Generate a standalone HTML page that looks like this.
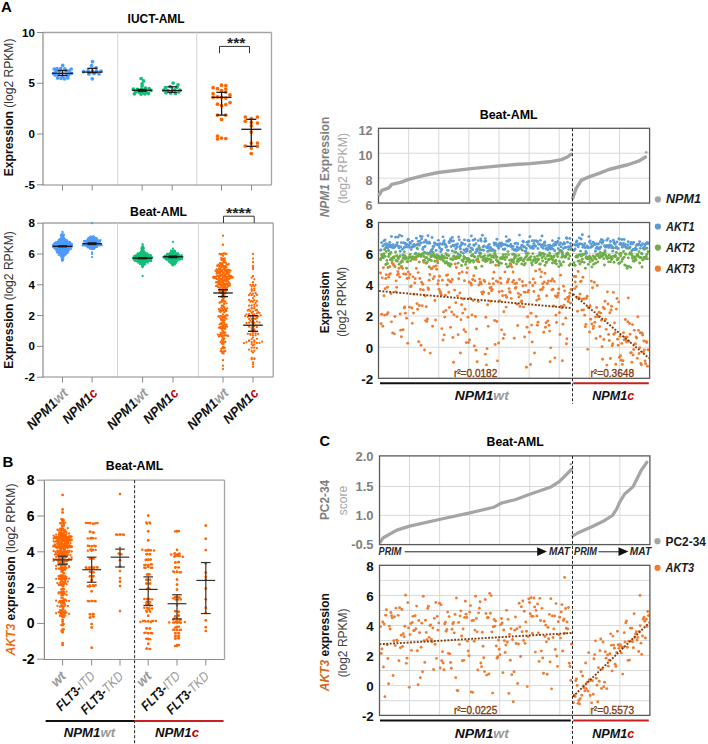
<!DOCTYPE html>
<html><head><meta charset="utf-8"><style>
html,body{margin:0;padding:0;background:#fff;}
svg{display:block;font-family:"Liberation Sans", sans-serif;}
</style></head><body>
<svg width="708" height="744" viewBox="0 0 708 744">
<rect width="708" height="744" fill="#fff"/>
<text x="1.00" y="12.30" font-size="15" font-weight="bold" font-style="normal" fill="#000" text-anchor="start">A</text>
<text x="2.40" y="467.10" font-size="15" font-weight="bold" font-style="normal" fill="#000" text-anchor="start">B</text>
<text x="319.60" y="446.00" font-size="14.5" font-weight="bold" font-style="normal" fill="#000" text-anchor="start">C</text>
<text x="156.10" y="23.40" font-size="12.5" font-weight="bold" font-style="normal" fill="#000" text-anchor="middle" textLength="57" lengthAdjust="spacingAndGlyphs">IUCT-AML</text>
<line x1="43.00" y1="32.50" x2="271.50" y2="32.50" stroke="#a4a4a4" stroke-width="1.3"/>
<line x1="271.50" y1="32.50" x2="271.50" y2="185.00" stroke="#a4a4a4" stroke-width="1.3"/>
<line x1="117.70" y1="32.50" x2="117.70" y2="185.00" stroke="#d4d4d4" stroke-width="1"/>
<line x1="196.70" y1="32.50" x2="196.70" y2="185.00" stroke="#d4d4d4" stroke-width="1"/>
<line x1="43.00" y1="32.50" x2="43.00" y2="185.50" stroke="#8a8a8a" stroke-width="1.2"/>
<line x1="42.50" y1="185.00" x2="271.50" y2="185.00" stroke="#8a8a8a" stroke-width="1.2"/>
<line x1="37.00" y1="32.50" x2="43.00" y2="32.50" stroke="#8a8a8a" stroke-width="1"/>
<text x="34.80" y="36.50" font-size="11.5" font-weight="bold" font-style="normal" fill="#000" text-anchor="end">10</text>
<line x1="37.00" y1="83.25" x2="43.00" y2="83.25" stroke="#8a8a8a" stroke-width="1"/>
<text x="34.80" y="87.25" font-size="11.5" font-weight="bold" font-style="normal" fill="#000" text-anchor="end">5</text>
<line x1="37.00" y1="134.00" x2="43.00" y2="134.00" stroke="#8a8a8a" stroke-width="1"/>
<text x="34.80" y="138.00" font-size="11.5" font-weight="bold" font-style="normal" fill="#000" text-anchor="end">0</text>
<line x1="37.00" y1="184.75" x2="43.00" y2="184.75" stroke="#8a8a8a" stroke-width="1"/>
<text x="34.80" y="188.75" font-size="11.5" font-weight="bold" font-style="normal" fill="#000" text-anchor="end">-5</text>
<line x1="62.50" y1="185.00" x2="62.50" y2="190.50" stroke="#8a8a8a" stroke-width="1"/>
<line x1="92.20" y1="185.00" x2="92.20" y2="190.50" stroke="#8a8a8a" stroke-width="1"/>
<line x1="142.20" y1="185.00" x2="142.20" y2="190.50" stroke="#8a8a8a" stroke-width="1"/>
<line x1="172.20" y1="185.00" x2="172.20" y2="190.50" stroke="#8a8a8a" stroke-width="1"/>
<line x1="221.50" y1="185.00" x2="221.50" y2="190.50" stroke="#8a8a8a" stroke-width="1"/>
<line x1="251.50" y1="185.00" x2="251.50" y2="190.50" stroke="#8a8a8a" stroke-width="1"/>
<path d="M219.5,53.2 V46.4 H249.5 V53.2" fill="none" stroke="#333" stroke-width="1"/>
<text x="236.20" y="47.80" font-size="15" font-weight="bold" font-style="normal" fill="#222" text-anchor="middle" textLength="18.3" lengthAdjust="spacingAndGlyphs">***</text>
<g fill="#4f9bff"><circle cx="62.70" cy="65.40" r="1.85"/><circle cx="54.20" cy="69.00" r="1.85"/><circle cx="56.90" cy="68.60" r="1.85"/><circle cx="60.60" cy="68.60" r="1.85"/><circle cx="64.80" cy="68.80" r="1.85"/><circle cx="71.20" cy="69.00" r="1.85"/><circle cx="69.10" cy="70.80" r="1.85"/><circle cx="55.90" cy="71.20" r="1.85"/><circle cx="59.30" cy="71.10" r="1.85"/><circle cx="66.10" cy="70.70" r="1.85"/><circle cx="55.10" cy="75.00" r="1.85"/><circle cx="58.50" cy="75.00" r="1.85"/><circle cx="66.90" cy="75.40" r="1.85"/><circle cx="68.60" cy="75.00" r="1.85"/><circle cx="57.60" cy="77.90" r="1.85"/><circle cx="61.00" cy="78.30" r="1.85"/><circle cx="64.40" cy="78.80" r="1.85"/><circle cx="67.80" cy="77.90" r="1.85"/><circle cx="62.70" cy="76.60" r="1.85"/><circle cx="53.60" cy="73.50" r="1.85"/><circle cx="71.50" cy="73.30" r="1.85"/></g>
<g fill="#4f9bff"><circle cx="92.50" cy="61.70" r="1.85"/><circle cx="91.50" cy="65.70" r="1.85"/><circle cx="96.10" cy="67.90" r="1.85"/><circle cx="83.60" cy="71.70" r="1.85"/><circle cx="88.10" cy="70.70" r="1.85"/><circle cx="92.50" cy="71.10" r="1.85"/><circle cx="96.50" cy="71.10" r="1.85"/><circle cx="101.00" cy="71.10" r="1.85"/><circle cx="88.90" cy="74.00" r="1.85"/><circle cx="94.10" cy="73.50" r="1.85"/><circle cx="99.00" cy="74.00" r="1.85"/><circle cx="92.30" cy="78.80" r="1.85"/></g>
<g fill="#12bf78"><circle cx="141.20" cy="78.50" r="1.85"/><circle cx="143.60" cy="80.90" r="1.85"/><circle cx="142.10" cy="83.80" r="1.85"/><circle cx="142.10" cy="86.00" r="1.85"/><circle cx="133.30" cy="89.00" r="1.85"/><circle cx="137.40" cy="89.30" r="1.85"/><circle cx="141.40" cy="89.00" r="1.85"/><circle cx="145.40" cy="88.20" r="1.85"/><circle cx="149.10" cy="88.60" r="1.85"/><circle cx="151.00" cy="90.40" r="1.85"/><circle cx="135.50" cy="91.90" r="1.85"/><circle cx="139.20" cy="92.30" r="1.85"/><circle cx="142.90" cy="92.30" r="1.85"/><circle cx="146.50" cy="92.30" r="1.85"/><circle cx="134.40" cy="93.80" r="1.85"/><circle cx="141.00" cy="94.10" r="1.85"/><circle cx="144.70" cy="93.80" r="1.85"/><circle cx="148.40" cy="93.40" r="1.85"/></g>
<g fill="#12bf78"><circle cx="173.10" cy="83.00" r="1.85"/><circle cx="178.00" cy="84.80" r="1.85"/><circle cx="170.30" cy="86.60" r="1.85"/><circle cx="165.50" cy="87.70" r="1.85"/><circle cx="176.90" cy="87.20" r="1.85"/><circle cx="163.70" cy="90.10" r="1.85"/><circle cx="167.70" cy="90.50" r="1.85"/><circle cx="174.70" cy="89.80" r="1.85"/><circle cx="179.90" cy="90.10" r="1.85"/><circle cx="165.90" cy="92.70" r="1.85"/><circle cx="170.70" cy="93.10" r="1.85"/><circle cx="175.40" cy="93.40" r="1.85"/><circle cx="178.80" cy="92.00" r="1.85"/></g>
<g fill="#ff6600"><circle cx="213.10" cy="87.70" r="1.85"/><circle cx="221.50" cy="85.20" r="1.85"/><circle cx="225.80" cy="85.50" r="1.85"/><circle cx="217.50" cy="88.70" r="1.85"/><circle cx="221.50" cy="90.50" r="1.85"/><circle cx="225.80" cy="89.00" r="1.85"/><circle cx="213.10" cy="93.70" r="1.85"/><circle cx="225.80" cy="92.10" r="1.85"/><circle cx="230.00" cy="94.90" r="1.85"/><circle cx="213.10" cy="97.30" r="1.85"/><circle cx="217.50" cy="96.90" r="1.85"/><circle cx="225.80" cy="98.10" r="1.85"/><circle cx="221.50" cy="97.30" r="1.85"/><circle cx="217.50" cy="104.20" r="1.85"/><circle cx="221.50" cy="105.60" r="1.85"/><circle cx="225.80" cy="104.60" r="1.85"/><circle cx="230.00" cy="102.60" r="1.85"/><circle cx="217.50" cy="115.10" r="1.85"/><circle cx="225.80" cy="115.10" r="1.85"/><circle cx="221.50" cy="119.40" r="1.85"/><circle cx="217.50" cy="136.00" r="1.85"/><circle cx="221.50" cy="138.10" r="1.85"/><circle cx="225.80" cy="138.50" r="1.85"/><circle cx="217.50" cy="138.90" r="1.85"/></g>
<g fill="#ff6600"><circle cx="245.30" cy="117.00" r="1.85"/><circle cx="257.40" cy="117.00" r="1.85"/><circle cx="251.30" cy="118.50" r="1.85"/><circle cx="245.30" cy="121.20" r="1.85"/><circle cx="251.30" cy="122.40" r="1.85"/><circle cx="257.40" cy="123.00" r="1.85"/><circle cx="251.30" cy="125.80" r="1.85"/><circle cx="251.30" cy="132.10" r="1.85"/><circle cx="251.30" cy="143.10" r="1.85"/><circle cx="257.40" cy="143.00" r="1.85"/><circle cx="245.30" cy="146.00" r="1.85"/><circle cx="257.40" cy="146.30" r="1.85"/><circle cx="251.30" cy="148.10" r="1.85"/><circle cx="251.30" cy="153.50" r="1.85"/></g>
<line x1="52.10" y1="73.30" x2="72.90" y2="73.30" stroke="#1a1a1a" stroke-width="1.3"/>
<line x1="62.50" y1="70.50" x2="62.50" y2="75.40" stroke="#1a1a1a" stroke-width="1.3"/>
<line x1="57.60" y1="70.50" x2="67.40" y2="70.50" stroke="#1a1a1a" stroke-width="1.3"/>
<line x1="57.60" y1="75.40" x2="67.40" y2="75.40" stroke="#1a1a1a" stroke-width="1.3"/>
<line x1="82.10" y1="72.10" x2="102.50" y2="72.10" stroke="#1a1a1a" stroke-width="1.3"/>
<line x1="92.30" y1="68.30" x2="92.30" y2="72.70" stroke="#1a1a1a" stroke-width="1.3"/>
<line x1="87.30" y1="68.30" x2="97.30" y2="68.30" stroke="#1a1a1a" stroke-width="1.3"/>
<line x1="87.30" y1="72.70" x2="97.30" y2="72.70" stroke="#1a1a1a" stroke-width="1.3"/>
<line x1="132.00" y1="90.30" x2="152.00" y2="90.30" stroke="#1a1a1a" stroke-width="1.3"/>
<line x1="142.00" y1="89.50" x2="142.00" y2="91.20" stroke="#1a1a1a" stroke-width="1.3"/>
<line x1="137.40" y1="89.50" x2="146.60" y2="89.50" stroke="#1a1a1a" stroke-width="1.3"/>
<line x1="137.40" y1="91.20" x2="146.60" y2="91.20" stroke="#1a1a1a" stroke-width="1.3"/>
<line x1="162.10" y1="90.50" x2="182.10" y2="90.50" stroke="#1a1a1a" stroke-width="1.3"/>
<line x1="172.10" y1="86.80" x2="172.10" y2="92.30" stroke="#1a1a1a" stroke-width="1.3"/>
<line x1="167.30" y1="86.80" x2="176.90" y2="86.80" stroke="#1a1a1a" stroke-width="1.3"/>
<line x1="167.30" y1="92.30" x2="176.90" y2="92.30" stroke="#1a1a1a" stroke-width="1.3"/>
<line x1="211.70" y1="97.30" x2="231.50" y2="97.30" stroke="#1a1a1a" stroke-width="1.3"/>
<line x1="221.60" y1="92.30" x2="221.60" y2="115.10" stroke="#1a1a1a" stroke-width="1.3"/>
<line x1="216.40" y1="92.30" x2="226.80" y2="92.30" stroke="#1a1a1a" stroke-width="1.3"/>
<line x1="216.40" y1="115.10" x2="226.80" y2="115.10" stroke="#1a1a1a" stroke-width="1.3"/>
<line x1="241.30" y1="129.30" x2="261.30" y2="129.30" stroke="#1a1a1a" stroke-width="1.3"/>
<line x1="251.30" y1="119.30" x2="251.30" y2="146.30" stroke="#1a1a1a" stroke-width="1.3"/>
<line x1="246.30" y1="119.30" x2="256.30" y2="119.30" stroke="#1a1a1a" stroke-width="1.3"/>
<line x1="246.30" y1="146.30" x2="256.30" y2="146.30" stroke="#1a1a1a" stroke-width="1.3"/>
<text x="0.00" y="0.00" font-size="12" text-anchor="middle" textLength="137.6" lengthAdjust="spacingAndGlyphs" transform="translate(13.2,107.4) rotate(-90)"><tspan font-weight="bold" font-style="normal" fill="#111">Expression </tspan><tspan font-weight="normal" font-style="normal" fill="#333">(log2 RPKM)</tspan></text>
<text x="158.60" y="215.80" font-size="12.5" font-weight="bold" font-style="normal" fill="#000" text-anchor="middle" textLength="57" lengthAdjust="spacingAndGlyphs">Beat-AML</text>
<line x1="43.00" y1="223.00" x2="273.20" y2="223.00" stroke="#a4a4a4" stroke-width="1.3"/>
<line x1="273.20" y1="223.00" x2="273.20" y2="377.00" stroke="#a4a4a4" stroke-width="1.3"/>
<line x1="117.50" y1="223.00" x2="117.50" y2="377.00" stroke="#d4d4d4" stroke-width="1"/>
<line x1="198.40" y1="223.00" x2="198.40" y2="377.00" stroke="#d4d4d4" stroke-width="1"/>
<line x1="43.00" y1="223.00" x2="43.00" y2="377.50" stroke="#8a8a8a" stroke-width="1.2"/>
<line x1="42.50" y1="377.00" x2="273.20" y2="377.00" stroke="#8a8a8a" stroke-width="1.2"/>
<line x1="37.00" y1="223.20" x2="43.00" y2="223.20" stroke="#8a8a8a" stroke-width="1"/>
<text x="34.80" y="227.20" font-size="11.5" font-weight="bold" font-style="normal" fill="#000" text-anchor="end">8</text>
<line x1="37.00" y1="254.00" x2="43.00" y2="254.00" stroke="#8a8a8a" stroke-width="1"/>
<text x="34.80" y="258.00" font-size="11.5" font-weight="bold" font-style="normal" fill="#000" text-anchor="end">6</text>
<line x1="37.00" y1="284.80" x2="43.00" y2="284.80" stroke="#8a8a8a" stroke-width="1"/>
<text x="34.80" y="288.80" font-size="11.5" font-weight="bold" font-style="normal" fill="#000" text-anchor="end">4</text>
<line x1="37.00" y1="315.60" x2="43.00" y2="315.60" stroke="#8a8a8a" stroke-width="1"/>
<text x="34.80" y="319.60" font-size="11.5" font-weight="bold" font-style="normal" fill="#000" text-anchor="end">2</text>
<line x1="37.00" y1="346.40" x2="43.00" y2="346.40" stroke="#8a8a8a" stroke-width="1"/>
<text x="34.80" y="350.40" font-size="11.5" font-weight="bold" font-style="normal" fill="#000" text-anchor="end">0</text>
<line x1="37.00" y1="377.20" x2="43.00" y2="377.20" stroke="#8a8a8a" stroke-width="1"/>
<text x="34.80" y="381.20" font-size="11.5" font-weight="bold" font-style="normal" fill="#000" text-anchor="end">-2</text>
<line x1="62.50" y1="377.00" x2="62.50" y2="382.50" stroke="#8a8a8a" stroke-width="1"/>
<line x1="92.10" y1="377.00" x2="92.10" y2="382.50" stroke="#8a8a8a" stroke-width="1"/>
<line x1="142.60" y1="377.00" x2="142.60" y2="382.50" stroke="#8a8a8a" stroke-width="1"/>
<line x1="173.00" y1="377.00" x2="173.00" y2="382.50" stroke="#8a8a8a" stroke-width="1"/>
<line x1="223.00" y1="377.00" x2="223.00" y2="382.50" stroke="#8a8a8a" stroke-width="1"/>
<line x1="253.00" y1="377.00" x2="253.00" y2="382.50" stroke="#8a8a8a" stroke-width="1"/>
<path d="M223.5,222.9 V216.2 H254.2 V222.9" fill="none" stroke="#333" stroke-width="1"/>
<text x="238.60" y="217.60" font-size="15" font-weight="bold" font-style="normal" fill="#222" text-anchor="middle" textLength="25.4" lengthAdjust="spacingAndGlyphs">****</text>
<g fill="#4f9bff"><circle cx="62.50" cy="231.82" r="1.15"/><circle cx="62.50" cy="233.08" r="1.15"/><circle cx="61.09" cy="234.92" r="1.15"/><circle cx="61.49" cy="234.96" r="1.15"/><circle cx="61.89" cy="235.68" r="1.15"/><circle cx="62.30" cy="236.22" r="1.15"/><circle cx="62.70" cy="234.87" r="1.15"/><circle cx="63.11" cy="235.60" r="1.15"/><circle cx="63.51" cy="235.09" r="1.15"/><circle cx="63.91" cy="234.76" r="1.15"/><circle cx="61.29" cy="236.57" r="1.15"/><circle cx="61.69" cy="237.05" r="1.15"/><circle cx="62.10" cy="236.85" r="1.15"/><circle cx="62.50" cy="238.00" r="1.15"/><circle cx="62.90" cy="236.63" r="1.15"/><circle cx="63.31" cy="236.97" r="1.15"/><circle cx="63.71" cy="237.91" r="1.15"/><circle cx="59.87" cy="239.22" r="1.15"/><circle cx="60.28" cy="239.08" r="1.15"/><circle cx="60.68" cy="239.18" r="1.15"/><circle cx="61.09" cy="238.59" r="1.15"/><circle cx="61.49" cy="238.39" r="1.15"/><circle cx="61.89" cy="239.63" r="1.15"/><circle cx="62.30" cy="238.65" r="1.15"/><circle cx="62.70" cy="239.35" r="1.15"/><circle cx="63.11" cy="238.63" r="1.15"/><circle cx="63.51" cy="239.82" r="1.15"/><circle cx="63.91" cy="238.39" r="1.15"/><circle cx="64.32" cy="239.88" r="1.15"/><circle cx="64.72" cy="239.45" r="1.15"/><circle cx="65.13" cy="239.35" r="1.15"/><circle cx="57.45" cy="241.84" r="1.15"/><circle cx="57.85" cy="241.80" r="1.15"/><circle cx="58.26" cy="241.59" r="1.15"/><circle cx="58.66" cy="240.23" r="1.15"/><circle cx="59.06" cy="241.58" r="1.15"/><circle cx="59.47" cy="241.89" r="1.15"/><circle cx="59.87" cy="240.51" r="1.15"/><circle cx="60.28" cy="240.54" r="1.15"/><circle cx="60.68" cy="240.96" r="1.15"/><circle cx="61.09" cy="241.84" r="1.15"/><circle cx="61.49" cy="240.15" r="1.15"/><circle cx="61.89" cy="240.96" r="1.15"/><circle cx="62.30" cy="240.82" r="1.15"/><circle cx="62.70" cy="240.97" r="1.15"/><circle cx="63.11" cy="240.10" r="1.15"/><circle cx="63.51" cy="240.59" r="1.15"/><circle cx="63.91" cy="240.12" r="1.15"/><circle cx="64.32" cy="241.77" r="1.15"/><circle cx="64.72" cy="240.40" r="1.15"/><circle cx="65.13" cy="240.30" r="1.15"/><circle cx="65.53" cy="240.45" r="1.15"/><circle cx="65.94" cy="240.25" r="1.15"/><circle cx="66.34" cy="241.71" r="1.15"/><circle cx="66.74" cy="240.15" r="1.15"/><circle cx="67.15" cy="241.22" r="1.15"/><circle cx="67.55" cy="241.58" r="1.15"/><circle cx="54.62" cy="243.17" r="1.15"/><circle cx="55.02" cy="243.28" r="1.15"/><circle cx="55.43" cy="243.51" r="1.15"/><circle cx="55.83" cy="242.58" r="1.15"/><circle cx="56.23" cy="242.09" r="1.15"/><circle cx="56.64" cy="242.49" r="1.15"/><circle cx="57.04" cy="243.63" r="1.15"/><circle cx="57.45" cy="243.44" r="1.15"/><circle cx="57.85" cy="242.73" r="1.15"/><circle cx="58.26" cy="242.93" r="1.15"/><circle cx="58.66" cy="243.24" r="1.15"/><circle cx="59.06" cy="243.37" r="1.15"/><circle cx="59.47" cy="242.50" r="1.15"/><circle cx="59.87" cy="243.36" r="1.15"/><circle cx="60.28" cy="242.10" r="1.15"/><circle cx="60.68" cy="242.55" r="1.15"/><circle cx="61.09" cy="243.17" r="1.15"/><circle cx="61.49" cy="242.14" r="1.15"/><circle cx="61.89" cy="243.04" r="1.15"/><circle cx="62.30" cy="243.27" r="1.15"/><circle cx="62.70" cy="243.52" r="1.15"/><circle cx="63.11" cy="242.82" r="1.15"/><circle cx="63.51" cy="242.25" r="1.15"/><circle cx="63.91" cy="243.40" r="1.15"/><circle cx="64.32" cy="242.43" r="1.15"/><circle cx="64.72" cy="242.75" r="1.15"/><circle cx="65.13" cy="243.75" r="1.15"/><circle cx="65.53" cy="242.03" r="1.15"/><circle cx="65.94" cy="243.76" r="1.15"/><circle cx="66.34" cy="242.65" r="1.15"/><circle cx="66.74" cy="242.55" r="1.15"/><circle cx="67.15" cy="242.52" r="1.15"/><circle cx="67.55" cy="243.44" r="1.15"/><circle cx="67.96" cy="242.73" r="1.15"/><circle cx="68.36" cy="243.15" r="1.15"/><circle cx="68.77" cy="242.78" r="1.15"/><circle cx="69.17" cy="242.06" r="1.15"/><circle cx="69.57" cy="242.01" r="1.15"/><circle cx="69.98" cy="242.41" r="1.15"/><circle cx="70.38" cy="242.79" r="1.15"/><circle cx="53.00" cy="245.63" r="1.15"/><circle cx="53.40" cy="244.87" r="1.15"/><circle cx="53.81" cy="244.39" r="1.15"/><circle cx="54.21" cy="244.31" r="1.15"/><circle cx="54.62" cy="244.25" r="1.15"/><circle cx="55.02" cy="245.18" r="1.15"/><circle cx="55.43" cy="245.64" r="1.15"/><circle cx="55.83" cy="244.22" r="1.15"/><circle cx="56.23" cy="244.63" r="1.15"/><circle cx="56.64" cy="245.26" r="1.15"/><circle cx="57.04" cy="245.36" r="1.15"/><circle cx="57.45" cy="245.35" r="1.15"/><circle cx="57.85" cy="245.57" r="1.15"/><circle cx="58.26" cy="245.05" r="1.15"/><circle cx="58.66" cy="245.13" r="1.15"/><circle cx="59.06" cy="244.79" r="1.15"/><circle cx="59.47" cy="244.14" r="1.15"/><circle cx="59.87" cy="244.85" r="1.15"/><circle cx="60.28" cy="244.58" r="1.15"/><circle cx="60.68" cy="244.06" r="1.15"/><circle cx="61.09" cy="245.39" r="1.15"/><circle cx="61.49" cy="245.17" r="1.15"/><circle cx="61.89" cy="244.24" r="1.15"/><circle cx="62.30" cy="244.45" r="1.15"/><circle cx="62.70" cy="245.41" r="1.15"/><circle cx="63.11" cy="244.90" r="1.15"/><circle cx="63.51" cy="244.62" r="1.15"/><circle cx="63.91" cy="244.68" r="1.15"/><circle cx="64.32" cy="245.28" r="1.15"/><circle cx="64.72" cy="245.28" r="1.15"/><circle cx="65.13" cy="244.49" r="1.15"/><circle cx="65.53" cy="243.95" r="1.15"/><circle cx="65.94" cy="245.20" r="1.15"/><circle cx="66.34" cy="244.42" r="1.15"/><circle cx="66.74" cy="244.39" r="1.15"/><circle cx="67.15" cy="244.30" r="1.15"/><circle cx="67.55" cy="244.82" r="1.15"/><circle cx="67.96" cy="244.71" r="1.15"/><circle cx="68.36" cy="245.27" r="1.15"/><circle cx="68.77" cy="245.36" r="1.15"/><circle cx="69.17" cy="245.30" r="1.15"/><circle cx="69.57" cy="244.80" r="1.15"/><circle cx="69.98" cy="243.97" r="1.15"/><circle cx="70.38" cy="245.70" r="1.15"/><circle cx="70.79" cy="244.12" r="1.15"/><circle cx="71.19" cy="244.51" r="1.15"/><circle cx="71.60" cy="245.24" r="1.15"/><circle cx="72.00" cy="244.24" r="1.15"/><circle cx="53.00" cy="246.86" r="1.15"/><circle cx="53.40" cy="247.18" r="1.15"/><circle cx="53.81" cy="246.56" r="1.15"/><circle cx="54.21" cy="246.20" r="1.15"/><circle cx="54.62" cy="247.56" r="1.15"/><circle cx="55.02" cy="247.26" r="1.15"/><circle cx="55.43" cy="246.61" r="1.15"/><circle cx="55.83" cy="246.41" r="1.15"/><circle cx="56.23" cy="246.77" r="1.15"/><circle cx="56.64" cy="245.71" r="1.15"/><circle cx="57.04" cy="246.54" r="1.15"/><circle cx="57.45" cy="247.34" r="1.15"/><circle cx="57.85" cy="246.88" r="1.15"/><circle cx="58.26" cy="246.66" r="1.15"/><circle cx="58.66" cy="247.00" r="1.15"/><circle cx="59.06" cy="246.68" r="1.15"/><circle cx="59.47" cy="245.77" r="1.15"/><circle cx="59.87" cy="246.55" r="1.15"/><circle cx="60.28" cy="246.06" r="1.15"/><circle cx="60.68" cy="246.15" r="1.15"/><circle cx="61.09" cy="246.25" r="1.15"/><circle cx="61.49" cy="246.54" r="1.15"/><circle cx="61.89" cy="247.53" r="1.15"/><circle cx="62.30" cy="246.13" r="1.15"/><circle cx="62.70" cy="246.21" r="1.15"/><circle cx="63.11" cy="246.84" r="1.15"/><circle cx="63.51" cy="246.61" r="1.15"/><circle cx="63.91" cy="246.09" r="1.15"/><circle cx="64.32" cy="245.75" r="1.15"/><circle cx="64.72" cy="246.69" r="1.15"/><circle cx="65.13" cy="245.88" r="1.15"/><circle cx="65.53" cy="246.04" r="1.15"/><circle cx="65.94" cy="246.18" r="1.15"/><circle cx="66.34" cy="246.09" r="1.15"/><circle cx="66.74" cy="245.96" r="1.15"/><circle cx="67.15" cy="246.91" r="1.15"/><circle cx="67.55" cy="246.24" r="1.15"/><circle cx="67.96" cy="245.99" r="1.15"/><circle cx="68.36" cy="247.53" r="1.15"/><circle cx="68.77" cy="245.83" r="1.15"/><circle cx="69.17" cy="245.99" r="1.15"/><circle cx="69.57" cy="246.44" r="1.15"/><circle cx="69.98" cy="247.17" r="1.15"/><circle cx="70.38" cy="246.10" r="1.15"/><circle cx="70.79" cy="245.71" r="1.15"/><circle cx="71.19" cy="245.72" r="1.15"/><circle cx="71.60" cy="246.95" r="1.15"/><circle cx="72.00" cy="246.04" r="1.15"/><circle cx="54.21" cy="247.63" r="1.15"/><circle cx="54.62" cy="248.18" r="1.15"/><circle cx="55.02" cy="248.11" r="1.15"/><circle cx="55.43" cy="248.96" r="1.15"/><circle cx="55.83" cy="247.70" r="1.15"/><circle cx="56.23" cy="249.06" r="1.15"/><circle cx="56.64" cy="248.08" r="1.15"/><circle cx="57.04" cy="248.14" r="1.15"/><circle cx="57.45" cy="247.75" r="1.15"/><circle cx="57.85" cy="248.21" r="1.15"/><circle cx="58.26" cy="249.07" r="1.15"/><circle cx="58.66" cy="248.48" r="1.15"/><circle cx="59.06" cy="249.14" r="1.15"/><circle cx="59.47" cy="249.02" r="1.15"/><circle cx="59.87" cy="248.00" r="1.15"/><circle cx="60.28" cy="248.16" r="1.15"/><circle cx="60.68" cy="248.67" r="1.15"/><circle cx="61.09" cy="249.39" r="1.15"/><circle cx="61.49" cy="249.34" r="1.15"/><circle cx="61.89" cy="248.05" r="1.15"/><circle cx="62.30" cy="247.84" r="1.15"/><circle cx="62.70" cy="248.98" r="1.15"/><circle cx="63.11" cy="247.74" r="1.15"/><circle cx="63.51" cy="247.91" r="1.15"/><circle cx="63.91" cy="249.31" r="1.15"/><circle cx="64.32" cy="248.86" r="1.15"/><circle cx="64.72" cy="247.94" r="1.15"/><circle cx="65.13" cy="249.10" r="1.15"/><circle cx="65.53" cy="247.66" r="1.15"/><circle cx="65.94" cy="248.33" r="1.15"/><circle cx="66.34" cy="248.97" r="1.15"/><circle cx="66.74" cy="247.84" r="1.15"/><circle cx="67.15" cy="248.70" r="1.15"/><circle cx="67.55" cy="248.73" r="1.15"/><circle cx="67.96" cy="247.99" r="1.15"/><circle cx="68.36" cy="247.93" r="1.15"/><circle cx="68.77" cy="249.24" r="1.15"/><circle cx="69.17" cy="249.07" r="1.15"/><circle cx="69.57" cy="248.19" r="1.15"/><circle cx="69.98" cy="248.86" r="1.15"/><circle cx="70.38" cy="249.17" r="1.15"/><circle cx="70.79" cy="248.89" r="1.15"/><circle cx="56.44" cy="250.53" r="1.15"/><circle cx="56.84" cy="251.35" r="1.15"/><circle cx="57.24" cy="250.74" r="1.15"/><circle cx="57.65" cy="250.80" r="1.15"/><circle cx="58.05" cy="250.85" r="1.15"/><circle cx="58.46" cy="250.39" r="1.15"/><circle cx="58.86" cy="250.68" r="1.15"/><circle cx="59.27" cy="249.76" r="1.15"/><circle cx="59.67" cy="250.15" r="1.15"/><circle cx="60.07" cy="251.26" r="1.15"/><circle cx="60.48" cy="250.62" r="1.15"/><circle cx="60.88" cy="249.52" r="1.15"/><circle cx="61.29" cy="250.72" r="1.15"/><circle cx="61.69" cy="250.20" r="1.15"/><circle cx="62.10" cy="251.25" r="1.15"/><circle cx="62.50" cy="250.77" r="1.15"/><circle cx="62.90" cy="250.53" r="1.15"/><circle cx="63.31" cy="250.45" r="1.15"/><circle cx="63.71" cy="250.15" r="1.15"/><circle cx="64.12" cy="250.26" r="1.15"/><circle cx="64.52" cy="251.33" r="1.15"/><circle cx="64.93" cy="251.09" r="1.15"/><circle cx="65.33" cy="250.60" r="1.15"/><circle cx="65.73" cy="249.59" r="1.15"/><circle cx="66.14" cy="250.75" r="1.15"/><circle cx="66.54" cy="251.17" r="1.15"/><circle cx="66.95" cy="250.98" r="1.15"/><circle cx="67.35" cy="249.81" r="1.15"/><circle cx="67.76" cy="249.76" r="1.15"/><circle cx="68.16" cy="250.72" r="1.15"/><circle cx="68.56" cy="250.63" r="1.15"/><circle cx="57.24" cy="252.50" r="1.15"/><circle cx="57.65" cy="252.43" r="1.15"/><circle cx="58.05" cy="252.40" r="1.15"/><circle cx="58.46" cy="251.86" r="1.15"/><circle cx="58.86" cy="252.14" r="1.15"/><circle cx="59.27" cy="252.36" r="1.15"/><circle cx="59.67" cy="251.91" r="1.15"/><circle cx="60.07" cy="252.53" r="1.15"/><circle cx="60.48" cy="252.61" r="1.15"/><circle cx="60.88" cy="251.48" r="1.15"/><circle cx="61.29" cy="252.00" r="1.15"/><circle cx="61.69" cy="252.86" r="1.15"/><circle cx="62.10" cy="252.30" r="1.15"/><circle cx="62.50" cy="251.98" r="1.15"/><circle cx="62.90" cy="251.44" r="1.15"/><circle cx="63.31" cy="252.71" r="1.15"/><circle cx="63.71" cy="252.50" r="1.15"/><circle cx="64.12" cy="252.46" r="1.15"/><circle cx="64.52" cy="252.05" r="1.15"/><circle cx="64.93" cy="252.29" r="1.15"/><circle cx="65.33" cy="252.63" r="1.15"/><circle cx="65.73" cy="253.12" r="1.15"/><circle cx="66.14" cy="252.80" r="1.15"/><circle cx="66.54" cy="252.92" r="1.15"/><circle cx="66.95" cy="251.80" r="1.15"/><circle cx="67.35" cy="251.38" r="1.15"/><circle cx="67.76" cy="252.80" r="1.15"/><circle cx="58.86" cy="254.94" r="1.15"/><circle cx="59.27" cy="253.57" r="1.15"/><circle cx="59.67" cy="254.01" r="1.15"/><circle cx="60.07" cy="254.68" r="1.15"/><circle cx="60.48" cy="253.36" r="1.15"/><circle cx="60.88" cy="253.93" r="1.15"/><circle cx="61.29" cy="254.22" r="1.15"/><circle cx="61.69" cy="253.32" r="1.15"/><circle cx="62.10" cy="254.28" r="1.15"/><circle cx="62.50" cy="254.15" r="1.15"/><circle cx="62.90" cy="253.36" r="1.15"/><circle cx="63.31" cy="253.49" r="1.15"/><circle cx="63.71" cy="254.90" r="1.15"/><circle cx="64.12" cy="254.26" r="1.15"/><circle cx="64.52" cy="254.85" r="1.15"/><circle cx="64.93" cy="253.51" r="1.15"/><circle cx="65.33" cy="254.65" r="1.15"/><circle cx="65.73" cy="254.21" r="1.15"/><circle cx="66.14" cy="253.99" r="1.15"/><circle cx="60.68" cy="256.11" r="1.15"/><circle cx="61.09" cy="256.60" r="1.15"/><circle cx="61.49" cy="255.99" r="1.15"/><circle cx="61.89" cy="255.90" r="1.15"/><circle cx="62.30" cy="255.98" r="1.15"/><circle cx="62.70" cy="256.33" r="1.15"/><circle cx="63.11" cy="257.04" r="1.15"/><circle cx="63.51" cy="255.79" r="1.15"/><circle cx="63.91" cy="256.05" r="1.15"/><circle cx="64.32" cy="255.28" r="1.15"/><circle cx="61.89" cy="258.66" r="1.15"/><circle cx="62.30" cy="257.07" r="1.15"/><circle cx="62.70" cy="258.60" r="1.15"/><circle cx="63.11" cy="258.69" r="1.15"/><circle cx="61.89" cy="260.13" r="1.15"/><circle cx="62.30" cy="260.77" r="1.15"/><circle cx="62.70" cy="260.30" r="1.15"/><circle cx="63.11" cy="259.57" r="1.15"/></g>
<g fill="#4f9bff"><circle cx="92.10" cy="223.20" r="1.15"/><circle cx="89.78" cy="237.24" r="1.15"/><circle cx="90.25" cy="237.74" r="1.15"/><circle cx="90.71" cy="236.73" r="1.15"/><circle cx="91.17" cy="237.16" r="1.15"/><circle cx="91.64" cy="237.85" r="1.15"/><circle cx="92.10" cy="237.38" r="1.15"/><circle cx="92.56" cy="237.15" r="1.15"/><circle cx="93.03" cy="236.33" r="1.15"/><circle cx="93.49" cy="236.67" r="1.15"/><circle cx="93.95" cy="236.81" r="1.15"/><circle cx="94.42" cy="237.28" r="1.15"/><circle cx="87.47" cy="240.03" r="1.15"/><circle cx="87.93" cy="239.25" r="1.15"/><circle cx="88.39" cy="238.19" r="1.15"/><circle cx="88.86" cy="238.76" r="1.15"/><circle cx="89.32" cy="239.32" r="1.15"/><circle cx="89.78" cy="239.34" r="1.15"/><circle cx="90.25" cy="239.99" r="1.15"/><circle cx="90.71" cy="238.42" r="1.15"/><circle cx="91.17" cy="238.16" r="1.15"/><circle cx="91.64" cy="239.60" r="1.15"/><circle cx="92.10" cy="238.96" r="1.15"/><circle cx="92.56" cy="239.08" r="1.15"/><circle cx="93.03" cy="238.76" r="1.15"/><circle cx="93.49" cy="238.74" r="1.15"/><circle cx="93.95" cy="239.33" r="1.15"/><circle cx="94.42" cy="239.38" r="1.15"/><circle cx="94.88" cy="239.94" r="1.15"/><circle cx="95.34" cy="238.36" r="1.15"/><circle cx="95.81" cy="239.15" r="1.15"/><circle cx="96.27" cy="238.27" r="1.15"/><circle cx="96.73" cy="238.39" r="1.15"/><circle cx="83.76" cy="241.29" r="1.15"/><circle cx="84.22" cy="241.45" r="1.15"/><circle cx="84.69" cy="241.34" r="1.15"/><circle cx="85.15" cy="240.94" r="1.15"/><circle cx="85.61" cy="241.31" r="1.15"/><circle cx="86.08" cy="241.32" r="1.15"/><circle cx="86.54" cy="241.91" r="1.15"/><circle cx="87.00" cy="241.91" r="1.15"/><circle cx="87.47" cy="240.39" r="1.15"/><circle cx="87.93" cy="240.80" r="1.15"/><circle cx="88.39" cy="241.46" r="1.15"/><circle cx="88.86" cy="241.07" r="1.15"/><circle cx="89.32" cy="240.42" r="1.15"/><circle cx="89.78" cy="241.73" r="1.15"/><circle cx="90.25" cy="240.39" r="1.15"/><circle cx="90.71" cy="241.67" r="1.15"/><circle cx="91.17" cy="240.90" r="1.15"/><circle cx="91.64" cy="241.80" r="1.15"/><circle cx="92.10" cy="240.92" r="1.15"/><circle cx="92.56" cy="240.14" r="1.15"/><circle cx="93.03" cy="240.45" r="1.15"/><circle cx="93.49" cy="240.29" r="1.15"/><circle cx="93.95" cy="241.31" r="1.15"/><circle cx="94.42" cy="241.35" r="1.15"/><circle cx="94.88" cy="241.18" r="1.15"/><circle cx="95.34" cy="240.58" r="1.15"/><circle cx="95.81" cy="240.38" r="1.15"/><circle cx="96.27" cy="240.96" r="1.15"/><circle cx="96.73" cy="240.13" r="1.15"/><circle cx="97.20" cy="240.43" r="1.15"/><circle cx="97.66" cy="241.82" r="1.15"/><circle cx="98.12" cy="240.50" r="1.15"/><circle cx="98.59" cy="241.90" r="1.15"/><circle cx="99.05" cy="240.96" r="1.15"/><circle cx="99.51" cy="241.70" r="1.15"/><circle cx="99.98" cy="241.58" r="1.15"/><circle cx="100.44" cy="240.05" r="1.15"/><circle cx="86.77" cy="243.17" r="1.15"/><circle cx="87.23" cy="242.84" r="1.15"/><circle cx="87.70" cy="243.53" r="1.15"/><circle cx="88.16" cy="243.56" r="1.15"/><circle cx="88.62" cy="243.69" r="1.15"/><circle cx="89.09" cy="243.18" r="1.15"/><circle cx="89.55" cy="242.06" r="1.15"/><circle cx="90.01" cy="243.72" r="1.15"/><circle cx="90.48" cy="242.42" r="1.15"/><circle cx="90.94" cy="243.14" r="1.15"/><circle cx="91.40" cy="241.93" r="1.15"/><circle cx="91.87" cy="243.68" r="1.15"/><circle cx="92.33" cy="242.79" r="1.15"/><circle cx="92.80" cy="242.76" r="1.15"/><circle cx="93.26" cy="243.58" r="1.15"/><circle cx="93.72" cy="242.86" r="1.15"/><circle cx="94.19" cy="243.79" r="1.15"/><circle cx="94.65" cy="243.77" r="1.15"/><circle cx="95.11" cy="242.83" r="1.15"/><circle cx="95.58" cy="242.65" r="1.15"/><circle cx="96.04" cy="243.38" r="1.15"/><circle cx="96.50" cy="243.58" r="1.15"/><circle cx="96.97" cy="242.70" r="1.15"/><circle cx="97.43" cy="243.47" r="1.15"/><circle cx="82.60" cy="245.34" r="1.15"/><circle cx="83.06" cy="245.41" r="1.15"/><circle cx="83.53" cy="244.80" r="1.15"/><circle cx="83.99" cy="243.85" r="1.15"/><circle cx="84.45" cy="244.29" r="1.15"/><circle cx="84.92" cy="245.59" r="1.15"/><circle cx="85.38" cy="244.65" r="1.15"/><circle cx="85.84" cy="244.28" r="1.15"/><circle cx="86.31" cy="245.45" r="1.15"/><circle cx="86.77" cy="245.32" r="1.15"/><circle cx="87.23" cy="244.94" r="1.15"/><circle cx="87.70" cy="244.96" r="1.15"/><circle cx="88.16" cy="245.23" r="1.15"/><circle cx="88.62" cy="245.27" r="1.15"/><circle cx="89.09" cy="244.14" r="1.15"/><circle cx="89.55" cy="245.32" r="1.15"/><circle cx="90.01" cy="245.15" r="1.15"/><circle cx="90.48" cy="244.95" r="1.15"/><circle cx="90.94" cy="244.14" r="1.15"/><circle cx="91.40" cy="245.14" r="1.15"/><circle cx="91.87" cy="244.16" r="1.15"/><circle cx="92.33" cy="244.40" r="1.15"/><circle cx="92.80" cy="244.68" r="1.15"/><circle cx="93.26" cy="244.36" r="1.15"/><circle cx="93.72" cy="244.94" r="1.15"/><circle cx="94.19" cy="243.98" r="1.15"/><circle cx="94.65" cy="244.82" r="1.15"/><circle cx="95.11" cy="245.37" r="1.15"/><circle cx="95.58" cy="243.98" r="1.15"/><circle cx="96.04" cy="245.01" r="1.15"/><circle cx="96.50" cy="245.47" r="1.15"/><circle cx="96.97" cy="245.56" r="1.15"/><circle cx="97.43" cy="245.46" r="1.15"/><circle cx="97.89" cy="245.44" r="1.15"/><circle cx="98.36" cy="244.82" r="1.15"/><circle cx="98.82" cy="244.01" r="1.15"/><circle cx="99.28" cy="244.39" r="1.15"/><circle cx="99.75" cy="245.25" r="1.15"/><circle cx="100.21" cy="244.94" r="1.15"/><circle cx="100.67" cy="244.62" r="1.15"/><circle cx="101.14" cy="244.34" r="1.15"/><circle cx="101.60" cy="245.44" r="1.15"/><circle cx="86.77" cy="246.29" r="1.15"/><circle cx="87.23" cy="245.74" r="1.15"/><circle cx="87.70" cy="246.65" r="1.15"/><circle cx="88.16" cy="247.52" r="1.15"/><circle cx="88.62" cy="246.89" r="1.15"/><circle cx="89.09" cy="246.59" r="1.15"/><circle cx="89.55" cy="246.52" r="1.15"/><circle cx="90.01" cy="245.90" r="1.15"/><circle cx="90.48" cy="247.20" r="1.15"/><circle cx="90.94" cy="247.06" r="1.15"/><circle cx="91.40" cy="246.77" r="1.15"/><circle cx="91.87" cy="245.95" r="1.15"/><circle cx="92.33" cy="246.65" r="1.15"/><circle cx="92.80" cy="246.36" r="1.15"/><circle cx="93.26" cy="245.86" r="1.15"/><circle cx="93.72" cy="247.35" r="1.15"/><circle cx="94.19" cy="246.47" r="1.15"/><circle cx="94.65" cy="247.19" r="1.15"/><circle cx="95.11" cy="247.35" r="1.15"/><circle cx="95.58" cy="247.01" r="1.15"/><circle cx="96.04" cy="245.94" r="1.15"/><circle cx="96.50" cy="246.34" r="1.15"/><circle cx="96.97" cy="246.99" r="1.15"/><circle cx="97.43" cy="245.80" r="1.15"/><circle cx="89.78" cy="247.66" r="1.15"/><circle cx="90.25" cy="248.67" r="1.15"/><circle cx="90.71" cy="248.15" r="1.15"/><circle cx="91.17" cy="248.56" r="1.15"/><circle cx="91.64" cy="248.77" r="1.15"/><circle cx="92.10" cy="248.70" r="1.15"/><circle cx="92.56" cy="249.04" r="1.15"/><circle cx="93.03" cy="248.29" r="1.15"/><circle cx="93.49" cy="249.04" r="1.15"/><circle cx="93.95" cy="248.92" r="1.15"/><circle cx="94.42" cy="247.79" r="1.15"/><circle cx="92.10" cy="252.46" r="1.15"/><circle cx="92.10" cy="254.00" r="1.15"/><circle cx="92.10" cy="257.08" r="1.15"/></g>
<g fill="#12bf78"><circle cx="142.60" cy="244.22" r="1.15"/><circle cx="142.18" cy="247.42" r="1.15"/><circle cx="142.46" cy="246.33" r="1.15"/><circle cx="142.74" cy="246.20" r="1.15"/><circle cx="143.02" cy="247.01" r="1.15"/><circle cx="141.48" cy="248.17" r="1.15"/><circle cx="141.76" cy="248.63" r="1.15"/><circle cx="142.04" cy="247.97" r="1.15"/><circle cx="142.32" cy="248.35" r="1.15"/><circle cx="142.60" cy="248.23" r="1.15"/><circle cx="142.88" cy="248.19" r="1.15"/><circle cx="143.16" cy="249.29" r="1.15"/><circle cx="143.44" cy="248.14" r="1.15"/><circle cx="143.72" cy="247.97" r="1.15"/><circle cx="141.62" cy="250.49" r="1.15"/><circle cx="141.90" cy="249.66" r="1.15"/><circle cx="142.18" cy="250.55" r="1.15"/><circle cx="142.46" cy="251.35" r="1.15"/><circle cx="142.74" cy="250.00" r="1.15"/><circle cx="143.02" cy="249.70" r="1.15"/><circle cx="143.30" cy="250.35" r="1.15"/><circle cx="143.58" cy="251.00" r="1.15"/><circle cx="140.50" cy="252.98" r="1.15"/><circle cx="140.78" cy="251.93" r="1.15"/><circle cx="141.06" cy="251.81" r="1.15"/><circle cx="141.34" cy="252.57" r="1.15"/><circle cx="141.62" cy="251.67" r="1.15"/><circle cx="141.90" cy="253.09" r="1.15"/><circle cx="142.18" cy="253.01" r="1.15"/><circle cx="142.46" cy="252.25" r="1.15"/><circle cx="142.74" cy="252.64" r="1.15"/><circle cx="143.02" cy="251.83" r="1.15"/><circle cx="143.30" cy="251.94" r="1.15"/><circle cx="143.58" cy="253.12" r="1.15"/><circle cx="143.86" cy="253.11" r="1.15"/><circle cx="144.14" cy="252.30" r="1.15"/><circle cx="144.42" cy="252.16" r="1.15"/><circle cx="144.70" cy="252.51" r="1.15"/><circle cx="137.71" cy="253.30" r="1.15"/><circle cx="137.99" cy="254.08" r="1.15"/><circle cx="138.27" cy="254.57" r="1.15"/><circle cx="138.55" cy="255.04" r="1.15"/><circle cx="138.83" cy="255.04" r="1.15"/><circle cx="139.11" cy="253.88" r="1.15"/><circle cx="139.39" cy="253.58" r="1.15"/><circle cx="139.67" cy="254.67" r="1.15"/><circle cx="139.95" cy="253.26" r="1.15"/><circle cx="140.22" cy="254.47" r="1.15"/><circle cx="140.50" cy="254.36" r="1.15"/><circle cx="140.78" cy="254.98" r="1.15"/><circle cx="141.06" cy="254.06" r="1.15"/><circle cx="141.34" cy="254.72" r="1.15"/><circle cx="141.62" cy="254.09" r="1.15"/><circle cx="141.90" cy="253.74" r="1.15"/><circle cx="142.18" cy="255.10" r="1.15"/><circle cx="142.46" cy="254.99" r="1.15"/><circle cx="142.74" cy="255.05" r="1.15"/><circle cx="143.02" cy="254.58" r="1.15"/><circle cx="143.30" cy="253.54" r="1.15"/><circle cx="143.58" cy="255.03" r="1.15"/><circle cx="143.86" cy="254.15" r="1.15"/><circle cx="144.14" cy="253.69" r="1.15"/><circle cx="144.42" cy="254.28" r="1.15"/><circle cx="144.70" cy="253.39" r="1.15"/><circle cx="144.97" cy="254.73" r="1.15"/><circle cx="145.25" cy="254.21" r="1.15"/><circle cx="145.53" cy="254.45" r="1.15"/><circle cx="145.81" cy="253.57" r="1.15"/><circle cx="146.09" cy="254.48" r="1.15"/><circle cx="146.37" cy="253.68" r="1.15"/><circle cx="146.65" cy="254.57" r="1.15"/><circle cx="146.93" cy="254.38" r="1.15"/><circle cx="147.21" cy="254.00" r="1.15"/><circle cx="147.49" cy="253.61" r="1.15"/><circle cx="134.36" cy="256.06" r="1.15"/><circle cx="134.64" cy="256.22" r="1.15"/><circle cx="134.92" cy="255.95" r="1.15"/><circle cx="135.20" cy="256.49" r="1.15"/><circle cx="135.47" cy="256.99" r="1.15"/><circle cx="135.75" cy="257.01" r="1.15"/><circle cx="136.03" cy="255.56" r="1.15"/><circle cx="136.31" cy="255.44" r="1.15"/><circle cx="136.59" cy="256.64" r="1.15"/><circle cx="136.87" cy="255.23" r="1.15"/><circle cx="137.15" cy="256.48" r="1.15"/><circle cx="137.43" cy="256.00" r="1.15"/><circle cx="137.71" cy="256.85" r="1.15"/><circle cx="137.99" cy="256.84" r="1.15"/><circle cx="138.27" cy="256.73" r="1.15"/><circle cx="138.55" cy="255.63" r="1.15"/><circle cx="138.83" cy="256.51" r="1.15"/><circle cx="139.11" cy="256.27" r="1.15"/><circle cx="139.39" cy="256.57" r="1.15"/><circle cx="139.67" cy="255.72" r="1.15"/><circle cx="139.95" cy="255.53" r="1.15"/><circle cx="140.22" cy="255.53" r="1.15"/><circle cx="140.50" cy="255.98" r="1.15"/><circle cx="140.78" cy="255.80" r="1.15"/><circle cx="141.06" cy="255.58" r="1.15"/><circle cx="141.34" cy="256.20" r="1.15"/><circle cx="141.62" cy="256.60" r="1.15"/><circle cx="141.90" cy="256.95" r="1.15"/><circle cx="142.18" cy="255.30" r="1.15"/><circle cx="142.46" cy="256.60" r="1.15"/><circle cx="142.74" cy="255.72" r="1.15"/><circle cx="143.02" cy="255.55" r="1.15"/><circle cx="143.30" cy="257.00" r="1.15"/><circle cx="143.58" cy="255.85" r="1.15"/><circle cx="143.86" cy="256.31" r="1.15"/><circle cx="144.14" cy="257.03" r="1.15"/><circle cx="144.42" cy="255.95" r="1.15"/><circle cx="144.70" cy="255.50" r="1.15"/><circle cx="144.97" cy="255.72" r="1.15"/><circle cx="145.25" cy="255.94" r="1.15"/><circle cx="145.53" cy="256.02" r="1.15"/><circle cx="145.81" cy="257.03" r="1.15"/><circle cx="146.09" cy="256.22" r="1.15"/><circle cx="146.37" cy="255.25" r="1.15"/><circle cx="146.65" cy="256.64" r="1.15"/><circle cx="146.93" cy="255.81" r="1.15"/><circle cx="147.21" cy="256.18" r="1.15"/><circle cx="147.49" cy="256.92" r="1.15"/><circle cx="147.77" cy="256.75" r="1.15"/><circle cx="148.05" cy="256.03" r="1.15"/><circle cx="148.33" cy="255.67" r="1.15"/><circle cx="148.61" cy="255.18" r="1.15"/><circle cx="148.89" cy="256.24" r="1.15"/><circle cx="149.17" cy="256.39" r="1.15"/><circle cx="149.45" cy="256.67" r="1.15"/><circle cx="149.72" cy="256.75" r="1.15"/><circle cx="150.00" cy="255.36" r="1.15"/><circle cx="150.28" cy="255.35" r="1.15"/><circle cx="150.56" cy="255.99" r="1.15"/><circle cx="150.84" cy="255.47" r="1.15"/><circle cx="133.10" cy="257.92" r="1.15"/><circle cx="133.38" cy="258.38" r="1.15"/><circle cx="133.66" cy="257.32" r="1.15"/><circle cx="133.94" cy="257.98" r="1.15"/><circle cx="134.22" cy="257.39" r="1.15"/><circle cx="134.50" cy="258.88" r="1.15"/><circle cx="134.78" cy="258.30" r="1.15"/><circle cx="135.06" cy="258.03" r="1.15"/><circle cx="135.34" cy="258.57" r="1.15"/><circle cx="135.61" cy="258.33" r="1.15"/><circle cx="135.89" cy="258.30" r="1.15"/><circle cx="136.17" cy="257.97" r="1.15"/><circle cx="136.45" cy="257.31" r="1.15"/><circle cx="136.73" cy="258.01" r="1.15"/><circle cx="137.01" cy="258.74" r="1.15"/><circle cx="137.29" cy="257.58" r="1.15"/><circle cx="137.57" cy="257.90" r="1.15"/><circle cx="137.85" cy="258.85" r="1.15"/><circle cx="138.13" cy="257.71" r="1.15"/><circle cx="138.41" cy="258.27" r="1.15"/><circle cx="138.69" cy="258.69" r="1.15"/><circle cx="138.97" cy="258.18" r="1.15"/><circle cx="139.25" cy="257.78" r="1.15"/><circle cx="139.53" cy="258.49" r="1.15"/><circle cx="139.81" cy="257.81" r="1.15"/><circle cx="140.09" cy="258.28" r="1.15"/><circle cx="140.36" cy="258.26" r="1.15"/><circle cx="140.64" cy="257.24" r="1.15"/><circle cx="140.92" cy="258.86" r="1.15"/><circle cx="141.20" cy="258.66" r="1.15"/><circle cx="141.48" cy="257.07" r="1.15"/><circle cx="141.76" cy="257.75" r="1.15"/><circle cx="142.04" cy="257.16" r="1.15"/><circle cx="142.32" cy="258.75" r="1.15"/><circle cx="142.60" cy="257.95" r="1.15"/><circle cx="142.88" cy="258.29" r="1.15"/><circle cx="143.16" cy="258.02" r="1.15"/><circle cx="143.44" cy="258.49" r="1.15"/><circle cx="143.72" cy="258.44" r="1.15"/><circle cx="144.00" cy="257.47" r="1.15"/><circle cx="144.28" cy="258.10" r="1.15"/><circle cx="144.56" cy="258.68" r="1.15"/><circle cx="144.84" cy="257.88" r="1.15"/><circle cx="145.11" cy="257.27" r="1.15"/><circle cx="145.39" cy="257.60" r="1.15"/><circle cx="145.67" cy="257.30" r="1.15"/><circle cx="145.95" cy="257.92" r="1.15"/><circle cx="146.23" cy="258.04" r="1.15"/><circle cx="146.51" cy="257.98" r="1.15"/><circle cx="146.79" cy="257.06" r="1.15"/><circle cx="147.07" cy="257.94" r="1.15"/><circle cx="147.35" cy="258.47" r="1.15"/><circle cx="147.63" cy="258.54" r="1.15"/><circle cx="147.91" cy="258.90" r="1.15"/><circle cx="148.19" cy="257.88" r="1.15"/><circle cx="148.47" cy="258.87" r="1.15"/><circle cx="148.75" cy="258.39" r="1.15"/><circle cx="149.03" cy="258.24" r="1.15"/><circle cx="149.31" cy="258.84" r="1.15"/><circle cx="149.59" cy="258.70" r="1.15"/><circle cx="149.86" cy="258.09" r="1.15"/><circle cx="150.14" cy="257.40" r="1.15"/><circle cx="150.42" cy="257.98" r="1.15"/><circle cx="150.70" cy="257.78" r="1.15"/><circle cx="150.98" cy="258.61" r="1.15"/><circle cx="151.26" cy="257.69" r="1.15"/><circle cx="151.54" cy="258.20" r="1.15"/><circle cx="151.82" cy="257.84" r="1.15"/><circle cx="152.10" cy="257.31" r="1.15"/><circle cx="133.94" cy="259.45" r="1.15"/><circle cx="134.22" cy="259.47" r="1.15"/><circle cx="134.50" cy="260.40" r="1.15"/><circle cx="134.78" cy="260.19" r="1.15"/><circle cx="135.06" cy="260.46" r="1.15"/><circle cx="135.34" cy="260.28" r="1.15"/><circle cx="135.61" cy="260.51" r="1.15"/><circle cx="135.89" cy="260.46" r="1.15"/><circle cx="136.17" cy="259.37" r="1.15"/><circle cx="136.45" cy="260.23" r="1.15"/><circle cx="136.73" cy="260.67" r="1.15"/><circle cx="137.01" cy="259.09" r="1.15"/><circle cx="137.29" cy="259.42" r="1.15"/><circle cx="137.57" cy="259.75" r="1.15"/><circle cx="137.85" cy="260.79" r="1.15"/><circle cx="138.13" cy="260.32" r="1.15"/><circle cx="138.41" cy="259.00" r="1.15"/><circle cx="138.69" cy="260.18" r="1.15"/><circle cx="138.97" cy="259.00" r="1.15"/><circle cx="139.25" cy="260.40" r="1.15"/><circle cx="139.53" cy="259.75" r="1.15"/><circle cx="139.81" cy="259.29" r="1.15"/><circle cx="140.09" cy="260.41" r="1.15"/><circle cx="140.36" cy="260.76" r="1.15"/><circle cx="140.64" cy="259.33" r="1.15"/><circle cx="140.92" cy="259.10" r="1.15"/><circle cx="141.20" cy="259.58" r="1.15"/><circle cx="141.48" cy="259.42" r="1.15"/><circle cx="141.76" cy="259.83" r="1.15"/><circle cx="142.04" cy="259.89" r="1.15"/><circle cx="142.32" cy="259.47" r="1.15"/><circle cx="142.60" cy="260.02" r="1.15"/><circle cx="142.88" cy="260.39" r="1.15"/><circle cx="143.16" cy="259.63" r="1.15"/><circle cx="143.44" cy="260.00" r="1.15"/><circle cx="143.72" cy="258.96" r="1.15"/><circle cx="144.00" cy="260.13" r="1.15"/><circle cx="144.28" cy="259.18" r="1.15"/><circle cx="144.56" cy="260.08" r="1.15"/><circle cx="144.84" cy="259.57" r="1.15"/><circle cx="145.11" cy="259.97" r="1.15"/><circle cx="145.39" cy="260.32" r="1.15"/><circle cx="145.67" cy="259.59" r="1.15"/><circle cx="145.95" cy="260.33" r="1.15"/><circle cx="146.23" cy="258.96" r="1.15"/><circle cx="146.51" cy="259.83" r="1.15"/><circle cx="146.79" cy="259.77" r="1.15"/><circle cx="147.07" cy="260.48" r="1.15"/><circle cx="147.35" cy="260.01" r="1.15"/><circle cx="147.63" cy="260.34" r="1.15"/><circle cx="147.91" cy="260.24" r="1.15"/><circle cx="148.19" cy="259.47" r="1.15"/><circle cx="148.47" cy="259.44" r="1.15"/><circle cx="148.75" cy="260.76" r="1.15"/><circle cx="149.03" cy="259.59" r="1.15"/><circle cx="149.31" cy="259.12" r="1.15"/><circle cx="149.59" cy="260.47" r="1.15"/><circle cx="149.86" cy="259.84" r="1.15"/><circle cx="150.14" cy="258.94" r="1.15"/><circle cx="150.42" cy="260.82" r="1.15"/><circle cx="150.70" cy="259.07" r="1.15"/><circle cx="150.98" cy="260.74" r="1.15"/><circle cx="151.26" cy="260.75" r="1.15"/><circle cx="137.29" cy="261.46" r="1.15"/><circle cx="137.57" cy="261.34" r="1.15"/><circle cx="137.85" cy="260.83" r="1.15"/><circle cx="138.13" cy="262.61" r="1.15"/><circle cx="138.41" cy="261.81" r="1.15"/><circle cx="138.69" cy="261.69" r="1.15"/><circle cx="138.97" cy="261.98" r="1.15"/><circle cx="139.25" cy="262.08" r="1.15"/><circle cx="139.53" cy="261.58" r="1.15"/><circle cx="139.81" cy="260.92" r="1.15"/><circle cx="140.09" cy="261.10" r="1.15"/><circle cx="140.36" cy="260.84" r="1.15"/><circle cx="140.64" cy="261.51" r="1.15"/><circle cx="140.92" cy="262.66" r="1.15"/><circle cx="141.20" cy="262.42" r="1.15"/><circle cx="141.48" cy="261.00" r="1.15"/><circle cx="141.76" cy="262.56" r="1.15"/><circle cx="142.04" cy="262.35" r="1.15"/><circle cx="142.32" cy="261.92" r="1.15"/><circle cx="142.60" cy="261.42" r="1.15"/><circle cx="142.88" cy="261.25" r="1.15"/><circle cx="143.16" cy="262.34" r="1.15"/><circle cx="143.44" cy="261.14" r="1.15"/><circle cx="143.72" cy="262.05" r="1.15"/><circle cx="144.00" cy="261.12" r="1.15"/><circle cx="144.28" cy="260.91" r="1.15"/><circle cx="144.56" cy="262.16" r="1.15"/><circle cx="144.84" cy="262.26" r="1.15"/><circle cx="145.11" cy="261.26" r="1.15"/><circle cx="145.39" cy="261.41" r="1.15"/><circle cx="145.67" cy="261.34" r="1.15"/><circle cx="145.95" cy="260.89" r="1.15"/><circle cx="146.23" cy="261.54" r="1.15"/><circle cx="146.51" cy="261.00" r="1.15"/><circle cx="146.79" cy="262.18" r="1.15"/><circle cx="147.07" cy="261.58" r="1.15"/><circle cx="147.35" cy="261.91" r="1.15"/><circle cx="147.63" cy="262.71" r="1.15"/><circle cx="147.91" cy="261.30" r="1.15"/><circle cx="140.09" cy="264.07" r="1.15"/><circle cx="140.36" cy="262.78" r="1.15"/><circle cx="140.64" cy="263.26" r="1.15"/><circle cx="140.92" cy="262.91" r="1.15"/><circle cx="141.20" cy="263.67" r="1.15"/><circle cx="141.48" cy="263.47" r="1.15"/><circle cx="141.76" cy="262.98" r="1.15"/><circle cx="142.04" cy="264.24" r="1.15"/><circle cx="142.32" cy="263.92" r="1.15"/><circle cx="142.60" cy="264.53" r="1.15"/><circle cx="142.88" cy="263.98" r="1.15"/><circle cx="143.16" cy="263.29" r="1.15"/><circle cx="143.44" cy="264.03" r="1.15"/><circle cx="143.72" cy="264.11" r="1.15"/><circle cx="144.00" cy="263.25" r="1.15"/><circle cx="144.28" cy="263.87" r="1.15"/><circle cx="144.56" cy="264.42" r="1.15"/><circle cx="144.84" cy="262.86" r="1.15"/><circle cx="145.11" cy="264.35" r="1.15"/><circle cx="142.04" cy="265.80" r="1.15"/><circle cx="142.32" cy="265.33" r="1.15"/><circle cx="142.60" cy="266.14" r="1.15"/><circle cx="142.88" cy="264.63" r="1.15"/><circle cx="143.16" cy="265.97" r="1.15"/><circle cx="142.60" cy="267.25" r="1.15"/><circle cx="142.60" cy="276.02" r="1.15"/></g>
<g fill="#12bf78"><circle cx="173.00" cy="241.83" r="1.15"/><circle cx="173.00" cy="248.64" r="1.15"/><circle cx="171.02" cy="250.66" r="1.15"/><circle cx="171.81" cy="251.33" r="1.15"/><circle cx="172.60" cy="250.72" r="1.15"/><circle cx="173.40" cy="251.19" r="1.15"/><circle cx="174.19" cy="250.73" r="1.15"/><circle cx="174.98" cy="251.07" r="1.15"/><circle cx="170.23" cy="252.96" r="1.15"/><circle cx="171.02" cy="252.07" r="1.15"/><circle cx="171.81" cy="253.24" r="1.15"/><circle cx="172.60" cy="252.10" r="1.15"/><circle cx="173.40" cy="253.12" r="1.15"/><circle cx="174.19" cy="252.65" r="1.15"/><circle cx="174.98" cy="251.53" r="1.15"/><circle cx="175.77" cy="253.06" r="1.15"/><circle cx="167.06" cy="253.79" r="1.15"/><circle cx="167.85" cy="254.06" r="1.15"/><circle cx="168.65" cy="254.05" r="1.15"/><circle cx="169.44" cy="253.61" r="1.15"/><circle cx="170.23" cy="254.00" r="1.15"/><circle cx="171.02" cy="255.00" r="1.15"/><circle cx="171.81" cy="254.57" r="1.15"/><circle cx="172.60" cy="253.55" r="1.15"/><circle cx="173.40" cy="255.07" r="1.15"/><circle cx="174.19" cy="254.91" r="1.15"/><circle cx="174.98" cy="254.63" r="1.15"/><circle cx="175.77" cy="253.39" r="1.15"/><circle cx="176.56" cy="254.54" r="1.15"/><circle cx="177.35" cy="253.77" r="1.15"/><circle cx="178.15" cy="253.52" r="1.15"/><circle cx="178.94" cy="254.86" r="1.15"/><circle cx="163.50" cy="256.93" r="1.15"/><circle cx="164.29" cy="256.66" r="1.15"/><circle cx="165.08" cy="255.76" r="1.15"/><circle cx="165.88" cy="256.29" r="1.15"/><circle cx="166.67" cy="255.46" r="1.15"/><circle cx="167.46" cy="255.21" r="1.15"/><circle cx="168.25" cy="255.40" r="1.15"/><circle cx="169.04" cy="256.69" r="1.15"/><circle cx="169.83" cy="256.71" r="1.15"/><circle cx="170.62" cy="255.52" r="1.15"/><circle cx="171.42" cy="255.87" r="1.15"/><circle cx="172.21" cy="255.65" r="1.15"/><circle cx="173.00" cy="255.91" r="1.15"/><circle cx="173.79" cy="255.51" r="1.15"/><circle cx="174.58" cy="255.20" r="1.15"/><circle cx="175.38" cy="256.18" r="1.15"/><circle cx="176.17" cy="256.76" r="1.15"/><circle cx="176.96" cy="255.49" r="1.15"/><circle cx="177.75" cy="256.29" r="1.15"/><circle cx="178.54" cy="256.40" r="1.15"/><circle cx="179.33" cy="256.28" r="1.15"/><circle cx="180.12" cy="257.01" r="1.15"/><circle cx="180.92" cy="255.90" r="1.15"/><circle cx="181.71" cy="255.18" r="1.15"/><circle cx="182.50" cy="256.95" r="1.15"/><circle cx="163.90" cy="257.60" r="1.15"/><circle cx="164.69" cy="258.05" r="1.15"/><circle cx="165.48" cy="257.98" r="1.15"/><circle cx="166.27" cy="257.92" r="1.15"/><circle cx="167.06" cy="257.98" r="1.15"/><circle cx="167.85" cy="257.23" r="1.15"/><circle cx="168.65" cy="258.25" r="1.15"/><circle cx="169.44" cy="257.34" r="1.15"/><circle cx="170.23" cy="258.04" r="1.15"/><circle cx="171.02" cy="258.93" r="1.15"/><circle cx="171.81" cy="257.10" r="1.15"/><circle cx="172.60" cy="257.91" r="1.15"/><circle cx="173.40" cy="257.21" r="1.15"/><circle cx="174.19" cy="257.92" r="1.15"/><circle cx="174.98" cy="258.90" r="1.15"/><circle cx="175.77" cy="258.75" r="1.15"/><circle cx="176.56" cy="257.12" r="1.15"/><circle cx="177.35" cy="258.59" r="1.15"/><circle cx="178.15" cy="258.35" r="1.15"/><circle cx="178.94" cy="258.58" r="1.15"/><circle cx="179.73" cy="258.54" r="1.15"/><circle cx="180.52" cy="258.08" r="1.15"/><circle cx="181.31" cy="257.94" r="1.15"/><circle cx="182.10" cy="258.90" r="1.15"/><circle cx="165.88" cy="259.01" r="1.15"/><circle cx="166.67" cy="259.87" r="1.15"/><circle cx="167.46" cy="259.08" r="1.15"/><circle cx="168.25" cy="260.24" r="1.15"/><circle cx="169.04" cy="259.25" r="1.15"/><circle cx="169.83" cy="259.06" r="1.15"/><circle cx="170.62" cy="260.65" r="1.15"/><circle cx="171.42" cy="259.91" r="1.15"/><circle cx="172.21" cy="260.02" r="1.15"/><circle cx="173.00" cy="259.37" r="1.15"/><circle cx="173.79" cy="258.96" r="1.15"/><circle cx="174.58" cy="260.64" r="1.15"/><circle cx="175.38" cy="259.85" r="1.15"/><circle cx="176.17" cy="259.26" r="1.15"/><circle cx="176.96" cy="259.00" r="1.15"/><circle cx="177.75" cy="259.33" r="1.15"/><circle cx="178.54" cy="259.86" r="1.15"/><circle cx="179.33" cy="259.32" r="1.15"/><circle cx="180.12" cy="259.39" r="1.15"/><circle cx="169.04" cy="261.66" r="1.15"/><circle cx="169.83" cy="262.06" r="1.15"/><circle cx="170.62" cy="261.72" r="1.15"/><circle cx="171.42" cy="261.24" r="1.15"/><circle cx="172.21" cy="262.68" r="1.15"/><circle cx="173.00" cy="261.44" r="1.15"/><circle cx="173.79" cy="261.04" r="1.15"/><circle cx="174.58" cy="261.91" r="1.15"/><circle cx="175.38" cy="261.85" r="1.15"/><circle cx="176.17" cy="262.50" r="1.15"/><circle cx="176.96" cy="261.21" r="1.15"/><circle cx="170.23" cy="262.72" r="1.15"/><circle cx="171.02" cy="262.79" r="1.15"/><circle cx="171.81" cy="264.23" r="1.15"/><circle cx="172.60" cy="262.95" r="1.15"/><circle cx="173.40" cy="263.37" r="1.15"/><circle cx="174.19" cy="262.94" r="1.15"/><circle cx="174.98" cy="264.35" r="1.15"/><circle cx="175.77" cy="262.80" r="1.15"/><circle cx="172.60" cy="265.43" r="1.15"/><circle cx="173.40" cy="265.13" r="1.15"/></g>
<g fill="#ff6600"><circle cx="223.00" cy="235.67" r="1.15"/><circle cx="223.00" cy="244.76" r="1.15"/><circle cx="219.54" cy="253.87" r="1.15"/><circle cx="220.69" cy="254.51" r="1.15"/><circle cx="221.85" cy="254.27" r="1.15"/><circle cx="223.00" cy="253.62" r="1.15"/><circle cx="224.15" cy="253.48" r="1.15"/><circle cx="225.31" cy="253.68" r="1.15"/><circle cx="226.46" cy="253.89" r="1.15"/><circle cx="223.00" cy="255.80" r="1.15"/><circle cx="221.27" cy="257.85" r="1.15"/><circle cx="222.42" cy="258.89" r="1.15"/><circle cx="223.58" cy="259.08" r="1.15"/><circle cx="224.73" cy="258.50" r="1.15"/><circle cx="221.27" cy="259.62" r="1.15"/><circle cx="222.42" cy="260.22" r="1.15"/><circle cx="223.58" cy="260.85" r="1.15"/><circle cx="224.73" cy="260.37" r="1.15"/><circle cx="220.12" cy="263.26" r="1.15"/><circle cx="221.27" cy="263.47" r="1.15"/><circle cx="222.42" cy="263.33" r="1.15"/><circle cx="223.58" cy="262.32" r="1.15"/><circle cx="224.73" cy="262.29" r="1.15"/><circle cx="225.88" cy="262.67" r="1.15"/><circle cx="217.24" cy="265.76" r="1.15"/><circle cx="218.39" cy="264.69" r="1.15"/><circle cx="219.54" cy="265.92" r="1.15"/><circle cx="220.69" cy="265.21" r="1.15"/><circle cx="221.85" cy="264.60" r="1.15"/><circle cx="223.00" cy="265.44" r="1.15"/><circle cx="224.15" cy="266.13" r="1.15"/><circle cx="225.31" cy="266.05" r="1.15"/><circle cx="226.46" cy="264.46" r="1.15"/><circle cx="227.61" cy="264.69" r="1.15"/><circle cx="228.76" cy="264.11" r="1.15"/><circle cx="219.54" cy="266.42" r="1.15"/><circle cx="220.69" cy="268.02" r="1.15"/><circle cx="221.85" cy="266.89" r="1.15"/><circle cx="223.00" cy="266.48" r="1.15"/><circle cx="224.15" cy="267.01" r="1.15"/><circle cx="225.31" cy="267.08" r="1.15"/><circle cx="226.46" cy="267.33" r="1.15"/><circle cx="216.66" cy="269.29" r="1.15"/><circle cx="217.81" cy="270.26" r="1.15"/><circle cx="218.96" cy="268.73" r="1.15"/><circle cx="220.12" cy="270.29" r="1.15"/><circle cx="221.27" cy="269.84" r="1.15"/><circle cx="222.42" cy="270.11" r="1.15"/><circle cx="223.58" cy="268.89" r="1.15"/><circle cx="224.73" cy="268.99" r="1.15"/><circle cx="225.88" cy="269.60" r="1.15"/><circle cx="227.04" cy="270.53" r="1.15"/><circle cx="228.19" cy="269.55" r="1.15"/><circle cx="229.34" cy="270.16" r="1.15"/><circle cx="215.51" cy="270.80" r="1.15"/><circle cx="216.66" cy="271.93" r="1.15"/><circle cx="217.81" cy="271.39" r="1.15"/><circle cx="218.96" cy="272.10" r="1.15"/><circle cx="220.12" cy="272.60" r="1.15"/><circle cx="221.27" cy="271.19" r="1.15"/><circle cx="222.42" cy="271.81" r="1.15"/><circle cx="223.58" cy="272.76" r="1.15"/><circle cx="224.73" cy="270.71" r="1.15"/><circle cx="225.88" cy="271.59" r="1.15"/><circle cx="227.04" cy="272.14" r="1.15"/><circle cx="228.19" cy="271.72" r="1.15"/><circle cx="229.34" cy="272.47" r="1.15"/><circle cx="230.49" cy="270.61" r="1.15"/><circle cx="216.66" cy="273.71" r="1.15"/><circle cx="217.81" cy="273.30" r="1.15"/><circle cx="218.96" cy="273.47" r="1.15"/><circle cx="220.12" cy="274.94" r="1.15"/><circle cx="221.27" cy="274.54" r="1.15"/><circle cx="222.42" cy="274.46" r="1.15"/><circle cx="223.58" cy="272.91" r="1.15"/><circle cx="224.73" cy="274.81" r="1.15"/><circle cx="225.88" cy="273.92" r="1.15"/><circle cx="227.04" cy="273.86" r="1.15"/><circle cx="228.19" cy="273.53" r="1.15"/><circle cx="229.34" cy="274.88" r="1.15"/><circle cx="213.78" cy="276.63" r="1.15"/><circle cx="214.93" cy="277.13" r="1.15"/><circle cx="216.08" cy="276.68" r="1.15"/><circle cx="217.24" cy="276.05" r="1.15"/><circle cx="218.39" cy="276.19" r="1.15"/><circle cx="219.54" cy="276.49" r="1.15"/><circle cx="220.69" cy="275.93" r="1.15"/><circle cx="221.85" cy="275.12" r="1.15"/><circle cx="223.00" cy="277.20" r="1.15"/><circle cx="224.15" cy="275.66" r="1.15"/><circle cx="225.31" cy="276.25" r="1.15"/><circle cx="226.46" cy="276.61" r="1.15"/><circle cx="227.61" cy="276.95" r="1.15"/><circle cx="228.76" cy="276.22" r="1.15"/><circle cx="229.92" cy="275.87" r="1.15"/><circle cx="231.07" cy="276.20" r="1.15"/><circle cx="232.22" cy="276.96" r="1.15"/><circle cx="213.20" cy="277.50" r="1.15"/><circle cx="214.35" cy="278.00" r="1.15"/><circle cx="215.51" cy="277.96" r="1.15"/><circle cx="216.66" cy="278.90" r="1.15"/><circle cx="217.81" cy="279.30" r="1.15"/><circle cx="218.96" cy="278.02" r="1.15"/><circle cx="220.12" cy="278.94" r="1.15"/><circle cx="221.27" cy="278.78" r="1.15"/><circle cx="222.42" cy="278.55" r="1.15"/><circle cx="223.58" cy="277.46" r="1.15"/><circle cx="224.73" cy="279.23" r="1.15"/><circle cx="225.88" cy="277.48" r="1.15"/><circle cx="227.04" cy="278.10" r="1.15"/><circle cx="228.19" cy="279.38" r="1.15"/><circle cx="229.34" cy="278.70" r="1.15"/><circle cx="230.49" cy="277.75" r="1.15"/><circle cx="231.65" cy="277.29" r="1.15"/><circle cx="232.80" cy="277.58" r="1.15"/><circle cx="218.39" cy="281.45" r="1.15"/><circle cx="219.54" cy="280.54" r="1.15"/><circle cx="220.69" cy="280.00" r="1.15"/><circle cx="221.85" cy="279.47" r="1.15"/><circle cx="223.00" cy="280.92" r="1.15"/><circle cx="224.15" cy="280.33" r="1.15"/><circle cx="225.31" cy="280.94" r="1.15"/><circle cx="226.46" cy="279.52" r="1.15"/><circle cx="227.61" cy="281.04" r="1.15"/><circle cx="216.08" cy="282.48" r="1.15"/><circle cx="217.24" cy="281.90" r="1.15"/><circle cx="218.39" cy="283.12" r="1.15"/><circle cx="219.54" cy="281.79" r="1.15"/><circle cx="220.69" cy="283.10" r="1.15"/><circle cx="221.85" cy="282.14" r="1.15"/><circle cx="223.00" cy="282.31" r="1.15"/><circle cx="224.15" cy="283.60" r="1.15"/><circle cx="225.31" cy="283.75" r="1.15"/><circle cx="226.46" cy="281.62" r="1.15"/><circle cx="227.61" cy="283.72" r="1.15"/><circle cx="228.76" cy="282.32" r="1.15"/><circle cx="229.92" cy="283.56" r="1.15"/><circle cx="216.08" cy="285.89" r="1.15"/><circle cx="217.24" cy="285.76" r="1.15"/><circle cx="218.39" cy="284.25" r="1.15"/><circle cx="219.54" cy="284.61" r="1.15"/><circle cx="220.69" cy="284.80" r="1.15"/><circle cx="221.85" cy="285.48" r="1.15"/><circle cx="223.00" cy="284.44" r="1.15"/><circle cx="224.15" cy="285.17" r="1.15"/><circle cx="225.31" cy="285.44" r="1.15"/><circle cx="226.46" cy="284.09" r="1.15"/><circle cx="227.61" cy="285.24" r="1.15"/><circle cx="228.76" cy="285.71" r="1.15"/><circle cx="229.92" cy="285.39" r="1.15"/><circle cx="218.39" cy="287.16" r="1.15"/><circle cx="219.54" cy="287.83" r="1.15"/><circle cx="220.69" cy="287.41" r="1.15"/><circle cx="221.85" cy="286.06" r="1.15"/><circle cx="223.00" cy="287.09" r="1.15"/><circle cx="224.15" cy="287.06" r="1.15"/><circle cx="225.31" cy="287.15" r="1.15"/><circle cx="226.46" cy="288.12" r="1.15"/><circle cx="227.61" cy="286.87" r="1.15"/><circle cx="219.54" cy="289.94" r="1.15"/><circle cx="220.69" cy="289.45" r="1.15"/><circle cx="221.85" cy="289.56" r="1.15"/><circle cx="223.00" cy="288.97" r="1.15"/><circle cx="224.15" cy="289.99" r="1.15"/><circle cx="225.31" cy="288.33" r="1.15"/><circle cx="226.46" cy="289.11" r="1.15"/><circle cx="219.54" cy="291.93" r="1.15"/><circle cx="220.69" cy="291.40" r="1.15"/><circle cx="221.85" cy="292.49" r="1.15"/><circle cx="223.00" cy="292.20" r="1.15"/><circle cx="224.15" cy="290.53" r="1.15"/><circle cx="225.31" cy="291.30" r="1.15"/><circle cx="226.46" cy="290.58" r="1.15"/><circle cx="220.69" cy="292.81" r="1.15"/><circle cx="221.85" cy="293.18" r="1.15"/><circle cx="223.00" cy="294.66" r="1.15"/><circle cx="224.15" cy="293.59" r="1.15"/><circle cx="225.31" cy="293.47" r="1.15"/><circle cx="221.27" cy="296.64" r="1.15"/><circle cx="222.42" cy="295.91" r="1.15"/><circle cx="223.58" cy="294.87" r="1.15"/><circle cx="224.73" cy="296.52" r="1.15"/><circle cx="221.85" cy="297.11" r="1.15"/><circle cx="223.00" cy="298.11" r="1.15"/><circle cx="224.15" cy="297.72" r="1.15"/><circle cx="221.85" cy="300.08" r="1.15"/><circle cx="223.00" cy="299.99" r="1.15"/><circle cx="224.15" cy="300.86" r="1.15"/><circle cx="219.54" cy="302.73" r="1.15"/><circle cx="220.69" cy="302.21" r="1.15"/><circle cx="221.85" cy="301.48" r="1.15"/><circle cx="223.00" cy="301.44" r="1.15"/><circle cx="224.15" cy="301.76" r="1.15"/><circle cx="225.31" cy="301.59" r="1.15"/><circle cx="226.46" cy="303.29" r="1.15"/><circle cx="221.85" cy="305.56" r="1.15"/><circle cx="223.00" cy="305.68" r="1.15"/><circle cx="224.15" cy="304.02" r="1.15"/><circle cx="221.85" cy="306.63" r="1.15"/><circle cx="223.00" cy="306.57" r="1.15"/><circle cx="224.15" cy="307.14" r="1.15"/><circle cx="218.96" cy="308.89" r="1.15"/><circle cx="220.12" cy="310.14" r="1.15"/><circle cx="221.27" cy="308.09" r="1.15"/><circle cx="222.42" cy="309.25" r="1.15"/><circle cx="223.58" cy="309.81" r="1.15"/><circle cx="224.73" cy="309.02" r="1.15"/><circle cx="225.88" cy="309.20" r="1.15"/><circle cx="227.04" cy="308.41" r="1.15"/><circle cx="219.54" cy="311.14" r="1.15"/><circle cx="220.69" cy="312.02" r="1.15"/><circle cx="221.85" cy="310.53" r="1.15"/><circle cx="223.00" cy="310.51" r="1.15"/><circle cx="224.15" cy="312.30" r="1.15"/><circle cx="225.31" cy="311.27" r="1.15"/><circle cx="226.46" cy="310.90" r="1.15"/><circle cx="223.00" cy="314.44" r="1.15"/><circle cx="218.39" cy="316.45" r="1.15"/><circle cx="219.54" cy="316.59" r="1.15"/><circle cx="220.69" cy="316.19" r="1.15"/><circle cx="221.85" cy="316.41" r="1.15"/><circle cx="223.00" cy="316.78" r="1.15"/><circle cx="224.15" cy="316.60" r="1.15"/><circle cx="225.31" cy="315.88" r="1.15"/><circle cx="226.46" cy="315.24" r="1.15"/><circle cx="227.61" cy="315.55" r="1.15"/><circle cx="219.54" cy="316.85" r="1.15"/><circle cx="220.69" cy="318.69" r="1.15"/><circle cx="221.85" cy="318.69" r="1.15"/><circle cx="223.00" cy="316.98" r="1.15"/><circle cx="224.15" cy="317.70" r="1.15"/><circle cx="225.31" cy="317.71" r="1.15"/><circle cx="226.46" cy="318.58" r="1.15"/><circle cx="221.27" cy="319.99" r="1.15"/><circle cx="222.42" cy="320.38" r="1.15"/><circle cx="223.58" cy="319.91" r="1.15"/><circle cx="224.73" cy="320.20" r="1.15"/><circle cx="221.85" cy="322.87" r="1.15"/><circle cx="223.00" cy="322.16" r="1.15"/><circle cx="224.15" cy="322.42" r="1.15"/><circle cx="219.54" cy="324.35" r="1.15"/><circle cx="220.69" cy="323.59" r="1.15"/><circle cx="221.85" cy="324.21" r="1.15"/><circle cx="223.00" cy="325.31" r="1.15"/><circle cx="224.15" cy="324.01" r="1.15"/><circle cx="225.31" cy="324.94" r="1.15"/><circle cx="226.46" cy="324.69" r="1.15"/><circle cx="218.96" cy="327.69" r="1.15"/><circle cx="220.12" cy="327.52" r="1.15"/><circle cx="221.27" cy="326.71" r="1.15"/><circle cx="222.42" cy="326.99" r="1.15"/><circle cx="223.58" cy="326.74" r="1.15"/><circle cx="224.73" cy="327.49" r="1.15"/><circle cx="225.88" cy="326.59" r="1.15"/><circle cx="227.04" cy="326.72" r="1.15"/><circle cx="220.69" cy="328.31" r="1.15"/><circle cx="221.85" cy="329.05" r="1.15"/><circle cx="223.00" cy="328.30" r="1.15"/><circle cx="224.15" cy="328.51" r="1.15"/><circle cx="225.31" cy="328.82" r="1.15"/><circle cx="222.42" cy="330.90" r="1.15"/><circle cx="223.58" cy="331.47" r="1.15"/><circle cx="220.69" cy="332.97" r="1.15"/><circle cx="221.85" cy="333.88" r="1.15"/><circle cx="223.00" cy="333.19" r="1.15"/><circle cx="224.15" cy="333.11" r="1.15"/><circle cx="225.31" cy="332.65" r="1.15"/><circle cx="217.81" cy="334.58" r="1.15"/><circle cx="218.96" cy="336.52" r="1.15"/><circle cx="220.12" cy="334.97" r="1.15"/><circle cx="221.27" cy="336.06" r="1.15"/><circle cx="222.42" cy="336.06" r="1.15"/><circle cx="223.58" cy="335.58" r="1.15"/><circle cx="224.73" cy="335.50" r="1.15"/><circle cx="225.88" cy="335.32" r="1.15"/><circle cx="227.04" cy="335.59" r="1.15"/><circle cx="228.19" cy="335.98" r="1.15"/><circle cx="222.42" cy="337.65" r="1.15"/><circle cx="223.58" cy="338.37" r="1.15"/><circle cx="221.85" cy="340.09" r="1.15"/><circle cx="223.00" cy="339.89" r="1.15"/><circle cx="224.15" cy="339.01" r="1.15"/><circle cx="220.69" cy="341.98" r="1.15"/><circle cx="221.85" cy="343.09" r="1.15"/><circle cx="223.00" cy="341.82" r="1.15"/><circle cx="224.15" cy="341.85" r="1.15"/><circle cx="225.31" cy="341.98" r="1.15"/><circle cx="222.42" cy="344.07" r="1.15"/><circle cx="223.58" cy="343.71" r="1.15"/><circle cx="223.00" cy="346.92" r="1.15"/><circle cx="221.27" cy="348.79" r="1.15"/><circle cx="222.42" cy="347.95" r="1.15"/><circle cx="223.58" cy="348.25" r="1.15"/><circle cx="224.73" cy="347.74" r="1.15"/><circle cx="220.69" cy="351.16" r="1.15"/><circle cx="221.85" cy="351.42" r="1.15"/><circle cx="223.00" cy="351.57" r="1.15"/><circle cx="224.15" cy="351.45" r="1.15"/><circle cx="225.31" cy="351.08" r="1.15"/><circle cx="222.42" cy="353.19" r="1.15"/><circle cx="223.58" cy="353.43" r="1.15"/><circle cx="223.00" cy="360.21" r="1.15"/><circle cx="223.00" cy="365.65" r="1.15"/><circle cx="223.00" cy="369.04" r="1.15"/></g>
<g fill="#ff6600"><circle cx="253.00" cy="254.00" r="1.15"/><circle cx="253.00" cy="258.62" r="1.15"/><circle cx="253.00" cy="262.11" r="1.15"/><circle cx="253.00" cy="265.89" r="1.15"/><circle cx="253.00" cy="267.56" r="1.15"/><circle cx="253.00" cy="269.07" r="1.15"/><circle cx="253.00" cy="276.15" r="1.15"/><circle cx="251.70" cy="277.62" r="1.15"/><circle cx="254.30" cy="279.33" r="1.15"/><circle cx="253.00" cy="282.22" r="1.15"/><circle cx="250.40" cy="284.90" r="1.15"/><circle cx="253.00" cy="284.96" r="1.15"/><circle cx="255.60" cy="284.93" r="1.15"/><circle cx="251.70" cy="286.52" r="1.15"/><circle cx="254.30" cy="286.43" r="1.15"/><circle cx="251.70" cy="289.19" r="1.15"/><circle cx="254.30" cy="288.84" r="1.15"/><circle cx="251.70" cy="290.97" r="1.15"/><circle cx="254.30" cy="290.47" r="1.15"/><circle cx="250.40" cy="293.33" r="1.15"/><circle cx="253.00" cy="293.68" r="1.15"/><circle cx="255.60" cy="293.25" r="1.15"/><circle cx="249.10" cy="295.19" r="1.15"/><circle cx="251.70" cy="295.19" r="1.15"/><circle cx="254.30" cy="296.06" r="1.15"/><circle cx="256.90" cy="294.95" r="1.15"/><circle cx="253.00" cy="298.05" r="1.15"/><circle cx="249.10" cy="299.89" r="1.15"/><circle cx="251.70" cy="301.01" r="1.15"/><circle cx="254.30" cy="300.18" r="1.15"/><circle cx="256.90" cy="301.03" r="1.15"/><circle cx="250.40" cy="301.66" r="1.15"/><circle cx="253.00" cy="301.83" r="1.15"/><circle cx="255.60" cy="302.94" r="1.15"/><circle cx="249.10" cy="305.68" r="1.15"/><circle cx="251.70" cy="305.40" r="1.15"/><circle cx="254.30" cy="304.61" r="1.15"/><circle cx="256.90" cy="305.52" r="1.15"/><circle cx="251.70" cy="307.82" r="1.15"/><circle cx="254.30" cy="306.66" r="1.15"/><circle cx="249.10" cy="309.54" r="1.15"/><circle cx="251.70" cy="308.62" r="1.15"/><circle cx="254.30" cy="308.30" r="1.15"/><circle cx="256.90" cy="310.00" r="1.15"/><circle cx="247.80" cy="310.48" r="1.15"/><circle cx="250.40" cy="311.19" r="1.15"/><circle cx="253.00" cy="311.66" r="1.15"/><circle cx="255.60" cy="310.44" r="1.15"/><circle cx="258.20" cy="312.12" r="1.15"/><circle cx="246.50" cy="314.30" r="1.15"/><circle cx="249.10" cy="314.15" r="1.15"/><circle cx="251.70" cy="313.02" r="1.15"/><circle cx="254.30" cy="314.45" r="1.15"/><circle cx="256.90" cy="313.35" r="1.15"/><circle cx="259.50" cy="313.11" r="1.15"/><circle cx="245.20" cy="316.01" r="1.15"/><circle cx="247.80" cy="316.78" r="1.15"/><circle cx="250.40" cy="316.62" r="1.15"/><circle cx="253.00" cy="314.87" r="1.15"/><circle cx="255.60" cy="316.21" r="1.15"/><circle cx="258.20" cy="316.34" r="1.15"/><circle cx="260.80" cy="315.33" r="1.15"/><circle cx="249.10" cy="318.99" r="1.15"/><circle cx="251.70" cy="319.00" r="1.15"/><circle cx="254.30" cy="318.57" r="1.15"/><circle cx="256.90" cy="317.91" r="1.15"/><circle cx="250.40" cy="320.77" r="1.15"/><circle cx="253.00" cy="321.13" r="1.15"/><circle cx="255.60" cy="319.05" r="1.15"/><circle cx="246.50" cy="323.01" r="1.15"/><circle cx="249.10" cy="322.71" r="1.15"/><circle cx="251.70" cy="322.41" r="1.15"/><circle cx="254.30" cy="322.76" r="1.15"/><circle cx="256.90" cy="321.55" r="1.15"/><circle cx="259.50" cy="322.41" r="1.15"/><circle cx="253.00" cy="323.99" r="1.15"/><circle cx="249.10" cy="326.64" r="1.15"/><circle cx="251.70" cy="327.31" r="1.15"/><circle cx="254.30" cy="326.07" r="1.15"/><circle cx="256.90" cy="327.18" r="1.15"/><circle cx="251.70" cy="329.08" r="1.15"/><circle cx="254.30" cy="329.42" r="1.15"/><circle cx="251.70" cy="331.01" r="1.15"/><circle cx="254.30" cy="330.38" r="1.15"/><circle cx="247.80" cy="333.81" r="1.15"/><circle cx="250.40" cy="333.82" r="1.15"/><circle cx="253.00" cy="333.08" r="1.15"/><circle cx="255.60" cy="333.52" r="1.15"/><circle cx="258.20" cy="334.00" r="1.15"/><circle cx="250.40" cy="334.83" r="1.15"/><circle cx="253.00" cy="335.16" r="1.15"/><circle cx="255.60" cy="335.28" r="1.15"/><circle cx="253.00" cy="337.47" r="1.15"/><circle cx="249.10" cy="340.35" r="1.15"/><circle cx="251.70" cy="339.06" r="1.15"/><circle cx="254.30" cy="340.43" r="1.15"/><circle cx="256.90" cy="338.86" r="1.15"/><circle cx="243.90" cy="343.05" r="1.15"/><circle cx="246.50" cy="342.10" r="1.15"/><circle cx="249.10" cy="341.11" r="1.15"/><circle cx="251.70" cy="342.04" r="1.15"/><circle cx="254.30" cy="341.91" r="1.15"/><circle cx="256.90" cy="342.91" r="1.15"/><circle cx="259.50" cy="342.92" r="1.15"/><circle cx="262.10" cy="341.71" r="1.15"/><circle cx="251.70" cy="344.09" r="1.15"/><circle cx="254.30" cy="344.29" r="1.15"/><circle cx="253.00" cy="345.40" r="1.15"/><circle cx="249.10" cy="349.67" r="1.15"/><circle cx="251.70" cy="347.66" r="1.15"/><circle cx="254.30" cy="347.65" r="1.15"/><circle cx="256.90" cy="348.08" r="1.15"/><circle cx="251.70" cy="351.22" r="1.15"/><circle cx="254.30" cy="350.83" r="1.15"/><circle cx="253.00" cy="352.53" r="1.15"/><circle cx="251.70" cy="357.89" r="1.15"/><circle cx="254.30" cy="358.32" r="1.15"/><circle cx="251.70" cy="359.31" r="1.15"/><circle cx="254.30" cy="358.98" r="1.15"/><circle cx="253.00" cy="362.52" r="1.15"/><circle cx="253.00" cy="364.40" r="1.15"/><circle cx="253.00" cy="366.87" r="1.15"/></g>
<line x1="52.70" y1="246.30" x2="72.30" y2="246.30" stroke="#1a1a1a" stroke-width="1.4"/>
<line x1="62.50" y1="245.84" x2="62.50" y2="246.76" stroke="#1a1a1a" stroke-width="1.4"/>
<line x1="58.00" y1="245.84" x2="67.00" y2="245.84" stroke="#1a1a1a" stroke-width="1.4"/>
<line x1="58.00" y1="246.76" x2="67.00" y2="246.76" stroke="#1a1a1a" stroke-width="1.4"/>
<line x1="82.30" y1="243.68" x2="101.90" y2="243.68" stroke="#1a1a1a" stroke-width="1.4"/>
<line x1="92.10" y1="242.91" x2="92.10" y2="244.45" stroke="#1a1a1a" stroke-width="1.4"/>
<line x1="87.60" y1="242.91" x2="96.60" y2="242.91" stroke="#1a1a1a" stroke-width="1.4"/>
<line x1="87.60" y1="244.45" x2="96.60" y2="244.45" stroke="#1a1a1a" stroke-width="1.4"/>
<line x1="132.80" y1="258.16" x2="152.40" y2="258.16" stroke="#1a1a1a" stroke-width="1.4"/>
<line x1="142.60" y1="257.70" x2="142.60" y2="258.62" stroke="#1a1a1a" stroke-width="1.4"/>
<line x1="138.10" y1="257.70" x2="147.10" y2="257.70" stroke="#1a1a1a" stroke-width="1.4"/>
<line x1="138.10" y1="258.62" x2="147.10" y2="258.62" stroke="#1a1a1a" stroke-width="1.4"/>
<line x1="163.20" y1="256.77" x2="182.80" y2="256.77" stroke="#1a1a1a" stroke-width="1.4"/>
<line x1="173.00" y1="256.16" x2="173.00" y2="257.54" stroke="#1a1a1a" stroke-width="1.4"/>
<line x1="168.50" y1="256.16" x2="177.50" y2="256.16" stroke="#1a1a1a" stroke-width="1.4"/>
<line x1="168.50" y1="257.54" x2="177.50" y2="257.54" stroke="#1a1a1a" stroke-width="1.4"/>
<line x1="213.20" y1="293.00" x2="232.80" y2="293.00" stroke="#1a1a1a" stroke-width="1.3"/>
<line x1="223.00" y1="289.70" x2="223.00" y2="296.60" stroke="#1a1a1a" stroke-width="1.3"/>
<line x1="218.00" y1="289.70" x2="228.00" y2="289.70" stroke="#1a1a1a" stroke-width="1.3"/>
<line x1="218.00" y1="296.60" x2="228.00" y2="296.60" stroke="#1a1a1a" stroke-width="1.3"/>
<line x1="243.20" y1="325.20" x2="262.80" y2="325.20" stroke="#1a1a1a" stroke-width="1.3"/>
<line x1="253.00" y1="315.70" x2="253.00" y2="331.30" stroke="#1a1a1a" stroke-width="1.3"/>
<line x1="248.00" y1="315.70" x2="258.00" y2="315.70" stroke="#1a1a1a" stroke-width="1.3"/>
<line x1="248.00" y1="331.30" x2="258.00" y2="331.30" stroke="#1a1a1a" stroke-width="1.3"/>
<text x="0.00" y="0.00" font-size="12" text-anchor="middle" textLength="137.6" lengthAdjust="spacingAndGlyphs" transform="translate(13.2,300) rotate(-90)"><tspan font-weight="bold" font-style="normal" fill="#111">Expression </tspan><tspan font-weight="normal" font-style="normal" fill="#333">(log2 RPKM)</tspan></text>
<text x="0.00" y="0.00" font-size="13.5" text-anchor="end" textLength="52" lengthAdjust="spacingAndGlyphs" transform="translate(68.8,393.8) rotate(-45)"><tspan font-weight="bold" font-style="italic" fill="#111">NPM1</tspan><tspan font-weight="bold" font-style="italic" fill="#999999">wt</tspan></text>
<text x="0.00" y="0.00" font-size="13.5" text-anchor="end" textLength="43.5" lengthAdjust="spacingAndGlyphs" transform="translate(98.4,393.8) rotate(-45)"><tspan font-weight="bold" font-style="italic" fill="#111">NPM1</tspan><tspan font-weight="bold" font-style="italic" fill="#c00000">c</tspan></text>
<text x="0.00" y="0.00" font-size="13.5" text-anchor="end" textLength="52" lengthAdjust="spacingAndGlyphs" transform="translate(148.9,393.8) rotate(-45)"><tspan font-weight="bold" font-style="italic" fill="#111">NPM1</tspan><tspan font-weight="bold" font-style="italic" fill="#999999">wt</tspan></text>
<text x="0.00" y="0.00" font-size="13.5" text-anchor="end" textLength="43.5" lengthAdjust="spacingAndGlyphs" transform="translate(179.3,393.8) rotate(-45)"><tspan font-weight="bold" font-style="italic" fill="#111">NPM1</tspan><tspan font-weight="bold" font-style="italic" fill="#c00000">c</tspan></text>
<text x="0.00" y="0.00" font-size="13.5" text-anchor="end" textLength="52" lengthAdjust="spacingAndGlyphs" transform="translate(229.3,393.8) rotate(-45)"><tspan font-weight="bold" font-style="italic" fill="#111">NPM1</tspan><tspan font-weight="bold" font-style="italic" fill="#999999">wt</tspan></text>
<text x="0.00" y="0.00" font-size="13.5" text-anchor="end" textLength="43.5" lengthAdjust="spacingAndGlyphs" transform="translate(259.3,393.8) rotate(-45)"><tspan font-weight="bold" font-style="italic" fill="#111">NPM1</tspan><tspan font-weight="bold" font-style="italic" fill="#c00000">c</tspan></text>
<text x="134.50" y="470.40" font-size="12.5" font-weight="bold" font-style="normal" fill="#000" text-anchor="middle" textLength="57.5" lengthAdjust="spacingAndGlyphs">Beat-AML</text>
<line x1="44.40" y1="480.20" x2="224.50" y2="480.20" stroke="#a4a4a4" stroke-width="1.3"/>
<line x1="224.50" y1="480.20" x2="224.50" y2="659.50" stroke="#a4a4a4" stroke-width="1.3"/>
<line x1="44.40" y1="480.20" x2="44.40" y2="660.00" stroke="#8a8a8a" stroke-width="1.2"/>
<line x1="43.90" y1="659.50" x2="224.50" y2="659.50" stroke="#8a8a8a" stroke-width="1.2"/>
<line x1="37.20" y1="480.20" x2="44.40" y2="480.20" stroke="#8a8a8a" stroke-width="1"/>
<text x="34.60" y="485.20" font-size="14" font-weight="bold" font-style="normal" fill="#000" text-anchor="end">8</text>
<line x1="37.20" y1="516.00" x2="44.40" y2="516.00" stroke="#8a8a8a" stroke-width="1"/>
<text x="34.60" y="521.00" font-size="14" font-weight="bold" font-style="normal" fill="#000" text-anchor="end">6</text>
<line x1="37.20" y1="551.80" x2="44.40" y2="551.80" stroke="#8a8a8a" stroke-width="1"/>
<text x="34.60" y="556.80" font-size="14" font-weight="bold" font-style="normal" fill="#000" text-anchor="end">4</text>
<line x1="37.20" y1="587.60" x2="44.40" y2="587.60" stroke="#8a8a8a" stroke-width="1"/>
<text x="34.60" y="592.60" font-size="14" font-weight="bold" font-style="normal" fill="#000" text-anchor="end">2</text>
<line x1="37.20" y1="623.40" x2="44.40" y2="623.40" stroke="#8a8a8a" stroke-width="1"/>
<text x="34.60" y="628.40" font-size="14" font-weight="bold" font-style="normal" fill="#000" text-anchor="end">0</text>
<line x1="37.20" y1="659.20" x2="44.40" y2="659.20" stroke="#8a8a8a" stroke-width="1"/>
<text x="34.60" y="664.20" font-size="14" font-weight="bold" font-style="normal" fill="#000" text-anchor="end">-2</text>
<line x1="62.60" y1="659.50" x2="62.60" y2="665.50" stroke="#8a8a8a" stroke-width="1"/>
<line x1="91.70" y1="659.50" x2="91.70" y2="665.50" stroke="#8a8a8a" stroke-width="1"/>
<line x1="120.00" y1="659.50" x2="120.00" y2="665.50" stroke="#8a8a8a" stroke-width="1"/>
<line x1="148.20" y1="659.50" x2="148.20" y2="665.50" stroke="#8a8a8a" stroke-width="1"/>
<line x1="177.00" y1="659.50" x2="177.00" y2="665.50" stroke="#8a8a8a" stroke-width="1"/>
<line x1="205.80" y1="659.50" x2="205.80" y2="665.50" stroke="#8a8a8a" stroke-width="1"/>
<line x1="134.60" y1="480.20" x2="134.60" y2="744.00" stroke="#222" stroke-width="1" stroke-dasharray="3,2"/>
<g fill="#ff6600"><circle cx="62.60" cy="494.88" r="1.15"/><circle cx="62.60" cy="509.38" r="1.15"/><circle cx="62.60" cy="512.42" r="1.15"/><circle cx="61.30" cy="519.25" r="1.15"/><circle cx="63.90" cy="520.09" r="1.15"/><circle cx="60.00" cy="523.20" r="1.15"/><circle cx="62.60" cy="520.91" r="1.15"/><circle cx="65.20" cy="522.56" r="1.15"/><circle cx="61.30" cy="523.64" r="1.15"/><circle cx="63.90" cy="525.58" r="1.15"/><circle cx="62.60" cy="525.98" r="1.15"/><circle cx="57.40" cy="529.73" r="1.15"/><circle cx="60.00" cy="528.63" r="1.15"/><circle cx="62.60" cy="529.90" r="1.15"/><circle cx="65.20" cy="530.06" r="1.15"/><circle cx="67.80" cy="528.26" r="1.15"/><circle cx="58.70" cy="530.44" r="1.15"/><circle cx="61.30" cy="531.67" r="1.15"/><circle cx="63.90" cy="532.47" r="1.15"/><circle cx="66.50" cy="532.20" r="1.15"/><circle cx="56.10" cy="534.65" r="1.15"/><circle cx="58.70" cy="535.07" r="1.15"/><circle cx="61.30" cy="533.51" r="1.15"/><circle cx="63.90" cy="532.97" r="1.15"/><circle cx="66.50" cy="534.13" r="1.15"/><circle cx="69.10" cy="533.48" r="1.15"/><circle cx="53.60" cy="535.62" r="1.15"/><circle cx="55.24" cy="537.45" r="1.15"/><circle cx="56.87" cy="536.78" r="1.15"/><circle cx="58.51" cy="537.23" r="1.15"/><circle cx="60.15" cy="537.14" r="1.15"/><circle cx="61.78" cy="535.31" r="1.15"/><circle cx="63.42" cy="536.99" r="1.15"/><circle cx="65.05" cy="535.48" r="1.15"/><circle cx="66.69" cy="537.31" r="1.15"/><circle cx="68.33" cy="537.28" r="1.15"/><circle cx="69.96" cy="536.27" r="1.15"/><circle cx="71.60" cy="536.42" r="1.15"/><circle cx="53.60" cy="538.49" r="1.15"/><circle cx="55.40" cy="537.89" r="1.15"/><circle cx="57.20" cy="537.87" r="1.15"/><circle cx="59.00" cy="539.07" r="1.15"/><circle cx="60.80" cy="538.70" r="1.15"/><circle cx="62.60" cy="539.20" r="1.15"/><circle cx="64.40" cy="538.70" r="1.15"/><circle cx="66.20" cy="537.92" r="1.15"/><circle cx="68.00" cy="538.03" r="1.15"/><circle cx="69.80" cy="539.08" r="1.15"/><circle cx="71.60" cy="539.44" r="1.15"/><circle cx="53.60" cy="541.34" r="1.15"/><circle cx="55.24" cy="541.66" r="1.15"/><circle cx="56.87" cy="540.78" r="1.15"/><circle cx="58.51" cy="541.04" r="1.15"/><circle cx="60.15" cy="541.30" r="1.15"/><circle cx="61.78" cy="541.81" r="1.15"/><circle cx="63.42" cy="540.71" r="1.15"/><circle cx="65.05" cy="542.04" r="1.15"/><circle cx="66.69" cy="540.18" r="1.15"/><circle cx="68.33" cy="542.10" r="1.15"/><circle cx="69.96" cy="540.63" r="1.15"/><circle cx="71.60" cy="540.07" r="1.15"/><circle cx="54.80" cy="544.46" r="1.15"/><circle cx="57.40" cy="544.23" r="1.15"/><circle cx="60.00" cy="543.73" r="1.15"/><circle cx="62.60" cy="543.39" r="1.15"/><circle cx="65.20" cy="543.84" r="1.15"/><circle cx="67.80" cy="543.30" r="1.15"/><circle cx="70.40" cy="543.20" r="1.15"/><circle cx="53.60" cy="545.78" r="1.15"/><circle cx="54.89" cy="546.26" r="1.15"/><circle cx="56.17" cy="546.72" r="1.15"/><circle cx="57.46" cy="546.82" r="1.15"/><circle cx="58.74" cy="545.51" r="1.15"/><circle cx="60.03" cy="544.98" r="1.15"/><circle cx="61.31" cy="545.40" r="1.15"/><circle cx="62.60" cy="546.98" r="1.15"/><circle cx="63.89" cy="545.15" r="1.15"/><circle cx="65.17" cy="546.51" r="1.15"/><circle cx="66.46" cy="547.20" r="1.15"/><circle cx="67.74" cy="546.04" r="1.15"/><circle cx="69.03" cy="545.52" r="1.15"/><circle cx="70.31" cy="546.92" r="1.15"/><circle cx="71.60" cy="547.13" r="1.15"/><circle cx="57.40" cy="547.91" r="1.15"/><circle cx="60.00" cy="547.40" r="1.15"/><circle cx="62.60" cy="547.31" r="1.15"/><circle cx="65.20" cy="549.04" r="1.15"/><circle cx="67.80" cy="547.76" r="1.15"/><circle cx="53.60" cy="551.01" r="1.15"/><circle cx="55.60" cy="551.98" r="1.15"/><circle cx="57.60" cy="551.98" r="1.15"/><circle cx="59.60" cy="550.74" r="1.15"/><circle cx="61.60" cy="551.83" r="1.15"/><circle cx="63.60" cy="549.69" r="1.15"/><circle cx="65.60" cy="551.53" r="1.15"/><circle cx="67.60" cy="550.83" r="1.15"/><circle cx="69.60" cy="550.85" r="1.15"/><circle cx="71.60" cy="551.50" r="1.15"/><circle cx="56.10" cy="553.74" r="1.15"/><circle cx="58.70" cy="554.13" r="1.15"/><circle cx="61.30" cy="553.22" r="1.15"/><circle cx="63.90" cy="552.74" r="1.15"/><circle cx="66.50" cy="552.65" r="1.15"/><circle cx="69.10" cy="552.33" r="1.15"/><circle cx="54.80" cy="554.61" r="1.15"/><circle cx="57.40" cy="554.60" r="1.15"/><circle cx="60.00" cy="554.92" r="1.15"/><circle cx="62.60" cy="555.61" r="1.15"/><circle cx="65.20" cy="555.18" r="1.15"/><circle cx="67.80" cy="554.48" r="1.15"/><circle cx="70.40" cy="555.09" r="1.15"/><circle cx="53.60" cy="559.17" r="1.15"/><circle cx="56.17" cy="556.81" r="1.15"/><circle cx="58.74" cy="557.54" r="1.15"/><circle cx="61.31" cy="558.26" r="1.15"/><circle cx="63.89" cy="557.20" r="1.15"/><circle cx="66.46" cy="556.85" r="1.15"/><circle cx="69.03" cy="558.91" r="1.15"/><circle cx="71.60" cy="557.49" r="1.15"/><circle cx="53.60" cy="560.79" r="1.15"/><circle cx="55.85" cy="559.30" r="1.15"/><circle cx="58.10" cy="561.26" r="1.15"/><circle cx="60.35" cy="561.04" r="1.15"/><circle cx="62.60" cy="560.34" r="1.15"/><circle cx="64.85" cy="561.05" r="1.15"/><circle cx="67.10" cy="560.89" r="1.15"/><circle cx="69.35" cy="559.72" r="1.15"/><circle cx="71.60" cy="559.39" r="1.15"/><circle cx="58.70" cy="562.53" r="1.15"/><circle cx="61.30" cy="563.08" r="1.15"/><circle cx="63.90" cy="563.06" r="1.15"/><circle cx="66.50" cy="563.94" r="1.15"/><circle cx="56.10" cy="565.81" r="1.15"/><circle cx="58.70" cy="564.89" r="1.15"/><circle cx="61.30" cy="565.72" r="1.15"/><circle cx="63.90" cy="564.20" r="1.15"/><circle cx="66.50" cy="564.03" r="1.15"/><circle cx="69.10" cy="566.04" r="1.15"/><circle cx="56.10" cy="568.74" r="1.15"/><circle cx="58.70" cy="568.59" r="1.15"/><circle cx="61.30" cy="566.78" r="1.15"/><circle cx="63.90" cy="568.31" r="1.15"/><circle cx="66.50" cy="568.21" r="1.15"/><circle cx="69.10" cy="567.19" r="1.15"/><circle cx="60.00" cy="569.15" r="1.15"/><circle cx="62.60" cy="569.63" r="1.15"/><circle cx="65.20" cy="570.07" r="1.15"/><circle cx="61.30" cy="571.66" r="1.15"/><circle cx="63.90" cy="573.33" r="1.15"/><circle cx="60.00" cy="575.58" r="1.15"/><circle cx="62.60" cy="575.40" r="1.15"/><circle cx="65.20" cy="575.88" r="1.15"/><circle cx="58.70" cy="576.25" r="1.15"/><circle cx="61.30" cy="577.51" r="1.15"/><circle cx="63.90" cy="577.47" r="1.15"/><circle cx="66.50" cy="577.25" r="1.15"/><circle cx="56.10" cy="578.78" r="1.15"/><circle cx="58.70" cy="578.65" r="1.15"/><circle cx="61.30" cy="579.08" r="1.15"/><circle cx="63.90" cy="578.84" r="1.15"/><circle cx="66.50" cy="578.79" r="1.15"/><circle cx="69.10" cy="578.59" r="1.15"/><circle cx="57.40" cy="583.18" r="1.15"/><circle cx="60.00" cy="582.74" r="1.15"/><circle cx="62.60" cy="582.15" r="1.15"/><circle cx="65.20" cy="581.02" r="1.15"/><circle cx="67.80" cy="581.49" r="1.15"/><circle cx="58.70" cy="584.94" r="1.15"/><circle cx="61.30" cy="585.08" r="1.15"/><circle cx="63.90" cy="584.44" r="1.15"/><circle cx="66.50" cy="584.15" r="1.15"/><circle cx="62.60" cy="586.31" r="1.15"/><circle cx="61.30" cy="589.25" r="1.15"/><circle cx="63.90" cy="589.22" r="1.15"/><circle cx="58.70" cy="592.36" r="1.15"/><circle cx="61.30" cy="592.68" r="1.15"/><circle cx="63.90" cy="591.80" r="1.15"/><circle cx="66.50" cy="591.55" r="1.15"/><circle cx="58.70" cy="593.39" r="1.15"/><circle cx="61.30" cy="595.05" r="1.15"/><circle cx="63.90" cy="593.40" r="1.15"/><circle cx="66.50" cy="595.06" r="1.15"/><circle cx="61.30" cy="597.64" r="1.15"/><circle cx="63.90" cy="599.61" r="1.15"/><circle cx="56.10" cy="600.72" r="1.15"/><circle cx="58.70" cy="602.29" r="1.15"/><circle cx="61.30" cy="602.06" r="1.15"/><circle cx="63.90" cy="600.96" r="1.15"/><circle cx="66.50" cy="600.97" r="1.15"/><circle cx="69.10" cy="600.99" r="1.15"/><circle cx="61.30" cy="603.50" r="1.15"/><circle cx="63.90" cy="603.24" r="1.15"/><circle cx="57.40" cy="605.87" r="1.15"/><circle cx="60.00" cy="606.63" r="1.15"/><circle cx="62.60" cy="606.20" r="1.15"/><circle cx="65.20" cy="605.47" r="1.15"/><circle cx="67.80" cy="605.99" r="1.15"/><circle cx="62.60" cy="609.17" r="1.15"/><circle cx="60.00" cy="610.27" r="1.15"/><circle cx="62.60" cy="611.97" r="1.15"/><circle cx="65.20" cy="610.98" r="1.15"/><circle cx="56.10" cy="613.23" r="1.15"/><circle cx="58.70" cy="612.19" r="1.15"/><circle cx="61.30" cy="612.32" r="1.15"/><circle cx="63.90" cy="613.97" r="1.15"/><circle cx="66.50" cy="612.68" r="1.15"/><circle cx="69.10" cy="613.90" r="1.15"/><circle cx="60.00" cy="615.89" r="1.15"/><circle cx="62.60" cy="614.98" r="1.15"/><circle cx="65.20" cy="615.70" r="1.15"/><circle cx="62.60" cy="616.90" r="1.15"/><circle cx="62.60" cy="619.76" r="1.15"/><circle cx="62.60" cy="621.65" r="1.15"/><circle cx="61.30" cy="625.21" r="1.15"/><circle cx="63.90" cy="624.07" r="1.15"/><circle cx="61.30" cy="630.87" r="1.15"/><circle cx="63.90" cy="629.29" r="1.15"/><circle cx="62.60" cy="632.14" r="1.15"/><circle cx="62.60" cy="643.09" r="1.15"/><circle cx="62.60" cy="644.88" r="1.15"/></g>
<g fill="#ff6600"><circle cx="85.85" cy="522.89" r="1.2"/><circle cx="89.75" cy="523.19" r="1.2"/><circle cx="93.65" cy="523.64" r="1.2"/><circle cx="97.55" cy="522.97" r="1.2"/><circle cx="89.75" cy="531.69" r="1.2"/><circle cx="93.65" cy="532.52" r="1.2"/><circle cx="87.80" cy="538.37" r="1.2"/><circle cx="91.70" cy="537.93" r="1.2"/><circle cx="95.60" cy="538.36" r="1.2"/><circle cx="87.80" cy="545.72" r="1.2"/><circle cx="91.70" cy="545.91" r="1.2"/><circle cx="95.60" cy="546.25" r="1.2"/><circle cx="87.80" cy="550.63" r="1.2"/><circle cx="91.70" cy="549.59" r="1.2"/><circle cx="95.60" cy="549.89" r="1.2"/><circle cx="89.75" cy="558.45" r="1.2"/><circle cx="93.65" cy="558.45" r="1.2"/><circle cx="85.85" cy="567.20" r="1.2"/><circle cx="89.75" cy="567.37" r="1.2"/><circle cx="93.65" cy="567.74" r="1.2"/><circle cx="97.55" cy="567.57" r="1.2"/><circle cx="91.70" cy="568.57" r="1.2"/><circle cx="89.75" cy="571.73" r="1.2"/><circle cx="93.65" cy="572.16" r="1.2"/><circle cx="89.75" cy="576.52" r="1.2"/><circle cx="93.65" cy="575.97" r="1.2"/><circle cx="91.70" cy="579.79" r="1.2"/><circle cx="91.70" cy="580.63" r="1.2"/><circle cx="89.75" cy="585.20" r="1.2"/><circle cx="93.65" cy="585.36" r="1.2"/><circle cx="89.75" cy="586.35" r="1.2"/><circle cx="93.65" cy="586.30" r="1.2"/><circle cx="91.70" cy="591.25" r="1.2"/><circle cx="87.80" cy="601.05" r="1.2"/><circle cx="91.70" cy="600.95" r="1.2"/><circle cx="95.60" cy="601.25" r="1.2"/><circle cx="89.75" cy="614.22" r="1.2"/><circle cx="93.65" cy="614.00" r="1.2"/><circle cx="89.75" cy="617.51" r="1.2"/><circle cx="93.65" cy="616.61" r="1.2"/><circle cx="91.70" cy="623.89" r="1.2"/><circle cx="91.70" cy="627.40" r="1.2"/><circle cx="91.70" cy="647.79" r="1.2"/></g>
<g fill="#ff6600"><circle cx="120.00" cy="493.96" r="1.2"/><circle cx="116.10" cy="534.43" r="1.2"/><circle cx="120.00" cy="534.42" r="1.2"/><circle cx="123.90" cy="534.68" r="1.2"/><circle cx="120.00" cy="547.89" r="1.2"/><circle cx="120.00" cy="553.62" r="1.2"/><circle cx="120.00" cy="554.13" r="1.2"/><circle cx="120.00" cy="560.28" r="1.2"/><circle cx="120.00" cy="566.55" r="1.2"/><circle cx="120.00" cy="570.88" r="1.2"/><circle cx="120.00" cy="578.10" r="1.2"/><circle cx="120.00" cy="581.46" r="1.2"/><circle cx="120.00" cy="586.00" r="1.2"/><circle cx="120.00" cy="610.94" r="1.2"/></g>
<g fill="#ff6600"><circle cx="148.20" cy="515.62" r="1.2"/><circle cx="146.25" cy="522.54" r="1.2"/><circle cx="150.15" cy="523.41" r="1.2"/><circle cx="148.20" cy="531.13" r="1.2"/><circle cx="148.20" cy="540.19" r="1.2"/><circle cx="142.35" cy="549.81" r="1.2"/><circle cx="146.25" cy="550.52" r="1.2"/><circle cx="150.15" cy="550.20" r="1.2"/><circle cx="154.05" cy="550.53" r="1.2"/><circle cx="146.25" cy="554.34" r="1.2"/><circle cx="150.15" cy="554.05" r="1.2"/><circle cx="146.25" cy="559.51" r="1.2"/><circle cx="150.15" cy="559.59" r="1.2"/><circle cx="148.20" cy="560.07" r="1.2"/><circle cx="144.30" cy="565.00" r="1.2"/><circle cx="148.20" cy="565.01" r="1.2"/><circle cx="152.10" cy="564.36" r="1.2"/><circle cx="144.30" cy="567.68" r="1.2"/><circle cx="148.20" cy="566.85" r="1.2"/><circle cx="152.10" cy="567.68" r="1.2"/><circle cx="148.20" cy="574.14" r="1.2"/><circle cx="148.20" cy="574.55" r="1.2"/><circle cx="146.25" cy="579.77" r="1.2"/><circle cx="150.15" cy="579.71" r="1.2"/><circle cx="146.25" cy="583.62" r="1.2"/><circle cx="150.15" cy="583.57" r="1.2"/><circle cx="148.20" cy="588.62" r="1.2"/><circle cx="148.20" cy="589.07" r="1.2"/><circle cx="144.30" cy="599.03" r="1.2"/><circle cx="148.20" cy="598.94" r="1.2"/><circle cx="152.10" cy="599.35" r="1.2"/><circle cx="146.25" cy="602.65" r="1.2"/><circle cx="150.15" cy="601.82" r="1.2"/><circle cx="146.25" cy="604.78" r="1.2"/><circle cx="150.15" cy="605.31" r="1.2"/><circle cx="144.30" cy="607.82" r="1.2"/><circle cx="148.20" cy="608.38" r="1.2"/><circle cx="152.10" cy="608.54" r="1.2"/><circle cx="146.25" cy="610.75" r="1.2"/><circle cx="150.15" cy="611.65" r="1.2"/><circle cx="148.20" cy="615.66" r="1.2"/><circle cx="140.40" cy="622.03" r="1.2"/><circle cx="144.30" cy="620.93" r="1.2"/><circle cx="148.20" cy="621.44" r="1.2"/><circle cx="152.10" cy="620.98" r="1.2"/><circle cx="156.00" cy="621.02" r="1.2"/><circle cx="146.25" cy="628.48" r="1.2"/><circle cx="150.15" cy="628.19" r="1.2"/><circle cx="144.30" cy="632.83" r="1.2"/><circle cx="148.20" cy="633.01" r="1.2"/><circle cx="152.10" cy="633.18" r="1.2"/><circle cx="146.25" cy="638.79" r="1.2"/><circle cx="150.15" cy="639.17" r="1.2"/><circle cx="148.20" cy="643.83" r="1.2"/><circle cx="146.25" cy="648.58" r="1.2"/><circle cx="150.15" cy="648.92" r="1.2"/></g>
<g fill="#ff6600"><circle cx="175.05" cy="531.39" r="1.2"/><circle cx="178.95" cy="531.07" r="1.2"/><circle cx="177.00" cy="549.86" r="1.2"/><circle cx="175.05" cy="553.50" r="1.2"/><circle cx="178.95" cy="553.79" r="1.2"/><circle cx="171.15" cy="554.50" r="1.2"/><circle cx="175.05" cy="555.93" r="1.2"/><circle cx="178.95" cy="555.87" r="1.2"/><circle cx="182.85" cy="556.77" r="1.2"/><circle cx="175.05" cy="562.45" r="1.2"/><circle cx="178.95" cy="562.04" r="1.2"/><circle cx="175.05" cy="567.57" r="1.2"/><circle cx="178.95" cy="567.34" r="1.2"/><circle cx="173.10" cy="571.44" r="1.2"/><circle cx="177.00" cy="571.89" r="1.2"/><circle cx="180.90" cy="572.21" r="1.2"/><circle cx="177.00" cy="579.47" r="1.2"/><circle cx="177.00" cy="584.61" r="1.2"/><circle cx="177.00" cy="589.59" r="1.2"/><circle cx="175.05" cy="597.00" r="1.2"/><circle cx="178.95" cy="597.39" r="1.2"/><circle cx="173.10" cy="598.33" r="1.2"/><circle cx="177.00" cy="599.46" r="1.2"/><circle cx="180.90" cy="599.39" r="1.2"/><circle cx="177.00" cy="604.94" r="1.2"/><circle cx="175.05" cy="611.16" r="1.2"/><circle cx="178.95" cy="611.63" r="1.2"/><circle cx="175.05" cy="616.29" r="1.2"/><circle cx="178.95" cy="615.50" r="1.2"/><circle cx="173.10" cy="619.66" r="1.2"/><circle cx="177.00" cy="618.50" r="1.2"/><circle cx="180.90" cy="619.60" r="1.2"/><circle cx="169.20" cy="622.51" r="1.2"/><circle cx="173.10" cy="622.58" r="1.2"/><circle cx="177.00" cy="621.47" r="1.2"/><circle cx="180.90" cy="622.68" r="1.2"/><circle cx="184.80" cy="622.07" r="1.2"/><circle cx="175.05" cy="627.40" r="1.2"/><circle cx="178.95" cy="626.65" r="1.2"/><circle cx="173.10" cy="629.80" r="1.2"/><circle cx="177.00" cy="630.04" r="1.2"/><circle cx="180.90" cy="629.73" r="1.2"/><circle cx="175.05" cy="633.11" r="1.2"/><circle cx="178.95" cy="633.19" r="1.2"/><circle cx="175.05" cy="636.09" r="1.2"/><circle cx="178.95" cy="635.81" r="1.2"/><circle cx="175.05" cy="638.48" r="1.2"/><circle cx="178.95" cy="638.25" r="1.2"/><circle cx="175.05" cy="646.04" r="1.2"/><circle cx="178.95" cy="645.05" r="1.2"/></g>
<g fill="#ff6600"><circle cx="205.80" cy="525.44" r="1.2"/><circle cx="205.80" cy="538.82" r="1.2"/><circle cx="205.80" cy="550.10" r="1.2"/><circle cx="205.80" cy="563.30" r="1.2"/><circle cx="205.80" cy="572.38" r="1.2"/><circle cx="205.80" cy="576.85" r="1.2"/><circle cx="205.80" cy="579.74" r="1.2"/><circle cx="205.80" cy="588.38" r="1.2"/><circle cx="205.80" cy="599.30" r="1.2"/><circle cx="205.80" cy="607.74" r="1.2"/><circle cx="205.80" cy="612.95" r="1.2"/><circle cx="205.80" cy="620.32" r="1.2"/><circle cx="205.80" cy="627.13" r="1.2"/><circle cx="205.80" cy="630.92" r="1.2"/></g>
<g fill="#ff6600"><circle cx="62.60" cy="494.88" r="1.25"/><circle cx="62.60" cy="509.38" r="1.25"/><circle cx="62.60" cy="512.42" r="1.25"/><circle cx="62.60" cy="519.25" r="1.25"/><circle cx="61.96" cy="520.09" r="1.25"/><circle cx="63.24" cy="520.91" r="1.25"/><circle cx="61.31" cy="523.20" r="1.25"/><circle cx="62.60" cy="522.56" r="1.25"/><circle cx="63.89" cy="523.64" r="1.25"/><circle cx="61.96" cy="525.98" r="1.25"/><circle cx="63.24" cy="525.58" r="1.25"/><circle cx="61.96" cy="528.26" r="1.25"/><circle cx="63.24" cy="528.63" r="1.25"/><circle cx="60.67" cy="529.73" r="1.25"/><circle cx="61.96" cy="530.06" r="1.25"/><circle cx="63.24" cy="529.90" r="1.25"/><circle cx="64.53" cy="530.44" r="1.25"/><circle cx="59.39" cy="532.47" r="1.25"/><circle cx="60.67" cy="532.97" r="1.25"/><circle cx="61.96" cy="533.51" r="1.25"/><circle cx="63.24" cy="533.48" r="1.25"/><circle cx="64.53" cy="532.20" r="1.25"/><circle cx="65.81" cy="531.67" r="1.25"/><circle cx="59.39" cy="534.13" r="1.25"/><circle cx="60.67" cy="535.07" r="1.25"/><circle cx="61.96" cy="535.48" r="1.25"/><circle cx="63.24" cy="534.65" r="1.25"/><circle cx="64.53" cy="535.31" r="1.25"/><circle cx="65.81" cy="535.62" r="1.25"/><circle cx="54.89" cy="537.14" r="1.25"/><circle cx="56.17" cy="537.92" r="1.25"/><circle cx="57.46" cy="537.87" r="1.25"/><circle cx="58.74" cy="538.03" r="1.25"/><circle cx="60.03" cy="537.31" r="1.25"/><circle cx="61.31" cy="537.28" r="1.25"/><circle cx="62.60" cy="536.27" r="1.25"/><circle cx="63.89" cy="536.78" r="1.25"/><circle cx="65.17" cy="537.45" r="1.25"/><circle cx="66.46" cy="536.99" r="1.25"/><circle cx="67.74" cy="537.89" r="1.25"/><circle cx="69.03" cy="536.42" r="1.25"/><circle cx="70.31" cy="537.23" r="1.25"/><circle cx="57.46" cy="539.08" r="1.25"/><circle cx="58.74" cy="538.70" r="1.25"/><circle cx="60.03" cy="538.49" r="1.25"/><circle cx="61.31" cy="538.70" r="1.25"/><circle cx="62.60" cy="539.07" r="1.25"/><circle cx="63.89" cy="540.18" r="1.25"/><circle cx="65.17" cy="540.07" r="1.25"/><circle cx="66.46" cy="539.44" r="1.25"/><circle cx="67.74" cy="539.20" r="1.25"/><circle cx="56.81" cy="541.34" r="1.25"/><circle cx="58.10" cy="541.66" r="1.25"/><circle cx="59.39" cy="542.10" r="1.25"/><circle cx="60.67" cy="541.04" r="1.25"/><circle cx="61.96" cy="541.81" r="1.25"/><circle cx="63.24" cy="540.78" r="1.25"/><circle cx="64.53" cy="540.71" r="1.25"/><circle cx="65.81" cy="541.30" r="1.25"/><circle cx="67.10" cy="542.04" r="1.25"/><circle cx="68.39" cy="540.63" r="1.25"/><circle cx="57.46" cy="543.39" r="1.25"/><circle cx="58.74" cy="543.20" r="1.25"/><circle cx="60.03" cy="545.15" r="1.25"/><circle cx="61.31" cy="543.84" r="1.25"/><circle cx="62.60" cy="544.23" r="1.25"/><circle cx="63.89" cy="544.46" r="1.25"/><circle cx="65.17" cy="543.73" r="1.25"/><circle cx="66.46" cy="544.98" r="1.25"/><circle cx="67.74" cy="543.30" r="1.25"/><circle cx="53.60" cy="546.26" r="1.25"/><circle cx="54.89" cy="545.51" r="1.25"/><circle cx="56.17" cy="547.13" r="1.25"/><circle cx="57.46" cy="546.82" r="1.25"/><circle cx="58.74" cy="547.20" r="1.25"/><circle cx="60.03" cy="547.40" r="1.25"/><circle cx="61.31" cy="545.52" r="1.25"/><circle cx="62.60" cy="546.72" r="1.25"/><circle cx="63.89" cy="547.31" r="1.25"/><circle cx="65.17" cy="546.04" r="1.25"/><circle cx="66.46" cy="546.92" r="1.25"/><circle cx="67.74" cy="545.40" r="1.25"/><circle cx="69.03" cy="546.98" r="1.25"/><circle cx="70.31" cy="545.78" r="1.25"/><circle cx="71.60" cy="546.51" r="1.25"/><circle cx="60.67" cy="549.04" r="1.25"/><circle cx="61.96" cy="547.76" r="1.25"/><circle cx="63.24" cy="547.91" r="1.25"/><circle cx="64.53" cy="549.69" r="1.25"/><circle cx="57.46" cy="550.83" r="1.25"/><circle cx="58.74" cy="551.50" r="1.25"/><circle cx="60.03" cy="550.74" r="1.25"/><circle cx="61.31" cy="551.01" r="1.25"/><circle cx="62.60" cy="551.98" r="1.25"/><circle cx="63.89" cy="550.85" r="1.25"/><circle cx="65.17" cy="551.83" r="1.25"/><circle cx="66.46" cy="551.98" r="1.25"/><circle cx="67.74" cy="551.53" r="1.25"/><circle cx="58.74" cy="553.74" r="1.25"/><circle cx="60.03" cy="552.65" r="1.25"/><circle cx="61.31" cy="554.48" r="1.25"/><circle cx="62.60" cy="553.22" r="1.25"/><circle cx="63.89" cy="554.13" r="1.25"/><circle cx="65.17" cy="552.33" r="1.25"/><circle cx="66.46" cy="552.74" r="1.25"/><circle cx="58.10" cy="555.18" r="1.25"/><circle cx="59.39" cy="554.61" r="1.25"/><circle cx="60.67" cy="554.60" r="1.25"/><circle cx="61.96" cy="556.85" r="1.25"/><circle cx="63.24" cy="554.92" r="1.25"/><circle cx="64.53" cy="555.09" r="1.25"/><circle cx="65.81" cy="556.81" r="1.25"/><circle cx="67.10" cy="555.61" r="1.25"/><circle cx="59.39" cy="558.26" r="1.25"/><circle cx="60.67" cy="559.17" r="1.25"/><circle cx="61.96" cy="557.54" r="1.25"/><circle cx="63.24" cy="558.91" r="1.25"/><circle cx="64.53" cy="557.49" r="1.25"/><circle cx="65.81" cy="557.20" r="1.25"/><circle cx="57.46" cy="559.72" r="1.25"/><circle cx="58.74" cy="559.30" r="1.25"/><circle cx="60.03" cy="559.39" r="1.25"/><circle cx="61.31" cy="561.04" r="1.25"/><circle cx="62.60" cy="560.79" r="1.25"/><circle cx="63.89" cy="561.26" r="1.25"/><circle cx="65.17" cy="561.05" r="1.25"/><circle cx="66.46" cy="560.89" r="1.25"/><circle cx="67.74" cy="560.34" r="1.25"/><circle cx="61.31" cy="563.06" r="1.25"/><circle cx="62.60" cy="562.53" r="1.25"/><circle cx="63.89" cy="563.08" r="1.25"/><circle cx="58.74" cy="564.20" r="1.25"/><circle cx="60.03" cy="564.03" r="1.25"/><circle cx="61.31" cy="566.04" r="1.25"/><circle cx="62.60" cy="565.81" r="1.25"/><circle cx="63.89" cy="564.89" r="1.25"/><circle cx="65.17" cy="565.72" r="1.25"/><circle cx="66.46" cy="563.94" r="1.25"/><circle cx="60.03" cy="568.21" r="1.25"/><circle cx="61.31" cy="566.78" r="1.25"/><circle cx="62.60" cy="568.31" r="1.25"/><circle cx="63.89" cy="568.59" r="1.25"/><circle cx="65.17" cy="567.19" r="1.25"/><circle cx="60.67" cy="569.15" r="1.25"/><circle cx="61.96" cy="569.63" r="1.25"/><circle cx="63.24" cy="570.07" r="1.25"/><circle cx="64.53" cy="568.74" r="1.25"/><circle cx="62.60" cy="571.66" r="1.25"/><circle cx="61.31" cy="575.58" r="1.25"/><circle cx="62.60" cy="575.40" r="1.25"/><circle cx="63.89" cy="573.33" r="1.25"/><circle cx="60.03" cy="576.25" r="1.25"/><circle cx="61.31" cy="575.88" r="1.25"/><circle cx="62.60" cy="577.25" r="1.25"/><circle cx="63.89" cy="577.47" r="1.25"/><circle cx="65.17" cy="577.51" r="1.25"/><circle cx="59.39" cy="578.78" r="1.25"/><circle cx="60.67" cy="579.08" r="1.25"/><circle cx="61.96" cy="578.65" r="1.25"/><circle cx="63.24" cy="578.79" r="1.25"/><circle cx="64.53" cy="578.59" r="1.25"/><circle cx="65.81" cy="578.84" r="1.25"/><circle cx="61.31" cy="581.02" r="1.25"/><circle cx="62.60" cy="581.49" r="1.25"/><circle cx="63.89" cy="582.15" r="1.25"/><circle cx="60.03" cy="584.94" r="1.25"/><circle cx="61.31" cy="584.15" r="1.25"/><circle cx="62.60" cy="584.44" r="1.25"/><circle cx="63.89" cy="583.18" r="1.25"/><circle cx="65.17" cy="582.74" r="1.25"/><circle cx="61.96" cy="585.08" r="1.25"/><circle cx="63.24" cy="586.31" r="1.25"/><circle cx="61.96" cy="589.22" r="1.25"/><circle cx="63.24" cy="589.25" r="1.25"/><circle cx="61.96" cy="591.80" r="1.25"/><circle cx="63.24" cy="591.55" r="1.25"/><circle cx="60.67" cy="592.36" r="1.25"/><circle cx="61.96" cy="593.40" r="1.25"/><circle cx="63.24" cy="592.68" r="1.25"/><circle cx="64.53" cy="593.39" r="1.25"/><circle cx="61.96" cy="595.06" r="1.25"/><circle cx="63.24" cy="595.05" r="1.25"/><circle cx="62.60" cy="597.64" r="1.25"/><circle cx="60.03" cy="600.96" r="1.25"/><circle cx="61.31" cy="600.97" r="1.25"/><circle cx="62.60" cy="600.99" r="1.25"/><circle cx="63.89" cy="600.72" r="1.25"/><circle cx="65.17" cy="599.61" r="1.25"/><circle cx="60.67" cy="602.06" r="1.25"/><circle cx="61.96" cy="603.24" r="1.25"/><circle cx="63.24" cy="602.29" r="1.25"/><circle cx="64.53" cy="603.50" r="1.25"/><circle cx="61.31" cy="605.87" r="1.25"/><circle cx="62.60" cy="605.47" r="1.25"/><circle cx="63.89" cy="605.99" r="1.25"/><circle cx="61.96" cy="606.20" r="1.25"/><circle cx="63.24" cy="606.63" r="1.25"/><circle cx="61.96" cy="610.27" r="1.25"/><circle cx="63.24" cy="609.17" r="1.25"/><circle cx="60.03" cy="612.32" r="1.25"/><circle cx="61.31" cy="610.98" r="1.25"/><circle cx="62.60" cy="611.97" r="1.25"/><circle cx="63.89" cy="612.68" r="1.25"/><circle cx="65.17" cy="612.19" r="1.25"/><circle cx="60.67" cy="613.90" r="1.25"/><circle cx="61.96" cy="613.97" r="1.25"/><circle cx="63.24" cy="614.98" r="1.25"/><circle cx="64.53" cy="613.23" r="1.25"/><circle cx="61.31" cy="615.89" r="1.25"/><circle cx="62.60" cy="615.70" r="1.25"/><circle cx="63.89" cy="616.90" r="1.25"/><circle cx="62.60" cy="619.76" r="1.25"/><circle cx="62.60" cy="621.65" r="1.25"/><circle cx="62.60" cy="624.07" r="1.25"/><circle cx="62.60" cy="625.21" r="1.25"/><circle cx="62.60" cy="629.29" r="1.25"/><circle cx="62.60" cy="630.87" r="1.25"/><circle cx="62.60" cy="632.14" r="1.25"/><circle cx="62.60" cy="643.09" r="1.25"/><circle cx="62.60" cy="644.88" r="1.25"/></g>
<g fill="#ff6600"><circle cx="87.80" cy="522.97" r="1.25"/><circle cx="90.40" cy="522.89" r="1.25"/><circle cx="93.00" cy="523.64" r="1.25"/><circle cx="95.60" cy="523.19" r="1.25"/><circle cx="90.40" cy="531.69" r="1.25"/><circle cx="93.00" cy="532.52" r="1.25"/><circle cx="91.70" cy="537.93" r="1.25"/><circle cx="90.40" cy="538.37" r="1.25"/><circle cx="93.00" cy="538.36" r="1.25"/><circle cx="89.10" cy="545.91" r="1.25"/><circle cx="91.70" cy="546.25" r="1.25"/><circle cx="94.30" cy="545.72" r="1.25"/><circle cx="90.40" cy="549.59" r="1.25"/><circle cx="93.00" cy="549.89" r="1.25"/><circle cx="91.70" cy="550.63" r="1.25"/><circle cx="90.40" cy="558.45" r="1.25"/><circle cx="93.00" cy="558.45" r="1.25"/><circle cx="86.50" cy="568.57" r="1.25"/><circle cx="89.10" cy="567.74" r="1.25"/><circle cx="91.70" cy="567.37" r="1.25"/><circle cx="94.30" cy="567.57" r="1.25"/><circle cx="96.90" cy="567.20" r="1.25"/><circle cx="90.40" cy="571.73" r="1.25"/><circle cx="93.00" cy="572.16" r="1.25"/><circle cx="90.40" cy="575.97" r="1.25"/><circle cx="93.00" cy="576.52" r="1.25"/><circle cx="91.70" cy="579.79" r="1.25"/><circle cx="91.70" cy="580.63" r="1.25"/><circle cx="87.80" cy="586.35" r="1.25"/><circle cx="90.40" cy="586.30" r="1.25"/><circle cx="93.00" cy="585.36" r="1.25"/><circle cx="95.60" cy="585.20" r="1.25"/><circle cx="91.70" cy="591.25" r="1.25"/><circle cx="89.10" cy="601.25" r="1.25"/><circle cx="91.70" cy="601.05" r="1.25"/><circle cx="94.30" cy="600.95" r="1.25"/><circle cx="90.40" cy="614.22" r="1.25"/><circle cx="93.00" cy="614.00" r="1.25"/><circle cx="90.40" cy="617.51" r="1.25"/><circle cx="93.00" cy="616.61" r="1.25"/><circle cx="91.70" cy="623.89" r="1.25"/><circle cx="91.70" cy="627.40" r="1.25"/><circle cx="91.70" cy="647.79" r="1.25"/></g>
<g fill="#ff6600"><circle cx="120.00" cy="493.96" r="1.25"/><circle cx="117.40" cy="534.68" r="1.25"/><circle cx="120.00" cy="534.43" r="1.25"/><circle cx="122.60" cy="534.42" r="1.25"/><circle cx="120.00" cy="547.89" r="1.25"/><circle cx="118.70" cy="553.62" r="1.25"/><circle cx="121.30" cy="554.13" r="1.25"/><circle cx="120.00" cy="560.28" r="1.25"/><circle cx="120.00" cy="566.55" r="1.25"/><circle cx="120.00" cy="570.88" r="1.25"/><circle cx="120.00" cy="578.10" r="1.25"/><circle cx="120.00" cy="581.46" r="1.25"/><circle cx="120.00" cy="586.00" r="1.25"/><circle cx="120.00" cy="610.94" r="1.25"/></g>
<g fill="#ff6600"><circle cx="148.20" cy="515.62" r="1.25"/><circle cx="146.90" cy="523.41" r="1.25"/><circle cx="149.50" cy="522.54" r="1.25"/><circle cx="148.20" cy="531.13" r="1.25"/><circle cx="148.20" cy="540.19" r="1.25"/><circle cx="148.20" cy="549.81" r="1.25"/><circle cx="145.60" cy="550.52" r="1.25"/><circle cx="148.20" cy="550.53" r="1.25"/><circle cx="150.80" cy="550.20" r="1.25"/><circle cx="146.90" cy="554.05" r="1.25"/><circle cx="149.50" cy="554.34" r="1.25"/><circle cx="145.60" cy="560.07" r="1.25"/><circle cx="148.20" cy="559.51" r="1.25"/><circle cx="150.80" cy="559.59" r="1.25"/><circle cx="145.60" cy="565.00" r="1.25"/><circle cx="148.20" cy="565.01" r="1.25"/><circle cx="150.80" cy="564.36" r="1.25"/><circle cx="145.60" cy="567.68" r="1.25"/><circle cx="148.20" cy="566.85" r="1.25"/><circle cx="150.80" cy="567.68" r="1.25"/><circle cx="146.90" cy="574.55" r="1.25"/><circle cx="149.50" cy="574.14" r="1.25"/><circle cx="146.90" cy="579.77" r="1.25"/><circle cx="149.50" cy="579.71" r="1.25"/><circle cx="146.90" cy="583.57" r="1.25"/><circle cx="149.50" cy="583.62" r="1.25"/><circle cx="146.90" cy="589.07" r="1.25"/><circle cx="149.50" cy="588.62" r="1.25"/><circle cx="146.90" cy="599.03" r="1.25"/><circle cx="149.50" cy="598.94" r="1.25"/><circle cx="148.20" cy="599.35" r="1.25"/><circle cx="146.90" cy="601.82" r="1.25"/><circle cx="149.50" cy="602.65" r="1.25"/><circle cx="146.90" cy="604.78" r="1.25"/><circle cx="149.50" cy="605.31" r="1.25"/><circle cx="146.90" cy="607.82" r="1.25"/><circle cx="149.50" cy="608.38" r="1.25"/><circle cx="148.20" cy="608.54" r="1.25"/><circle cx="146.90" cy="611.65" r="1.25"/><circle cx="149.50" cy="610.75" r="1.25"/><circle cx="148.20" cy="615.66" r="1.25"/><circle cx="143.00" cy="620.93" r="1.25"/><circle cx="145.60" cy="621.44" r="1.25"/><circle cx="148.20" cy="621.02" r="1.25"/><circle cx="150.80" cy="622.03" r="1.25"/><circle cx="153.40" cy="620.98" r="1.25"/><circle cx="146.90" cy="628.19" r="1.25"/><circle cx="149.50" cy="628.48" r="1.25"/><circle cx="145.60" cy="632.83" r="1.25"/><circle cx="148.20" cy="633.18" r="1.25"/><circle cx="150.80" cy="633.01" r="1.25"/><circle cx="148.20" cy="638.79" r="1.25"/><circle cx="148.20" cy="639.17" r="1.25"/><circle cx="148.20" cy="643.83" r="1.25"/><circle cx="146.90" cy="648.58" r="1.25"/><circle cx="149.50" cy="648.92" r="1.25"/></g>
<g fill="#ff6600"><circle cx="177.00" cy="531.07" r="1.25"/><circle cx="177.00" cy="531.39" r="1.25"/><circle cx="177.00" cy="549.86" r="1.25"/><circle cx="174.40" cy="553.50" r="1.25"/><circle cx="177.00" cy="554.50" r="1.25"/><circle cx="179.60" cy="553.79" r="1.25"/><circle cx="174.40" cy="556.77" r="1.25"/><circle cx="177.00" cy="555.87" r="1.25"/><circle cx="179.60" cy="555.93" r="1.25"/><circle cx="175.70" cy="562.45" r="1.25"/><circle cx="178.30" cy="562.04" r="1.25"/><circle cx="175.70" cy="567.34" r="1.25"/><circle cx="178.30" cy="567.57" r="1.25"/><circle cx="174.40" cy="571.89" r="1.25"/><circle cx="177.00" cy="571.44" r="1.25"/><circle cx="179.60" cy="572.21" r="1.25"/><circle cx="177.00" cy="579.47" r="1.25"/><circle cx="177.00" cy="584.61" r="1.25"/><circle cx="177.00" cy="589.59" r="1.25"/><circle cx="174.40" cy="598.33" r="1.25"/><circle cx="177.00" cy="597.00" r="1.25"/><circle cx="179.60" cy="597.39" r="1.25"/><circle cx="175.70" cy="599.39" r="1.25"/><circle cx="178.30" cy="599.46" r="1.25"/><circle cx="177.00" cy="604.94" r="1.25"/><circle cx="175.70" cy="611.16" r="1.25"/><circle cx="178.30" cy="611.63" r="1.25"/><circle cx="175.70" cy="616.29" r="1.25"/><circle cx="178.30" cy="615.50" r="1.25"/><circle cx="174.40" cy="618.50" r="1.25"/><circle cx="177.00" cy="619.60" r="1.25"/><circle cx="179.60" cy="619.66" r="1.25"/><circle cx="175.70" cy="621.47" r="1.25"/><circle cx="178.30" cy="622.07" r="1.25"/><circle cx="174.40" cy="622.58" r="1.25"/><circle cx="177.00" cy="622.68" r="1.25"/><circle cx="179.60" cy="622.51" r="1.25"/><circle cx="177.00" cy="626.65" r="1.25"/><circle cx="177.00" cy="627.40" r="1.25"/><circle cx="174.40" cy="629.80" r="1.25"/><circle cx="177.00" cy="629.73" r="1.25"/><circle cx="179.60" cy="630.04" r="1.25"/><circle cx="175.70" cy="633.19" r="1.25"/><circle cx="178.30" cy="633.11" r="1.25"/><circle cx="175.70" cy="635.81" r="1.25"/><circle cx="178.30" cy="636.09" r="1.25"/><circle cx="175.70" cy="638.48" r="1.25"/><circle cx="178.30" cy="638.25" r="1.25"/><circle cx="177.00" cy="645.05" r="1.25"/><circle cx="177.00" cy="646.04" r="1.25"/></g>
<g fill="#ff6600"><circle cx="205.80" cy="525.44" r="1.25"/><circle cx="205.80" cy="538.82" r="1.25"/><circle cx="205.80" cy="550.10" r="1.25"/><circle cx="205.80" cy="563.30" r="1.25"/><circle cx="205.80" cy="572.38" r="1.25"/><circle cx="205.80" cy="576.85" r="1.25"/><circle cx="205.80" cy="579.74" r="1.25"/><circle cx="205.80" cy="588.38" r="1.25"/><circle cx="205.80" cy="599.30" r="1.25"/><circle cx="205.80" cy="607.74" r="1.25"/><circle cx="205.80" cy="612.95" r="1.25"/><circle cx="205.80" cy="620.32" r="1.25"/><circle cx="205.80" cy="627.13" r="1.25"/><circle cx="205.80" cy="630.92" r="1.25"/></g>
<line x1="53.20" y1="559.86" x2="72.00" y2="559.86" stroke="#333" stroke-width="1.2"/>
<line x1="62.60" y1="556.27" x2="62.60" y2="564.33" stroke="#333" stroke-width="1.2"/>
<line x1="57.80" y1="556.27" x2="67.40" y2="556.27" stroke="#333" stroke-width="1.2"/>
<line x1="57.80" y1="564.33" x2="67.40" y2="564.33" stroke="#333" stroke-width="1.2"/>
<line x1="82.30" y1="569.70" x2="101.10" y2="569.70" stroke="#333" stroke-width="1.2"/>
<line x1="91.70" y1="557.17" x2="91.70" y2="582.23" stroke="#333" stroke-width="1.2"/>
<line x1="86.90" y1="557.17" x2="96.50" y2="557.17" stroke="#333" stroke-width="1.2"/>
<line x1="86.90" y1="582.23" x2="96.50" y2="582.23" stroke="#333" stroke-width="1.2"/>
<line x1="110.60" y1="557.17" x2="129.40" y2="557.17" stroke="#333" stroke-width="1.2"/>
<line x1="120.00" y1="549.12" x2="120.00" y2="567.01" stroke="#333" stroke-width="1.2"/>
<line x1="115.20" y1="549.12" x2="124.80" y2="549.12" stroke="#333" stroke-width="1.2"/>
<line x1="115.20" y1="567.01" x2="124.80" y2="567.01" stroke="#333" stroke-width="1.2"/>
<line x1="138.80" y1="589.39" x2="157.60" y2="589.39" stroke="#333" stroke-width="1.2"/>
<line x1="148.20" y1="576.86" x2="148.20" y2="605.50" stroke="#333" stroke-width="1.2"/>
<line x1="143.40" y1="576.86" x2="153.00" y2="576.86" stroke="#333" stroke-width="1.2"/>
<line x1="143.40" y1="605.50" x2="153.00" y2="605.50" stroke="#333" stroke-width="1.2"/>
<line x1="167.60" y1="603.71" x2="186.40" y2="603.71" stroke="#333" stroke-width="1.2"/>
<line x1="177.00" y1="594.76" x2="177.00" y2="618.92" stroke="#333" stroke-width="1.2"/>
<line x1="172.20" y1="594.76" x2="181.80" y2="594.76" stroke="#333" stroke-width="1.2"/>
<line x1="172.20" y1="618.92" x2="181.80" y2="618.92" stroke="#333" stroke-width="1.2"/>
<line x1="196.40" y1="580.44" x2="215.20" y2="580.44" stroke="#333" stroke-width="1.2"/>
<line x1="205.80" y1="562.54" x2="205.80" y2="613.55" stroke="#333" stroke-width="1.2"/>
<line x1="201.00" y1="562.54" x2="210.60" y2="562.54" stroke="#333" stroke-width="1.2"/>
<line x1="201.00" y1="613.55" x2="210.60" y2="613.55" stroke="#333" stroke-width="1.2"/>
<text x="0.00" y="0.00" font-size="13" text-anchor="middle" textLength="172" lengthAdjust="spacingAndGlyphs" transform="translate(14.5,569.5) rotate(-90)"><tspan font-weight="bold" font-style="italic" fill="#ea6e14">AKT3</tspan><tspan font-weight="bold" font-style="normal" fill="#111"> expression </tspan><tspan font-weight="normal" font-style="normal" fill="#333">(log2 RPKM)</tspan></text>
<text x="0.00" y="0.00" font-size="13.5" text-anchor="end" transform="translate(66.8,677.0) rotate(-45)"><tspan font-weight="bold" font-style="italic" fill="#999999">wt</tspan></text>
<text x="0.00" y="0.00" font-size="13.5" text-anchor="end" textLength="49" lengthAdjust="spacingAndGlyphs" transform="translate(95.9,677.0) rotate(-45)"><tspan font-weight="bold" font-style="italic" fill="#111">FLT3-</tspan><tspan font-weight="normal" font-style="italic" fill="#999999">ITD</tspan></text>
<text x="0.00" y="0.00" font-size="13.5" text-anchor="end" textLength="54" lengthAdjust="spacingAndGlyphs" transform="translate(124.2,677.0) rotate(-45)"><tspan font-weight="bold" font-style="italic" fill="#111">FLT3-</tspan><tspan font-weight="normal" font-style="italic" fill="#999999">TKD</tspan></text>
<text x="0.00" y="0.00" font-size="13.5" text-anchor="end" transform="translate(152.4,677.0) rotate(-45)"><tspan font-weight="bold" font-style="italic" fill="#999999">wt</tspan></text>
<text x="0.00" y="0.00" font-size="13.5" text-anchor="end" textLength="49" lengthAdjust="spacingAndGlyphs" transform="translate(181.2,677.0) rotate(-45)"><tspan font-weight="bold" font-style="italic" fill="#111">FLT3-</tspan><tspan font-weight="normal" font-style="italic" fill="#999999">ITD</tspan></text>
<text x="0.00" y="0.00" font-size="13.5" text-anchor="end" textLength="54" lengthAdjust="spacingAndGlyphs" transform="translate(210.0,677.0) rotate(-45)"><tspan font-weight="bold" font-style="italic" fill="#111">FLT3-</tspan><tspan font-weight="normal" font-style="italic" fill="#999999">TKD</tspan></text>
<line x1="45.60" y1="720.90" x2="134.60" y2="720.90" stroke="#111" stroke-width="2"/>
<line x1="134.60" y1="720.90" x2="223.60" y2="720.90" stroke="#c8201e" stroke-width="2"/>
<text x="89.40" y="737.20" font-size="13.2" text-anchor="middle"><tspan font-weight="bold" font-style="italic" fill="#111">NPM1</tspan><tspan font-weight="bold" font-style="italic" fill="#999999">wt</tspan></text>
<text x="177.00" y="737.20" font-size="13.2" text-anchor="middle"><tspan font-weight="bold" font-style="italic" fill="#111">NPM1</tspan><tspan font-weight="bold" font-style="italic" fill="#c00000">c</tspan></text>
<text x="508.70" y="118.90" font-size="12.5" font-weight="bold" font-style="normal" fill="#000" text-anchor="middle" textLength="58" lengthAdjust="spacingAndGlyphs">Beat-AML</text>
<line x1="408.62" y1="128.30" x2="408.62" y2="203.10" stroke="#d9d9d9" stroke-width="1"/>
<line x1="438.74" y1="128.30" x2="438.74" y2="203.10" stroke="#d9d9d9" stroke-width="1"/>
<line x1="468.87" y1="128.30" x2="468.87" y2="203.10" stroke="#d9d9d9" stroke-width="1"/>
<line x1="498.99" y1="128.30" x2="498.99" y2="203.10" stroke="#d9d9d9" stroke-width="1"/>
<line x1="529.11" y1="128.30" x2="529.11" y2="203.10" stroke="#d9d9d9" stroke-width="1"/>
<line x1="559.23" y1="128.30" x2="559.23" y2="203.10" stroke="#d9d9d9" stroke-width="1"/>
<line x1="589.36" y1="128.30" x2="589.36" y2="203.10" stroke="#d9d9d9" stroke-width="1"/>
<line x1="619.48" y1="128.30" x2="619.48" y2="203.10" stroke="#d9d9d9" stroke-width="1"/>
<line x1="378.50" y1="153.22" x2="649.60" y2="153.22" stroke="#d9d9d9" stroke-width="1"/>
<line x1="378.50" y1="178.16" x2="649.60" y2="178.16" stroke="#d9d9d9" stroke-width="1"/>
<text x="372.60" y="135.28" font-size="12.6" font-weight="bold" font-style="normal" fill="#7f7f7f" text-anchor="end">12</text>
<text x="372.60" y="160.22" font-size="12.6" font-weight="bold" font-style="normal" fill="#7f7f7f" text-anchor="end">10</text>
<text x="372.60" y="185.16" font-size="12.6" font-weight="bold" font-style="normal" fill="#7f7f7f" text-anchor="end">8</text>
<text x="372.60" y="210.10" font-size="12.6" font-weight="bold" font-style="normal" fill="#7f7f7f" text-anchor="end">6</text>
<rect x="378.5" y="128.3" width="271.1" height="74.8" fill="none" stroke="#5a5a5a" stroke-width="1.3"/>
<polyline points="379.40,194.60 381.90,190.30 388.80,187.90 391.80,184.30 400.70,182.30 408.60,179.40 424.40,175.40 438.30,172.50 468.90,168.90 499.00,165.90 515.00,164.50 529.80,163.60 549.50,161.80 561.40,159.60 567.30,157.00 570.90,154.30" fill="none" stroke="#a5a5a5" stroke-width="3.4" stroke-linejoin="round" stroke-linecap="round"/>
<polyline points="572.70,198.20 576.20,188.30 581.20,180.40 589.10,176.80 599.00,173.40 608.90,169.50 628.60,164.50 638.50,161.20 645.50,157.00" fill="none" stroke="#a5a5a5" stroke-width="3.4" stroke-linejoin="round" stroke-linecap="round"/>
<g fill="#a5a5a5"><circle cx="571.30" cy="149.70" r="1.3"/><circle cx="646.20" cy="152.30" r="1.3"/></g>
<g fill="#a5a5a5"><circle cx="657.90" cy="199.40" r="3.1"/></g>
<text x="666.00" y="202.90" font-size="12.8" font-weight="bold" font-style="italic" fill="#1a1a1a" text-anchor="start" textLength="35" lengthAdjust="spacingAndGlyphs">NPM1</text>
<line x1="408.62" y1="222.50" x2="408.62" y2="378.30" stroke="#d9d9d9" stroke-width="1"/>
<line x1="438.74" y1="222.50" x2="438.74" y2="378.30" stroke="#d9d9d9" stroke-width="1"/>
<line x1="468.87" y1="222.50" x2="468.87" y2="378.30" stroke="#d9d9d9" stroke-width="1"/>
<line x1="498.99" y1="222.50" x2="498.99" y2="378.30" stroke="#d9d9d9" stroke-width="1"/>
<line x1="529.11" y1="222.50" x2="529.11" y2="378.30" stroke="#d9d9d9" stroke-width="1"/>
<line x1="559.23" y1="222.50" x2="559.23" y2="378.30" stroke="#d9d9d9" stroke-width="1"/>
<line x1="589.36" y1="222.50" x2="589.36" y2="378.30" stroke="#d9d9d9" stroke-width="1"/>
<line x1="619.48" y1="222.50" x2="619.48" y2="378.30" stroke="#d9d9d9" stroke-width="1"/>
<line x1="378.50" y1="253.48" x2="649.60" y2="253.48" stroke="#d9d9d9" stroke-width="1"/>
<line x1="378.50" y1="284.72" x2="649.60" y2="284.72" stroke="#d9d9d9" stroke-width="1"/>
<line x1="378.50" y1="315.96" x2="649.60" y2="315.96" stroke="#d9d9d9" stroke-width="1"/>
<line x1="378.50" y1="347.20" x2="649.60" y2="347.20" stroke="#d9d9d9" stroke-width="1"/>
<text x="373.20" y="227.54" font-size="13.4" font-weight="bold" font-style="normal" fill="#111" text-anchor="end">8</text>
<text x="373.20" y="258.78" font-size="13.4" font-weight="bold" font-style="normal" fill="#111" text-anchor="end">6</text>
<text x="373.20" y="290.02" font-size="13.4" font-weight="bold" font-style="normal" fill="#111" text-anchor="end">4</text>
<text x="373.20" y="321.26" font-size="13.4" font-weight="bold" font-style="normal" fill="#111" text-anchor="end">2</text>
<text x="373.20" y="352.50" font-size="13.4" font-weight="bold" font-style="normal" fill="#111" text-anchor="end">0</text>
<text x="373.20" y="383.74" font-size="13.4" font-weight="bold" font-style="normal" fill="#111" text-anchor="end">-2</text>
<g fill="#5b9bd5"><circle cx="380.50" cy="250.15" r="1.45"/><circle cx="381.08" cy="250.02" r="1.45"/><circle cx="381.66" cy="242.64" r="1.45"/><circle cx="382.24" cy="254.67" r="1.45"/><circle cx="382.82" cy="245.94" r="1.45"/><circle cx="383.40" cy="254.52" r="1.45"/><circle cx="383.97" cy="240.89" r="1.45"/><circle cx="384.55" cy="244.53" r="1.45"/><circle cx="385.13" cy="239.85" r="1.45"/><circle cx="385.71" cy="247.41" r="1.45"/><circle cx="386.29" cy="243.74" r="1.45"/><circle cx="386.87" cy="246.52" r="1.45"/><circle cx="387.45" cy="248.36" r="1.45"/><circle cx="388.03" cy="244.77" r="1.45"/><circle cx="388.61" cy="250.46" r="1.45"/><circle cx="389.19" cy="246.80" r="1.45"/><circle cx="389.76" cy="242.53" r="1.45"/><circle cx="390.34" cy="245.12" r="1.45"/><circle cx="390.92" cy="247.02" r="1.45"/><circle cx="391.50" cy="236.47" r="1.45"/><circle cx="392.08" cy="245.12" r="1.45"/><circle cx="392.66" cy="247.74" r="1.45"/><circle cx="393.24" cy="244.71" r="1.45"/><circle cx="393.82" cy="247.48" r="1.45"/><circle cx="394.40" cy="246.92" r="1.45"/><circle cx="394.98" cy="246.78" r="1.45"/><circle cx="395.55" cy="237.13" r="1.45"/><circle cx="396.13" cy="245.27" r="1.45"/><circle cx="396.71" cy="244.64" r="1.45"/><circle cx="397.29" cy="242.62" r="1.45"/><circle cx="397.87" cy="237.17" r="1.45"/><circle cx="398.45" cy="246.27" r="1.45"/><circle cx="399.03" cy="247.89" r="1.45"/><circle cx="399.61" cy="235.31" r="1.45"/><circle cx="400.19" cy="251.29" r="1.45"/><circle cx="400.77" cy="246.85" r="1.45"/><circle cx="401.34" cy="242.65" r="1.45"/><circle cx="401.92" cy="236.08" r="1.45"/><circle cx="402.50" cy="249.22" r="1.45"/><circle cx="403.08" cy="255.04" r="1.45"/><circle cx="403.66" cy="242.67" r="1.45"/><circle cx="404.24" cy="247.48" r="1.45"/><circle cx="404.82" cy="246.93" r="1.45"/><circle cx="405.40" cy="243.48" r="1.45"/><circle cx="405.98" cy="244.45" r="1.45"/><circle cx="406.56" cy="244.18" r="1.45"/><circle cx="407.14" cy="247.11" r="1.45"/><circle cx="407.71" cy="240.12" r="1.45"/><circle cx="408.29" cy="239.25" r="1.45"/><circle cx="408.87" cy="245.23" r="1.45"/><circle cx="409.45" cy="247.19" r="1.45"/><circle cx="410.03" cy="242.38" r="1.45"/><circle cx="410.61" cy="243.42" r="1.45"/><circle cx="411.19" cy="249.58" r="1.45"/><circle cx="411.77" cy="247.23" r="1.45"/><circle cx="412.35" cy="241.10" r="1.45"/><circle cx="412.93" cy="245.75" r="1.45"/><circle cx="413.50" cy="246.69" r="1.45"/><circle cx="414.08" cy="244.49" r="1.45"/><circle cx="414.66" cy="245.49" r="1.45"/><circle cx="415.24" cy="245.37" r="1.45"/><circle cx="415.82" cy="253.20" r="1.45"/><circle cx="416.40" cy="238.25" r="1.45"/><circle cx="416.98" cy="244.55" r="1.45"/><circle cx="417.56" cy="248.92" r="1.45"/><circle cx="418.14" cy="241.38" r="1.45"/><circle cx="418.72" cy="244.10" r="1.45"/><circle cx="419.29" cy="245.29" r="1.45"/><circle cx="419.87" cy="241.10" r="1.45"/><circle cx="420.45" cy="236.18" r="1.45"/><circle cx="421.03" cy="243.11" r="1.45"/><circle cx="421.61" cy="238.92" r="1.45"/><circle cx="422.19" cy="236.60" r="1.45"/><circle cx="422.77" cy="249.50" r="1.45"/><circle cx="423.35" cy="247.48" r="1.45"/><circle cx="423.93" cy="242.20" r="1.45"/><circle cx="424.51" cy="252.29" r="1.45"/><circle cx="425.09" cy="246.44" r="1.45"/><circle cx="425.66" cy="240.11" r="1.45"/><circle cx="426.24" cy="241.12" r="1.45"/><circle cx="426.82" cy="243.00" r="1.45"/><circle cx="427.40" cy="253.05" r="1.45"/><circle cx="427.98" cy="235.81" r="1.45"/><circle cx="428.56" cy="243.12" r="1.45"/><circle cx="429.14" cy="242.24" r="1.45"/><circle cx="429.72" cy="243.35" r="1.45"/><circle cx="430.30" cy="252.33" r="1.45"/><circle cx="430.88" cy="251.18" r="1.45"/><circle cx="431.45" cy="250.30" r="1.45"/><circle cx="432.03" cy="237.57" r="1.45"/><circle cx="432.61" cy="248.73" r="1.45"/><circle cx="433.19" cy="246.34" r="1.45"/><circle cx="433.77" cy="246.39" r="1.45"/><circle cx="434.35" cy="243.04" r="1.45"/><circle cx="434.93" cy="243.32" r="1.45"/><circle cx="435.51" cy="244.27" r="1.45"/><circle cx="436.09" cy="250.48" r="1.45"/><circle cx="436.67" cy="255.04" r="1.45"/><circle cx="437.24" cy="244.68" r="1.45"/><circle cx="437.82" cy="244.27" r="1.45"/><circle cx="438.40" cy="240.36" r="1.45"/><circle cx="438.98" cy="245.78" r="1.45"/><circle cx="439.56" cy="247.84" r="1.45"/><circle cx="440.14" cy="243.69" r="1.45"/><circle cx="440.72" cy="251.67" r="1.45"/><circle cx="441.30" cy="249.59" r="1.45"/><circle cx="441.88" cy="249.44" r="1.45"/><circle cx="442.46" cy="244.19" r="1.45"/><circle cx="443.03" cy="236.87" r="1.45"/><circle cx="443.61" cy="242.26" r="1.45"/><circle cx="444.19" cy="240.72" r="1.45"/><circle cx="444.77" cy="244.39" r="1.45"/><circle cx="445.35" cy="244.22" r="1.45"/><circle cx="445.93" cy="247.18" r="1.45"/><circle cx="446.51" cy="246.50" r="1.45"/><circle cx="447.09" cy="255.04" r="1.45"/><circle cx="447.67" cy="250.24" r="1.45"/><circle cx="448.25" cy="250.58" r="1.45"/><circle cx="448.83" cy="241.96" r="1.45"/><circle cx="449.40" cy="242.66" r="1.45"/><circle cx="449.98" cy="240.72" r="1.45"/><circle cx="450.56" cy="239.04" r="1.45"/><circle cx="451.14" cy="246.60" r="1.45"/><circle cx="451.72" cy="241.07" r="1.45"/><circle cx="452.30" cy="237.42" r="1.45"/><circle cx="452.88" cy="245.39" r="1.45"/><circle cx="453.46" cy="240.94" r="1.45"/><circle cx="454.04" cy="246.03" r="1.45"/><circle cx="454.62" cy="251.91" r="1.45"/><circle cx="455.19" cy="244.87" r="1.45"/><circle cx="455.77" cy="248.70" r="1.45"/><circle cx="456.35" cy="244.92" r="1.45"/><circle cx="456.93" cy="247.24" r="1.45"/><circle cx="457.51" cy="244.06" r="1.45"/><circle cx="458.09" cy="254.04" r="1.45"/><circle cx="458.67" cy="236.89" r="1.45"/><circle cx="459.25" cy="239.84" r="1.45"/><circle cx="459.83" cy="246.78" r="1.45"/><circle cx="460.41" cy="249.05" r="1.45"/><circle cx="460.98" cy="245.34" r="1.45"/><circle cx="461.56" cy="242.61" r="1.45"/><circle cx="462.14" cy="243.64" r="1.45"/><circle cx="462.72" cy="243.73" r="1.45"/><circle cx="463.30" cy="253.36" r="1.45"/><circle cx="463.88" cy="249.95" r="1.45"/><circle cx="464.46" cy="239.90" r="1.45"/><circle cx="465.04" cy="244.38" r="1.45"/><circle cx="465.62" cy="251.54" r="1.45"/><circle cx="466.20" cy="248.88" r="1.45"/><circle cx="466.78" cy="251.24" r="1.45"/><circle cx="467.35" cy="249.50" r="1.45"/><circle cx="467.93" cy="240.56" r="1.45"/><circle cx="468.51" cy="246.26" r="1.45"/><circle cx="469.09" cy="240.76" r="1.45"/><circle cx="469.67" cy="244.59" r="1.45"/><circle cx="470.25" cy="251.53" r="1.45"/><circle cx="470.83" cy="248.02" r="1.45"/><circle cx="471.41" cy="235.93" r="1.45"/><circle cx="471.99" cy="248.51" r="1.45"/><circle cx="472.57" cy="249.68" r="1.45"/><circle cx="473.14" cy="240.26" r="1.45"/><circle cx="473.72" cy="244.99" r="1.45"/><circle cx="474.30" cy="245.38" r="1.45"/><circle cx="474.88" cy="239.30" r="1.45"/><circle cx="475.46" cy="252.64" r="1.45"/><circle cx="476.04" cy="243.63" r="1.45"/><circle cx="476.62" cy="249.72" r="1.45"/><circle cx="477.20" cy="251.16" r="1.45"/><circle cx="477.78" cy="248.73" r="1.45"/><circle cx="478.36" cy="240.59" r="1.45"/><circle cx="478.93" cy="245.94" r="1.45"/><circle cx="479.51" cy="252.96" r="1.45"/><circle cx="480.09" cy="249.95" r="1.45"/><circle cx="480.67" cy="239.04" r="1.45"/><circle cx="481.25" cy="241.11" r="1.45"/><circle cx="481.83" cy="249.88" r="1.45"/><circle cx="482.41" cy="235.30" r="1.45"/><circle cx="482.99" cy="246.88" r="1.45"/><circle cx="483.57" cy="250.31" r="1.45"/><circle cx="484.15" cy="245.92" r="1.45"/><circle cx="484.72" cy="241.47" r="1.45"/><circle cx="485.30" cy="238.67" r="1.45"/><circle cx="485.88" cy="241.09" r="1.45"/><circle cx="486.46" cy="247.13" r="1.45"/><circle cx="487.04" cy="247.69" r="1.45"/><circle cx="487.62" cy="251.40" r="1.45"/><circle cx="488.20" cy="245.66" r="1.45"/><circle cx="488.78" cy="247.83" r="1.45"/><circle cx="489.36" cy="244.34" r="1.45"/><circle cx="489.94" cy="250.62" r="1.45"/><circle cx="490.52" cy="247.51" r="1.45"/><circle cx="491.09" cy="249.02" r="1.45"/><circle cx="491.67" cy="250.35" r="1.45"/><circle cx="492.25" cy="250.28" r="1.45"/><circle cx="492.83" cy="249.59" r="1.45"/><circle cx="493.41" cy="250.27" r="1.45"/><circle cx="493.99" cy="243.00" r="1.45"/><circle cx="494.57" cy="244.94" r="1.45"/><circle cx="495.15" cy="250.84" r="1.45"/><circle cx="495.73" cy="243.23" r="1.45"/><circle cx="496.31" cy="244.16" r="1.45"/><circle cx="496.88" cy="239.29" r="1.45"/><circle cx="497.46" cy="246.17" r="1.45"/><circle cx="498.04" cy="246.23" r="1.45"/><circle cx="498.62" cy="248.22" r="1.45"/><circle cx="499.20" cy="244.84" r="1.45"/><circle cx="499.78" cy="243.31" r="1.45"/><circle cx="500.36" cy="244.63" r="1.45"/><circle cx="500.94" cy="246.41" r="1.45"/><circle cx="501.52" cy="243.01" r="1.45"/><circle cx="502.10" cy="244.98" r="1.45"/><circle cx="502.67" cy="244.33" r="1.45"/><circle cx="503.25" cy="249.24" r="1.45"/><circle cx="503.83" cy="244.50" r="1.45"/><circle cx="504.41" cy="249.50" r="1.45"/><circle cx="504.99" cy="248.86" r="1.45"/><circle cx="505.57" cy="244.69" r="1.45"/><circle cx="506.15" cy="236.61" r="1.45"/><circle cx="506.73" cy="241.22" r="1.45"/><circle cx="507.31" cy="245.34" r="1.45"/><circle cx="507.89" cy="246.10" r="1.45"/><circle cx="508.47" cy="241.25" r="1.45"/><circle cx="509.04" cy="239.61" r="1.45"/><circle cx="509.62" cy="240.29" r="1.45"/><circle cx="510.20" cy="246.13" r="1.45"/><circle cx="510.78" cy="244.57" r="1.45"/><circle cx="511.36" cy="246.73" r="1.45"/><circle cx="511.94" cy="246.54" r="1.45"/><circle cx="512.52" cy="248.91" r="1.45"/><circle cx="513.10" cy="246.39" r="1.45"/><circle cx="513.68" cy="254.30" r="1.45"/><circle cx="514.26" cy="250.34" r="1.45"/><circle cx="514.83" cy="243.59" r="1.45"/><circle cx="515.41" cy="249.20" r="1.45"/><circle cx="515.99" cy="243.11" r="1.45"/><circle cx="516.57" cy="250.73" r="1.45"/><circle cx="517.15" cy="246.89" r="1.45"/><circle cx="517.73" cy="243.71" r="1.45"/><circle cx="518.31" cy="249.67" r="1.45"/><circle cx="518.89" cy="248.32" r="1.45"/><circle cx="519.47" cy="235.08" r="1.45"/><circle cx="520.05" cy="248.19" r="1.45"/><circle cx="520.62" cy="248.29" r="1.45"/><circle cx="521.20" cy="247.74" r="1.45"/><circle cx="521.78" cy="245.22" r="1.45"/><circle cx="522.36" cy="245.47" r="1.45"/><circle cx="522.94" cy="241.27" r="1.45"/><circle cx="523.52" cy="242.07" r="1.45"/><circle cx="524.10" cy="247.03" r="1.45"/><circle cx="524.68" cy="246.84" r="1.45"/><circle cx="525.26" cy="251.24" r="1.45"/><circle cx="525.84" cy="251.57" r="1.45"/><circle cx="526.41" cy="248.43" r="1.45"/><circle cx="526.99" cy="242.32" r="1.45"/><circle cx="527.57" cy="244.86" r="1.45"/><circle cx="528.15" cy="242.02" r="1.45"/><circle cx="528.73" cy="241.45" r="1.45"/><circle cx="529.31" cy="246.04" r="1.45"/><circle cx="529.89" cy="236.63" r="1.45"/><circle cx="530.47" cy="247.53" r="1.45"/><circle cx="531.05" cy="247.95" r="1.45"/><circle cx="531.63" cy="247.14" r="1.45"/><circle cx="532.21" cy="240.64" r="1.45"/><circle cx="532.78" cy="245.92" r="1.45"/><circle cx="533.36" cy="248.43" r="1.45"/><circle cx="533.94" cy="243.55" r="1.45"/><circle cx="534.52" cy="240.66" r="1.45"/><circle cx="535.10" cy="245.82" r="1.45"/><circle cx="535.68" cy="246.41" r="1.45"/><circle cx="536.26" cy="240.85" r="1.45"/><circle cx="536.84" cy="241.28" r="1.45"/><circle cx="537.42" cy="241.43" r="1.45"/><circle cx="538.00" cy="248.53" r="1.45"/><circle cx="538.57" cy="244.18" r="1.45"/><circle cx="539.15" cy="243.85" r="1.45"/><circle cx="539.73" cy="252.81" r="1.45"/><circle cx="540.31" cy="240.37" r="1.45"/><circle cx="540.89" cy="244.94" r="1.45"/><circle cx="541.47" cy="246.77" r="1.45"/><circle cx="542.05" cy="235.96" r="1.45"/><circle cx="542.63" cy="244.75" r="1.45"/><circle cx="543.21" cy="248.35" r="1.45"/><circle cx="543.79" cy="245.62" r="1.45"/><circle cx="544.36" cy="243.02" r="1.45"/><circle cx="544.94" cy="241.98" r="1.45"/><circle cx="545.52" cy="245.59" r="1.45"/><circle cx="546.10" cy="248.94" r="1.45"/><circle cx="546.68" cy="248.25" r="1.45"/><circle cx="547.26" cy="248.75" r="1.45"/><circle cx="547.84" cy="249.72" r="1.45"/><circle cx="548.42" cy="245.44" r="1.45"/><circle cx="549.00" cy="247.39" r="1.45"/><circle cx="549.58" cy="245.13" r="1.45"/><circle cx="550.16" cy="248.79" r="1.45"/><circle cx="550.73" cy="248.95" r="1.45"/><circle cx="551.31" cy="246.13" r="1.45"/><circle cx="551.89" cy="246.80" r="1.45"/><circle cx="552.47" cy="240.58" r="1.45"/><circle cx="553.05" cy="249.11" r="1.45"/><circle cx="553.63" cy="244.50" r="1.45"/><circle cx="554.21" cy="245.53" r="1.45"/><circle cx="554.79" cy="250.78" r="1.45"/><circle cx="555.37" cy="242.34" r="1.45"/><circle cx="555.95" cy="244.65" r="1.45"/><circle cx="556.52" cy="254.06" r="1.45"/><circle cx="557.10" cy="242.87" r="1.45"/><circle cx="557.68" cy="241.47" r="1.45"/><circle cx="558.26" cy="248.66" r="1.45"/><circle cx="558.84" cy="238.34" r="1.45"/><circle cx="559.42" cy="244.71" r="1.45"/><circle cx="560.00" cy="250.14" r="1.45"/><circle cx="560.58" cy="243.03" r="1.45"/><circle cx="561.16" cy="246.85" r="1.45"/><circle cx="561.74" cy="250.90" r="1.45"/><circle cx="562.31" cy="254.25" r="1.45"/><circle cx="562.89" cy="244.34" r="1.45"/><circle cx="563.47" cy="248.40" r="1.45"/><circle cx="564.05" cy="242.69" r="1.45"/><circle cx="564.63" cy="243.75" r="1.45"/><circle cx="565.21" cy="247.51" r="1.45"/><circle cx="565.79" cy="247.56" r="1.45"/><circle cx="566.37" cy="238.04" r="1.45"/><circle cx="566.95" cy="238.29" r="1.45"/><circle cx="567.53" cy="242.24" r="1.45"/><circle cx="568.10" cy="246.83" r="1.45"/><circle cx="568.68" cy="249.42" r="1.45"/><circle cx="569.26" cy="246.96" r="1.45"/><circle cx="569.84" cy="238.47" r="1.45"/><circle cx="570.42" cy="243.45" r="1.45"/><circle cx="571.00" cy="246.56" r="1.45"/><circle cx="574.00" cy="250.44" r="1.45"/><circle cx="574.60" cy="244.66" r="1.45"/><circle cx="575.19" cy="249.00" r="1.45"/><circle cx="575.79" cy="245.30" r="1.45"/><circle cx="576.39" cy="242.29" r="1.45"/><circle cx="576.98" cy="240.93" r="1.45"/><circle cx="577.58" cy="244.78" r="1.45"/><circle cx="578.18" cy="246.77" r="1.45"/><circle cx="578.77" cy="244.42" r="1.45"/><circle cx="579.37" cy="237.90" r="1.45"/><circle cx="579.97" cy="243.80" r="1.45"/><circle cx="580.56" cy="251.15" r="1.45"/><circle cx="581.16" cy="238.94" r="1.45"/><circle cx="581.76" cy="244.32" r="1.45"/><circle cx="582.35" cy="234.74" r="1.45"/><circle cx="582.95" cy="247.30" r="1.45"/><circle cx="583.55" cy="245.75" r="1.45"/><circle cx="584.15" cy="246.58" r="1.45"/><circle cx="584.74" cy="243.80" r="1.45"/><circle cx="585.34" cy="247.75" r="1.45"/><circle cx="585.94" cy="251.46" r="1.45"/><circle cx="586.53" cy="253.30" r="1.45"/><circle cx="587.13" cy="245.87" r="1.45"/><circle cx="587.73" cy="247.48" r="1.45"/><circle cx="588.32" cy="247.75" r="1.45"/><circle cx="588.92" cy="236.60" r="1.45"/><circle cx="589.52" cy="242.07" r="1.45"/><circle cx="590.11" cy="240.85" r="1.45"/><circle cx="590.71" cy="247.42" r="1.45"/><circle cx="591.31" cy="244.12" r="1.45"/><circle cx="591.90" cy="246.23" r="1.45"/><circle cx="592.50" cy="246.20" r="1.45"/><circle cx="593.10" cy="242.27" r="1.45"/><circle cx="593.69" cy="242.86" r="1.45"/><circle cx="594.29" cy="244.10" r="1.45"/><circle cx="594.89" cy="244.75" r="1.45"/><circle cx="595.48" cy="251.31" r="1.45"/><circle cx="596.08" cy="248.40" r="1.45"/><circle cx="596.68" cy="243.78" r="1.45"/><circle cx="597.27" cy="246.87" r="1.45"/><circle cx="597.87" cy="248.57" r="1.45"/><circle cx="598.47" cy="243.89" r="1.45"/><circle cx="599.06" cy="249.16" r="1.45"/><circle cx="599.66" cy="248.13" r="1.45"/><circle cx="600.26" cy="241.72" r="1.45"/><circle cx="600.85" cy="246.84" r="1.45"/><circle cx="601.45" cy="239.46" r="1.45"/><circle cx="602.05" cy="243.20" r="1.45"/><circle cx="602.65" cy="242.02" r="1.45"/><circle cx="603.24" cy="240.69" r="1.45"/><circle cx="603.84" cy="254.27" r="1.45"/><circle cx="604.44" cy="245.69" r="1.45"/><circle cx="605.03" cy="250.68" r="1.45"/><circle cx="605.63" cy="247.27" r="1.45"/><circle cx="606.23" cy="245.79" r="1.45"/><circle cx="606.82" cy="240.23" r="1.45"/><circle cx="607.42" cy="245.54" r="1.45"/><circle cx="608.02" cy="238.59" r="1.45"/><circle cx="608.61" cy="247.52" r="1.45"/><circle cx="609.21" cy="245.59" r="1.45"/><circle cx="609.81" cy="244.98" r="1.45"/><circle cx="610.40" cy="241.46" r="1.45"/><circle cx="611.00" cy="245.57" r="1.45"/><circle cx="611.60" cy="247.90" r="1.45"/><circle cx="612.19" cy="246.71" r="1.45"/><circle cx="612.79" cy="251.13" r="1.45"/><circle cx="613.39" cy="240.17" r="1.45"/><circle cx="613.98" cy="242.28" r="1.45"/><circle cx="614.58" cy="243.60" r="1.45"/><circle cx="615.18" cy="244.22" r="1.45"/><circle cx="615.77" cy="247.85" r="1.45"/><circle cx="616.37" cy="247.03" r="1.45"/><circle cx="616.97" cy="242.03" r="1.45"/><circle cx="617.56" cy="248.60" r="1.45"/><circle cx="618.16" cy="248.58" r="1.45"/><circle cx="618.76" cy="238.87" r="1.45"/><circle cx="619.35" cy="238.94" r="1.45"/><circle cx="619.95" cy="244.16" r="1.45"/><circle cx="620.55" cy="243.17" r="1.45"/><circle cx="621.15" cy="244.59" r="1.45"/><circle cx="621.74" cy="239.49" r="1.45"/><circle cx="622.34" cy="247.18" r="1.45"/><circle cx="622.94" cy="245.02" r="1.45"/><circle cx="623.53" cy="243.37" r="1.45"/><circle cx="624.13" cy="239.44" r="1.45"/><circle cx="624.73" cy="246.38" r="1.45"/><circle cx="625.32" cy="244.40" r="1.45"/><circle cx="625.92" cy="247.37" r="1.45"/><circle cx="626.52" cy="248.05" r="1.45"/><circle cx="627.11" cy="248.04" r="1.45"/><circle cx="627.71" cy="245.01" r="1.45"/><circle cx="628.31" cy="241.72" r="1.45"/><circle cx="628.90" cy="248.20" r="1.45"/><circle cx="629.50" cy="247.82" r="1.45"/><circle cx="630.10" cy="247.01" r="1.45"/><circle cx="630.69" cy="243.91" r="1.45"/><circle cx="631.29" cy="242.50" r="1.45"/><circle cx="631.89" cy="250.48" r="1.45"/><circle cx="632.48" cy="243.90" r="1.45"/><circle cx="633.08" cy="249.44" r="1.45"/><circle cx="633.68" cy="242.44" r="1.45"/><circle cx="634.27" cy="249.30" r="1.45"/><circle cx="634.87" cy="249.79" r="1.45"/><circle cx="635.47" cy="248.27" r="1.45"/><circle cx="636.06" cy="245.61" r="1.45"/><circle cx="636.66" cy="249.42" r="1.45"/><circle cx="637.26" cy="244.49" r="1.45"/><circle cx="637.85" cy="244.75" r="1.45"/><circle cx="638.45" cy="245.02" r="1.45"/><circle cx="639.05" cy="244.26" r="1.45"/><circle cx="639.65" cy="241.79" r="1.45"/><circle cx="640.24" cy="248.34" r="1.45"/><circle cx="640.84" cy="245.35" r="1.45"/><circle cx="641.44" cy="245.48" r="1.45"/><circle cx="642.03" cy="253.74" r="1.45"/><circle cx="642.63" cy="243.77" r="1.45"/><circle cx="643.23" cy="248.50" r="1.45"/><circle cx="643.82" cy="248.29" r="1.45"/><circle cx="644.42" cy="247.18" r="1.45"/><circle cx="645.02" cy="244.96" r="1.45"/><circle cx="645.61" cy="244.01" r="1.45"/><circle cx="646.21" cy="243.38" r="1.45"/><circle cx="646.81" cy="248.19" r="1.45"/><circle cx="647.40" cy="242.52" r="1.45"/><circle cx="648.00" cy="243.65" r="1.45"/></g>
<g fill="#70ad47"><circle cx="380.50" cy="259.70" r="1.45"/><circle cx="381.08" cy="258.25" r="1.45"/><circle cx="381.66" cy="255.02" r="1.45"/><circle cx="382.24" cy="256.47" r="1.45"/><circle cx="382.82" cy="255.44" r="1.45"/><circle cx="383.40" cy="257.75" r="1.45"/><circle cx="383.97" cy="253.71" r="1.45"/><circle cx="384.55" cy="249.47" r="1.45"/><circle cx="385.13" cy="256.39" r="1.45"/><circle cx="385.71" cy="264.43" r="1.45"/><circle cx="386.29" cy="251.41" r="1.45"/><circle cx="386.87" cy="260.40" r="1.45"/><circle cx="387.45" cy="263.57" r="1.45"/><circle cx="388.03" cy="267.43" r="1.45"/><circle cx="388.61" cy="256.50" r="1.45"/><circle cx="389.19" cy="253.88" r="1.45"/><circle cx="389.76" cy="254.25" r="1.45"/><circle cx="390.34" cy="259.66" r="1.45"/><circle cx="390.92" cy="252.51" r="1.45"/><circle cx="391.50" cy="258.47" r="1.45"/><circle cx="392.08" cy="260.48" r="1.45"/><circle cx="392.66" cy="257.90" r="1.45"/><circle cx="393.24" cy="257.33" r="1.45"/><circle cx="393.82" cy="257.97" r="1.45"/><circle cx="394.40" cy="256.60" r="1.45"/><circle cx="394.98" cy="266.72" r="1.45"/><circle cx="395.55" cy="252.04" r="1.45"/><circle cx="396.13" cy="260.39" r="1.45"/><circle cx="396.71" cy="255.62" r="1.45"/><circle cx="397.29" cy="261.29" r="1.45"/><circle cx="397.87" cy="257.53" r="1.45"/><circle cx="398.45" cy="258.85" r="1.45"/><circle cx="399.03" cy="264.34" r="1.45"/><circle cx="399.61" cy="256.67" r="1.45"/><circle cx="400.19" cy="255.69" r="1.45"/><circle cx="400.77" cy="262.52" r="1.45"/><circle cx="401.34" cy="266.36" r="1.45"/><circle cx="401.92" cy="260.69" r="1.45"/><circle cx="402.50" cy="261.45" r="1.45"/><circle cx="403.08" cy="257.73" r="1.45"/><circle cx="403.66" cy="258.23" r="1.45"/><circle cx="404.24" cy="251.87" r="1.45"/><circle cx="404.82" cy="255.63" r="1.45"/><circle cx="405.40" cy="259.17" r="1.45"/><circle cx="405.98" cy="257.53" r="1.45"/><circle cx="406.56" cy="268.32" r="1.45"/><circle cx="407.14" cy="261.70" r="1.45"/><circle cx="407.71" cy="261.77" r="1.45"/><circle cx="408.29" cy="258.60" r="1.45"/><circle cx="408.87" cy="256.92" r="1.45"/><circle cx="409.45" cy="257.33" r="1.45"/><circle cx="410.03" cy="254.51" r="1.45"/><circle cx="410.61" cy="260.86" r="1.45"/><circle cx="411.19" cy="256.97" r="1.45"/><circle cx="411.77" cy="258.68" r="1.45"/><circle cx="412.35" cy="258.11" r="1.45"/><circle cx="412.93" cy="256.91" r="1.45"/><circle cx="413.50" cy="259.26" r="1.45"/><circle cx="414.08" cy="257.34" r="1.45"/><circle cx="414.66" cy="258.30" r="1.45"/><circle cx="415.24" cy="254.17" r="1.45"/><circle cx="415.82" cy="258.60" r="1.45"/><circle cx="416.40" cy="256.98" r="1.45"/><circle cx="416.98" cy="248.03" r="1.45"/><circle cx="417.56" cy="255.73" r="1.45"/><circle cx="418.14" cy="256.17" r="1.45"/><circle cx="418.72" cy="253.96" r="1.45"/><circle cx="419.29" cy="262.10" r="1.45"/><circle cx="419.87" cy="255.40" r="1.45"/><circle cx="420.45" cy="255.24" r="1.45"/><circle cx="421.03" cy="256.45" r="1.45"/><circle cx="421.61" cy="254.37" r="1.45"/><circle cx="422.19" cy="255.10" r="1.45"/><circle cx="422.77" cy="253.52" r="1.45"/><circle cx="423.35" cy="260.67" r="1.45"/><circle cx="423.93" cy="256.48" r="1.45"/><circle cx="424.51" cy="260.29" r="1.45"/><circle cx="425.09" cy="253.33" r="1.45"/><circle cx="425.66" cy="257.64" r="1.45"/><circle cx="426.24" cy="263.23" r="1.45"/><circle cx="426.82" cy="257.74" r="1.45"/><circle cx="427.40" cy="262.07" r="1.45"/><circle cx="427.98" cy="254.34" r="1.45"/><circle cx="428.56" cy="259.48" r="1.45"/><circle cx="429.14" cy="266.69" r="1.45"/><circle cx="429.72" cy="259.68" r="1.45"/><circle cx="430.30" cy="254.18" r="1.45"/><circle cx="430.88" cy="256.88" r="1.45"/><circle cx="431.45" cy="260.63" r="1.45"/><circle cx="432.03" cy="255.64" r="1.45"/><circle cx="432.61" cy="255.92" r="1.45"/><circle cx="433.19" cy="252.44" r="1.45"/><circle cx="433.77" cy="254.65" r="1.45"/><circle cx="434.35" cy="256.74" r="1.45"/><circle cx="434.93" cy="261.23" r="1.45"/><circle cx="435.51" cy="257.06" r="1.45"/><circle cx="436.09" cy="256.99" r="1.45"/><circle cx="436.67" cy="258.11" r="1.45"/><circle cx="437.24" cy="256.53" r="1.45"/><circle cx="437.82" cy="262.78" r="1.45"/><circle cx="438.40" cy="255.95" r="1.45"/><circle cx="438.98" cy="258.13" r="1.45"/><circle cx="439.56" cy="256.78" r="1.45"/><circle cx="440.14" cy="258.54" r="1.45"/><circle cx="440.72" cy="259.33" r="1.45"/><circle cx="441.30" cy="257.17" r="1.45"/><circle cx="441.88" cy="255.12" r="1.45"/><circle cx="442.46" cy="259.41" r="1.45"/><circle cx="443.03" cy="256.90" r="1.45"/><circle cx="443.61" cy="261.14" r="1.45"/><circle cx="444.19" cy="256.54" r="1.45"/><circle cx="444.77" cy="258.09" r="1.45"/><circle cx="445.35" cy="263.14" r="1.45"/><circle cx="445.93" cy="253.65" r="1.45"/><circle cx="446.51" cy="261.62" r="1.45"/><circle cx="447.09" cy="257.85" r="1.45"/><circle cx="447.67" cy="263.26" r="1.45"/><circle cx="448.25" cy="264.89" r="1.45"/><circle cx="448.83" cy="255.61" r="1.45"/><circle cx="449.40" cy="263.60" r="1.45"/><circle cx="449.98" cy="266.22" r="1.45"/><circle cx="450.56" cy="259.00" r="1.45"/><circle cx="451.14" cy="264.18" r="1.45"/><circle cx="451.72" cy="258.96" r="1.45"/><circle cx="452.30" cy="251.07" r="1.45"/><circle cx="452.88" cy="259.69" r="1.45"/><circle cx="453.46" cy="256.78" r="1.45"/><circle cx="454.04" cy="255.99" r="1.45"/><circle cx="454.62" cy="257.21" r="1.45"/><circle cx="455.19" cy="258.63" r="1.45"/><circle cx="455.77" cy="252.32" r="1.45"/><circle cx="456.35" cy="258.48" r="1.45"/><circle cx="456.93" cy="256.79" r="1.45"/><circle cx="457.51" cy="257.73" r="1.45"/><circle cx="458.09" cy="263.13" r="1.45"/><circle cx="458.67" cy="256.93" r="1.45"/><circle cx="459.25" cy="257.95" r="1.45"/><circle cx="459.83" cy="255.66" r="1.45"/><circle cx="460.41" cy="255.49" r="1.45"/><circle cx="460.98" cy="252.10" r="1.45"/><circle cx="461.56" cy="265.52" r="1.45"/><circle cx="462.14" cy="260.32" r="1.45"/><circle cx="462.72" cy="260.00" r="1.45"/><circle cx="463.30" cy="261.51" r="1.45"/><circle cx="463.88" cy="256.57" r="1.45"/><circle cx="464.46" cy="258.47" r="1.45"/><circle cx="465.04" cy="257.63" r="1.45"/><circle cx="465.62" cy="264.47" r="1.45"/><circle cx="466.20" cy="261.87" r="1.45"/><circle cx="466.78" cy="258.42" r="1.45"/><circle cx="467.35" cy="259.90" r="1.45"/><circle cx="467.93" cy="260.52" r="1.45"/><circle cx="468.51" cy="258.62" r="1.45"/><circle cx="469.09" cy="259.24" r="1.45"/><circle cx="469.67" cy="262.27" r="1.45"/><circle cx="470.25" cy="251.73" r="1.45"/><circle cx="470.83" cy="260.78" r="1.45"/><circle cx="471.41" cy="255.65" r="1.45"/><circle cx="471.99" cy="255.86" r="1.45"/><circle cx="472.57" cy="254.43" r="1.45"/><circle cx="473.14" cy="260.38" r="1.45"/><circle cx="473.72" cy="262.02" r="1.45"/><circle cx="474.30" cy="256.47" r="1.45"/><circle cx="474.88" cy="257.16" r="1.45"/><circle cx="475.46" cy="267.27" r="1.45"/><circle cx="476.04" cy="268.28" r="1.45"/><circle cx="476.62" cy="260.27" r="1.45"/><circle cx="477.20" cy="259.67" r="1.45"/><circle cx="477.78" cy="259.20" r="1.45"/><circle cx="478.36" cy="256.57" r="1.45"/><circle cx="478.93" cy="261.91" r="1.45"/><circle cx="479.51" cy="248.01" r="1.45"/><circle cx="480.09" cy="254.68" r="1.45"/><circle cx="480.67" cy="253.15" r="1.45"/><circle cx="481.25" cy="257.12" r="1.45"/><circle cx="481.83" cy="266.18" r="1.45"/><circle cx="482.41" cy="257.25" r="1.45"/><circle cx="482.99" cy="260.29" r="1.45"/><circle cx="483.57" cy="256.47" r="1.45"/><circle cx="484.15" cy="258.61" r="1.45"/><circle cx="484.72" cy="255.59" r="1.45"/><circle cx="485.30" cy="261.56" r="1.45"/><circle cx="485.88" cy="259.57" r="1.45"/><circle cx="486.46" cy="258.15" r="1.45"/><circle cx="487.04" cy="261.07" r="1.45"/><circle cx="487.62" cy="259.93" r="1.45"/><circle cx="488.20" cy="255.80" r="1.45"/><circle cx="488.78" cy="250.73" r="1.45"/><circle cx="489.36" cy="258.99" r="1.45"/><circle cx="489.94" cy="254.99" r="1.45"/><circle cx="490.52" cy="262.55" r="1.45"/><circle cx="491.09" cy="259.93" r="1.45"/><circle cx="491.67" cy="256.90" r="1.45"/><circle cx="492.25" cy="255.94" r="1.45"/><circle cx="492.83" cy="262.11" r="1.45"/><circle cx="493.41" cy="255.85" r="1.45"/><circle cx="493.99" cy="257.61" r="1.45"/><circle cx="494.57" cy="253.11" r="1.45"/><circle cx="495.15" cy="254.56" r="1.45"/><circle cx="495.73" cy="256.06" r="1.45"/><circle cx="496.31" cy="259.69" r="1.45"/><circle cx="496.88" cy="257.16" r="1.45"/><circle cx="497.46" cy="261.47" r="1.45"/><circle cx="498.04" cy="261.35" r="1.45"/><circle cx="498.62" cy="265.27" r="1.45"/><circle cx="499.20" cy="263.18" r="1.45"/><circle cx="499.78" cy="263.06" r="1.45"/><circle cx="500.36" cy="258.56" r="1.45"/><circle cx="500.94" cy="257.78" r="1.45"/><circle cx="501.52" cy="263.34" r="1.45"/><circle cx="502.10" cy="258.55" r="1.45"/><circle cx="502.67" cy="256.62" r="1.45"/><circle cx="503.25" cy="254.61" r="1.45"/><circle cx="503.83" cy="258.54" r="1.45"/><circle cx="504.41" cy="257.33" r="1.45"/><circle cx="504.99" cy="259.62" r="1.45"/><circle cx="505.57" cy="254.62" r="1.45"/><circle cx="506.15" cy="264.19" r="1.45"/><circle cx="506.73" cy="257.26" r="1.45"/><circle cx="507.31" cy="267.11" r="1.45"/><circle cx="507.89" cy="251.59" r="1.45"/><circle cx="508.47" cy="254.62" r="1.45"/><circle cx="509.04" cy="266.29" r="1.45"/><circle cx="509.62" cy="260.21" r="1.45"/><circle cx="510.20" cy="263.61" r="1.45"/><circle cx="510.78" cy="264.97" r="1.45"/><circle cx="511.36" cy="259.76" r="1.45"/><circle cx="511.94" cy="261.58" r="1.45"/><circle cx="512.52" cy="254.19" r="1.45"/><circle cx="513.10" cy="260.20" r="1.45"/><circle cx="513.68" cy="262.45" r="1.45"/><circle cx="514.26" cy="258.50" r="1.45"/><circle cx="514.83" cy="256.63" r="1.45"/><circle cx="515.41" cy="255.04" r="1.45"/><circle cx="515.99" cy="256.26" r="1.45"/><circle cx="516.57" cy="263.94" r="1.45"/><circle cx="517.15" cy="261.36" r="1.45"/><circle cx="517.73" cy="258.91" r="1.45"/><circle cx="518.31" cy="261.43" r="1.45"/><circle cx="518.89" cy="255.34" r="1.45"/><circle cx="519.47" cy="259.51" r="1.45"/><circle cx="520.05" cy="258.49" r="1.45"/><circle cx="520.62" cy="259.64" r="1.45"/><circle cx="521.20" cy="258.04" r="1.45"/><circle cx="521.78" cy="263.98" r="1.45"/><circle cx="522.36" cy="250.14" r="1.45"/><circle cx="522.94" cy="260.39" r="1.45"/><circle cx="523.52" cy="261.01" r="1.45"/><circle cx="524.10" cy="265.06" r="1.45"/><circle cx="524.68" cy="258.55" r="1.45"/><circle cx="525.26" cy="263.52" r="1.45"/><circle cx="525.84" cy="256.96" r="1.45"/><circle cx="526.41" cy="253.61" r="1.45"/><circle cx="526.99" cy="255.87" r="1.45"/><circle cx="527.57" cy="259.92" r="1.45"/><circle cx="528.15" cy="253.33" r="1.45"/><circle cx="528.73" cy="258.94" r="1.45"/><circle cx="529.31" cy="258.40" r="1.45"/><circle cx="529.89" cy="257.98" r="1.45"/><circle cx="530.47" cy="260.05" r="1.45"/><circle cx="531.05" cy="256.61" r="1.45"/><circle cx="531.63" cy="262.95" r="1.45"/><circle cx="532.21" cy="265.03" r="1.45"/><circle cx="532.78" cy="253.62" r="1.45"/><circle cx="533.36" cy="261.05" r="1.45"/><circle cx="533.94" cy="259.59" r="1.45"/><circle cx="534.52" cy="256.94" r="1.45"/><circle cx="535.10" cy="260.03" r="1.45"/><circle cx="535.68" cy="262.76" r="1.45"/><circle cx="536.26" cy="258.98" r="1.45"/><circle cx="536.84" cy="261.86" r="1.45"/><circle cx="537.42" cy="256.12" r="1.45"/><circle cx="538.00" cy="259.93" r="1.45"/><circle cx="538.57" cy="259.22" r="1.45"/><circle cx="539.15" cy="255.27" r="1.45"/><circle cx="539.73" cy="264.16" r="1.45"/><circle cx="540.31" cy="263.95" r="1.45"/><circle cx="540.89" cy="255.42" r="1.45"/><circle cx="541.47" cy="253.37" r="1.45"/><circle cx="542.05" cy="257.88" r="1.45"/><circle cx="542.63" cy="260.94" r="1.45"/><circle cx="543.21" cy="253.51" r="1.45"/><circle cx="543.79" cy="256.23" r="1.45"/><circle cx="544.36" cy="254.29" r="1.45"/><circle cx="544.94" cy="265.19" r="1.45"/><circle cx="545.52" cy="258.72" r="1.45"/><circle cx="546.10" cy="262.18" r="1.45"/><circle cx="546.68" cy="262.44" r="1.45"/><circle cx="547.26" cy="256.00" r="1.45"/><circle cx="547.84" cy="255.43" r="1.45"/><circle cx="548.42" cy="260.03" r="1.45"/><circle cx="549.00" cy="259.19" r="1.45"/><circle cx="549.58" cy="252.94" r="1.45"/><circle cx="550.16" cy="255.71" r="1.45"/><circle cx="550.73" cy="258.69" r="1.45"/><circle cx="551.31" cy="256.27" r="1.45"/><circle cx="551.89" cy="257.80" r="1.45"/><circle cx="552.47" cy="263.07" r="1.45"/><circle cx="553.05" cy="260.20" r="1.45"/><circle cx="553.63" cy="257.14" r="1.45"/><circle cx="554.21" cy="255.84" r="1.45"/><circle cx="554.79" cy="262.83" r="1.45"/><circle cx="555.37" cy="261.32" r="1.45"/><circle cx="555.95" cy="260.48" r="1.45"/><circle cx="556.52" cy="264.04" r="1.45"/><circle cx="557.10" cy="254.00" r="1.45"/><circle cx="557.68" cy="256.47" r="1.45"/><circle cx="558.26" cy="253.19" r="1.45"/><circle cx="558.84" cy="266.62" r="1.45"/><circle cx="559.42" cy="261.34" r="1.45"/><circle cx="560.00" cy="251.25" r="1.45"/><circle cx="560.58" cy="263.63" r="1.45"/><circle cx="561.16" cy="265.23" r="1.45"/><circle cx="561.74" cy="257.37" r="1.45"/><circle cx="562.31" cy="252.19" r="1.45"/><circle cx="562.89" cy="255.77" r="1.45"/><circle cx="563.47" cy="261.91" r="1.45"/><circle cx="564.05" cy="256.10" r="1.45"/><circle cx="564.63" cy="256.65" r="1.45"/><circle cx="565.21" cy="257.21" r="1.45"/><circle cx="565.79" cy="256.73" r="1.45"/><circle cx="566.37" cy="255.05" r="1.45"/><circle cx="566.95" cy="253.76" r="1.45"/><circle cx="567.53" cy="252.97" r="1.45"/><circle cx="568.10" cy="254.14" r="1.45"/><circle cx="568.68" cy="258.79" r="1.45"/><circle cx="569.26" cy="265.33" r="1.45"/><circle cx="569.84" cy="256.12" r="1.45"/><circle cx="570.42" cy="263.99" r="1.45"/><circle cx="571.00" cy="249.47" r="1.45"/><circle cx="574.00" cy="262.66" r="1.45"/><circle cx="574.60" cy="265.31" r="1.45"/><circle cx="575.19" cy="265.32" r="1.45"/><circle cx="575.79" cy="256.72" r="1.45"/><circle cx="576.39" cy="257.07" r="1.45"/><circle cx="576.98" cy="255.73" r="1.45"/><circle cx="577.58" cy="257.12" r="1.45"/><circle cx="578.18" cy="261.21" r="1.45"/><circle cx="578.77" cy="255.10" r="1.45"/><circle cx="579.37" cy="260.89" r="1.45"/><circle cx="579.97" cy="264.00" r="1.45"/><circle cx="580.56" cy="254.74" r="1.45"/><circle cx="581.16" cy="256.17" r="1.45"/><circle cx="581.76" cy="261.81" r="1.45"/><circle cx="582.35" cy="259.19" r="1.45"/><circle cx="582.95" cy="254.27" r="1.45"/><circle cx="583.55" cy="254.62" r="1.45"/><circle cx="584.15" cy="262.34" r="1.45"/><circle cx="584.74" cy="253.96" r="1.45"/><circle cx="585.34" cy="268.18" r="1.45"/><circle cx="585.94" cy="257.88" r="1.45"/><circle cx="586.53" cy="256.74" r="1.45"/><circle cx="587.13" cy="258.68" r="1.45"/><circle cx="587.73" cy="257.78" r="1.45"/><circle cx="588.32" cy="264.40" r="1.45"/><circle cx="588.92" cy="258.72" r="1.45"/><circle cx="589.52" cy="256.30" r="1.45"/><circle cx="590.11" cy="261.79" r="1.45"/><circle cx="590.71" cy="257.69" r="1.45"/><circle cx="591.31" cy="258.86" r="1.45"/><circle cx="591.90" cy="266.88" r="1.45"/><circle cx="592.50" cy="260.55" r="1.45"/><circle cx="593.10" cy="255.98" r="1.45"/><circle cx="593.69" cy="264.20" r="1.45"/><circle cx="594.29" cy="258.12" r="1.45"/><circle cx="594.89" cy="256.93" r="1.45"/><circle cx="595.48" cy="263.13" r="1.45"/><circle cx="596.08" cy="259.17" r="1.45"/><circle cx="596.68" cy="254.77" r="1.45"/><circle cx="597.27" cy="255.44" r="1.45"/><circle cx="597.87" cy="262.02" r="1.45"/><circle cx="598.47" cy="254.29" r="1.45"/><circle cx="599.06" cy="256.90" r="1.45"/><circle cx="599.66" cy="257.72" r="1.45"/><circle cx="600.26" cy="252.40" r="1.45"/><circle cx="600.85" cy="255.39" r="1.45"/><circle cx="601.45" cy="256.78" r="1.45"/><circle cx="602.05" cy="254.50" r="1.45"/><circle cx="602.65" cy="255.64" r="1.45"/><circle cx="603.24" cy="253.31" r="1.45"/><circle cx="603.84" cy="258.64" r="1.45"/><circle cx="604.44" cy="265.04" r="1.45"/><circle cx="605.03" cy="252.20" r="1.45"/><circle cx="605.63" cy="255.10" r="1.45"/><circle cx="606.23" cy="256.17" r="1.45"/><circle cx="606.82" cy="258.02" r="1.45"/><circle cx="607.42" cy="258.53" r="1.45"/><circle cx="608.02" cy="257.80" r="1.45"/><circle cx="608.61" cy="261.84" r="1.45"/><circle cx="609.21" cy="255.21" r="1.45"/><circle cx="609.81" cy="257.86" r="1.45"/><circle cx="610.40" cy="261.87" r="1.45"/><circle cx="611.00" cy="257.17" r="1.45"/><circle cx="611.60" cy="259.45" r="1.45"/><circle cx="612.19" cy="258.30" r="1.45"/><circle cx="612.79" cy="256.09" r="1.45"/><circle cx="613.39" cy="248.01" r="1.45"/><circle cx="613.98" cy="262.30" r="1.45"/><circle cx="614.58" cy="256.61" r="1.45"/><circle cx="615.18" cy="255.45" r="1.45"/><circle cx="615.77" cy="256.55" r="1.45"/><circle cx="616.37" cy="252.45" r="1.45"/><circle cx="616.97" cy="259.84" r="1.45"/><circle cx="617.56" cy="259.45" r="1.45"/><circle cx="618.16" cy="258.23" r="1.45"/><circle cx="618.76" cy="263.46" r="1.45"/><circle cx="619.35" cy="253.93" r="1.45"/><circle cx="619.95" cy="262.97" r="1.45"/><circle cx="620.55" cy="256.08" r="1.45"/><circle cx="621.15" cy="253.57" r="1.45"/><circle cx="621.74" cy="261.40" r="1.45"/><circle cx="622.34" cy="258.86" r="1.45"/><circle cx="622.94" cy="258.96" r="1.45"/><circle cx="623.53" cy="251.55" r="1.45"/><circle cx="624.13" cy="257.17" r="1.45"/><circle cx="624.73" cy="264.97" r="1.45"/><circle cx="625.32" cy="254.04" r="1.45"/><circle cx="625.92" cy="254.19" r="1.45"/><circle cx="626.52" cy="265.88" r="1.45"/><circle cx="627.11" cy="268.32" r="1.45"/><circle cx="627.71" cy="248.10" r="1.45"/><circle cx="628.31" cy="257.84" r="1.45"/><circle cx="628.90" cy="266.39" r="1.45"/><circle cx="629.50" cy="254.10" r="1.45"/><circle cx="630.10" cy="252.71" r="1.45"/><circle cx="630.69" cy="267.39" r="1.45"/><circle cx="631.29" cy="253.26" r="1.45"/><circle cx="631.89" cy="255.44" r="1.45"/><circle cx="632.48" cy="258.27" r="1.45"/><circle cx="633.08" cy="260.90" r="1.45"/><circle cx="633.68" cy="256.69" r="1.45"/><circle cx="634.27" cy="261.32" r="1.45"/><circle cx="634.87" cy="257.56" r="1.45"/><circle cx="635.47" cy="259.17" r="1.45"/><circle cx="636.06" cy="259.90" r="1.45"/><circle cx="636.66" cy="256.07" r="1.45"/><circle cx="637.26" cy="254.39" r="1.45"/><circle cx="637.85" cy="254.75" r="1.45"/><circle cx="638.45" cy="256.45" r="1.45"/><circle cx="639.05" cy="251.67" r="1.45"/><circle cx="639.65" cy="263.05" r="1.45"/><circle cx="640.24" cy="257.92" r="1.45"/><circle cx="640.84" cy="257.45" r="1.45"/><circle cx="641.44" cy="253.47" r="1.45"/><circle cx="642.03" cy="266.93" r="1.45"/><circle cx="642.63" cy="259.88" r="1.45"/><circle cx="643.23" cy="259.40" r="1.45"/><circle cx="643.82" cy="257.43" r="1.45"/><circle cx="644.42" cy="249.42" r="1.45"/><circle cx="645.02" cy="257.26" r="1.45"/><circle cx="645.61" cy="258.54" r="1.45"/><circle cx="646.21" cy="256.52" r="1.45"/><circle cx="646.81" cy="254.37" r="1.45"/><circle cx="647.40" cy="258.85" r="1.45"/><circle cx="648.00" cy="251.66" r="1.45"/></g>
<g fill="#ed7d31"><circle cx="380.50" cy="272.94" r="1.45"/><circle cx="381.08" cy="323.73" r="1.45"/><circle cx="381.66" cy="314.20" r="1.45"/><circle cx="382.24" cy="277.83" r="1.45"/><circle cx="382.82" cy="326.31" r="1.45"/><circle cx="383.40" cy="267.69" r="1.45"/><circle cx="383.97" cy="295.72" r="1.45"/><circle cx="384.55" cy="315.10" r="1.45"/><circle cx="385.13" cy="288.79" r="1.45"/><circle cx="385.71" cy="278.53" r="1.45"/><circle cx="386.29" cy="274.64" r="1.45"/><circle cx="386.87" cy="314.54" r="1.45"/><circle cx="387.45" cy="287.28" r="1.45"/><circle cx="388.03" cy="312.74" r="1.45"/><circle cx="388.61" cy="277.14" r="1.45"/><circle cx="389.19" cy="274.58" r="1.45"/><circle cx="389.76" cy="266.81" r="1.45"/><circle cx="390.34" cy="273.62" r="1.45"/><circle cx="390.92" cy="293.48" r="1.45"/><circle cx="391.50" cy="321.84" r="1.45"/><circle cx="392.08" cy="262.95" r="1.45"/><circle cx="392.66" cy="332.89" r="1.45"/><circle cx="393.24" cy="264.07" r="1.45"/><circle cx="393.82" cy="265.18" r="1.45"/><circle cx="394.40" cy="333.87" r="1.45"/><circle cx="394.98" cy="316.48" r="1.45"/><circle cx="395.55" cy="291.85" r="1.45"/><circle cx="396.13" cy="280.83" r="1.45"/><circle cx="396.71" cy="287.35" r="1.45"/><circle cx="397.29" cy="274.87" r="1.45"/><circle cx="397.87" cy="271.61" r="1.45"/><circle cx="398.45" cy="273.93" r="1.45"/><circle cx="399.03" cy="268.28" r="1.45"/><circle cx="399.61" cy="276.99" r="1.45"/><circle cx="400.19" cy="314.00" r="1.45"/><circle cx="400.77" cy="330.13" r="1.45"/><circle cx="401.34" cy="336.70" r="1.45"/><circle cx="401.92" cy="267.22" r="1.45"/><circle cx="402.50" cy="268.58" r="1.45"/><circle cx="403.08" cy="329.77" r="1.45"/><circle cx="403.66" cy="273.88" r="1.45"/><circle cx="404.24" cy="307.99" r="1.45"/><circle cx="404.82" cy="306.97" r="1.45"/><circle cx="405.40" cy="313.13" r="1.45"/><circle cx="405.98" cy="274.24" r="1.45"/><circle cx="406.56" cy="318.13" r="1.45"/><circle cx="407.14" cy="278.51" r="1.45"/><circle cx="407.71" cy="343.30" r="1.45"/><circle cx="408.29" cy="271.98" r="1.45"/><circle cx="408.87" cy="277.78" r="1.45"/><circle cx="409.45" cy="307.10" r="1.45"/><circle cx="410.03" cy="274.53" r="1.45"/><circle cx="410.61" cy="286.78" r="1.45"/><circle cx="411.19" cy="285.95" r="1.45"/><circle cx="411.77" cy="307.94" r="1.45"/><circle cx="412.35" cy="323.37" r="1.45"/><circle cx="412.93" cy="276.87" r="1.45"/><circle cx="413.50" cy="313.11" r="1.45"/><circle cx="414.08" cy="294.32" r="1.45"/><circle cx="414.66" cy="282.93" r="1.45"/><circle cx="415.24" cy="278.82" r="1.45"/><circle cx="415.82" cy="259.54" r="1.45"/><circle cx="416.40" cy="268.35" r="1.45"/><circle cx="416.98" cy="303.59" r="1.45"/><circle cx="417.56" cy="309.18" r="1.45"/><circle cx="418.14" cy="272.62" r="1.45"/><circle cx="418.72" cy="341.70" r="1.45"/><circle cx="419.29" cy="305.47" r="1.45"/><circle cx="419.87" cy="278.56" r="1.45"/><circle cx="420.45" cy="289.52" r="1.45"/><circle cx="421.03" cy="345.23" r="1.45"/><circle cx="421.61" cy="282.20" r="1.45"/><circle cx="422.19" cy="305.66" r="1.45"/><circle cx="422.77" cy="284.30" r="1.45"/><circle cx="423.35" cy="289.96" r="1.45"/><circle cx="423.93" cy="262.35" r="1.45"/><circle cx="424.51" cy="349.94" r="1.45"/><circle cx="425.09" cy="295.93" r="1.45"/><circle cx="425.66" cy="320.61" r="1.45"/><circle cx="426.24" cy="306.67" r="1.45"/><circle cx="426.82" cy="321.53" r="1.45"/><circle cx="427.40" cy="318.97" r="1.45"/><circle cx="427.98" cy="287.92" r="1.45"/><circle cx="428.56" cy="289.48" r="1.45"/><circle cx="429.14" cy="280.18" r="1.45"/><circle cx="429.72" cy="274.53" r="1.45"/><circle cx="430.30" cy="353.12" r="1.45"/><circle cx="430.88" cy="268.25" r="1.45"/><circle cx="431.45" cy="268.84" r="1.45"/><circle cx="432.03" cy="268.48" r="1.45"/><circle cx="432.61" cy="326.22" r="1.45"/><circle cx="433.19" cy="278.71" r="1.45"/><circle cx="433.77" cy="266.67" r="1.45"/><circle cx="434.35" cy="276.61" r="1.45"/><circle cx="434.93" cy="300.44" r="1.45"/><circle cx="435.51" cy="319.93" r="1.45"/><circle cx="436.09" cy="265.99" r="1.45"/><circle cx="436.67" cy="269.20" r="1.45"/><circle cx="437.24" cy="260.54" r="1.45"/><circle cx="437.82" cy="284.03" r="1.45"/><circle cx="438.40" cy="280.66" r="1.45"/><circle cx="438.98" cy="289.15" r="1.45"/><circle cx="439.56" cy="276.26" r="1.45"/><circle cx="440.14" cy="291.22" r="1.45"/><circle cx="440.72" cy="293.22" r="1.45"/><circle cx="441.30" cy="294.92" r="1.45"/><circle cx="441.88" cy="328.60" r="1.45"/><circle cx="442.46" cy="280.31" r="1.45"/><circle cx="443.03" cy="340.04" r="1.45"/><circle cx="443.61" cy="311.95" r="1.45"/><circle cx="444.19" cy="334.90" r="1.45"/><circle cx="444.77" cy="317.09" r="1.45"/><circle cx="445.35" cy="295.16" r="1.45"/><circle cx="445.93" cy="310.39" r="1.45"/><circle cx="446.51" cy="275.51" r="1.45"/><circle cx="447.09" cy="285.06" r="1.45"/><circle cx="447.67" cy="274.83" r="1.45"/><circle cx="448.25" cy="279.97" r="1.45"/><circle cx="448.83" cy="292.25" r="1.45"/><circle cx="449.40" cy="307.44" r="1.45"/><circle cx="449.98" cy="281.45" r="1.45"/><circle cx="450.56" cy="327.37" r="1.45"/><circle cx="451.14" cy="282.06" r="1.45"/><circle cx="451.72" cy="312.06" r="1.45"/><circle cx="452.30" cy="279.51" r="1.45"/><circle cx="452.88" cy="337.53" r="1.45"/><circle cx="453.46" cy="362.23" r="1.45"/><circle cx="454.04" cy="314.75" r="1.45"/><circle cx="454.62" cy="290.11" r="1.45"/><circle cx="455.19" cy="263.94" r="1.45"/><circle cx="455.77" cy="302.63" r="1.45"/><circle cx="456.35" cy="267.52" r="1.45"/><circle cx="456.93" cy="316.61" r="1.45"/><circle cx="457.51" cy="295.85" r="1.45"/><circle cx="458.09" cy="334.65" r="1.45"/><circle cx="458.67" cy="278.75" r="1.45"/><circle cx="459.25" cy="273.53" r="1.45"/><circle cx="459.83" cy="292.93" r="1.45"/><circle cx="460.41" cy="352.95" r="1.45"/><circle cx="460.98" cy="319.65" r="1.45"/><circle cx="461.56" cy="304.80" r="1.45"/><circle cx="462.14" cy="271.93" r="1.45"/><circle cx="462.72" cy="313.08" r="1.45"/><circle cx="463.30" cy="298.95" r="1.45"/><circle cx="463.88" cy="329.73" r="1.45"/><circle cx="464.46" cy="280.72" r="1.45"/><circle cx="465.04" cy="309.20" r="1.45"/><circle cx="465.62" cy="331.84" r="1.45"/><circle cx="466.20" cy="342.59" r="1.45"/><circle cx="466.78" cy="272.64" r="1.45"/><circle cx="467.35" cy="267.94" r="1.45"/><circle cx="467.93" cy="317.13" r="1.45"/><circle cx="468.51" cy="342.57" r="1.45"/><circle cx="469.09" cy="282.01" r="1.45"/><circle cx="469.67" cy="339.87" r="1.45"/><circle cx="470.25" cy="298.24" r="1.45"/><circle cx="470.83" cy="283.24" r="1.45"/><circle cx="471.41" cy="285.06" r="1.45"/><circle cx="471.99" cy="315.03" r="1.45"/><circle cx="472.57" cy="279.53" r="1.45"/><circle cx="473.14" cy="300.62" r="1.45"/><circle cx="473.72" cy="275.77" r="1.45"/><circle cx="474.30" cy="346.01" r="1.45"/><circle cx="474.88" cy="280.63" r="1.45"/><circle cx="475.46" cy="316.50" r="1.45"/><circle cx="476.04" cy="350.27" r="1.45"/><circle cx="476.62" cy="328.99" r="1.45"/><circle cx="477.20" cy="361.70" r="1.45"/><circle cx="477.78" cy="261.39" r="1.45"/><circle cx="478.36" cy="301.39" r="1.45"/><circle cx="478.93" cy="284.97" r="1.45"/><circle cx="479.51" cy="279.08" r="1.45"/><circle cx="480.09" cy="282.63" r="1.45"/><circle cx="480.67" cy="282.07" r="1.45"/><circle cx="481.25" cy="284.11" r="1.45"/><circle cx="481.83" cy="292.14" r="1.45"/><circle cx="482.41" cy="294.12" r="1.45"/><circle cx="482.99" cy="291.85" r="1.45"/><circle cx="483.57" cy="292.24" r="1.45"/><circle cx="484.15" cy="280.22" r="1.45"/><circle cx="484.72" cy="281.59" r="1.45"/><circle cx="485.30" cy="354.15" r="1.45"/><circle cx="485.88" cy="317.24" r="1.45"/><circle cx="486.46" cy="364.92" r="1.45"/><circle cx="487.04" cy="348.63" r="1.45"/><circle cx="487.62" cy="304.78" r="1.45"/><circle cx="488.20" cy="326.35" r="1.45"/><circle cx="488.78" cy="293.43" r="1.45"/><circle cx="489.36" cy="283.64" r="1.45"/><circle cx="489.94" cy="288.05" r="1.45"/><circle cx="490.52" cy="301.26" r="1.45"/><circle cx="491.09" cy="287.51" r="1.45"/><circle cx="491.67" cy="290.82" r="1.45"/><circle cx="492.25" cy="289.34" r="1.45"/><circle cx="492.83" cy="278.60" r="1.45"/><circle cx="493.41" cy="283.74" r="1.45"/><circle cx="493.99" cy="272.19" r="1.45"/><circle cx="494.57" cy="320.52" r="1.45"/><circle cx="495.15" cy="344.50" r="1.45"/><circle cx="495.73" cy="265.27" r="1.45"/><circle cx="496.31" cy="280.98" r="1.45"/><circle cx="496.88" cy="321.45" r="1.45"/><circle cx="497.46" cy="360.87" r="1.45"/><circle cx="498.04" cy="282.02" r="1.45"/><circle cx="498.62" cy="343.05" r="1.45"/><circle cx="499.20" cy="291.79" r="1.45"/><circle cx="499.78" cy="300.77" r="1.45"/><circle cx="500.36" cy="278.21" r="1.45"/><circle cx="500.94" cy="283.19" r="1.45"/><circle cx="501.52" cy="329.85" r="1.45"/><circle cx="502.10" cy="291.15" r="1.45"/><circle cx="502.67" cy="295.65" r="1.45"/><circle cx="503.25" cy="338.41" r="1.45"/><circle cx="503.83" cy="311.82" r="1.45"/><circle cx="504.41" cy="334.48" r="1.45"/><circle cx="504.99" cy="271.89" r="1.45"/><circle cx="505.57" cy="295.37" r="1.45"/><circle cx="506.15" cy="307.10" r="1.45"/><circle cx="506.73" cy="297.27" r="1.45"/><circle cx="507.31" cy="282.38" r="1.45"/><circle cx="507.89" cy="280.87" r="1.45"/><circle cx="508.47" cy="279.17" r="1.45"/><circle cx="509.04" cy="288.58" r="1.45"/><circle cx="509.62" cy="291.66" r="1.45"/><circle cx="510.20" cy="292.52" r="1.45"/><circle cx="510.78" cy="265.03" r="1.45"/><circle cx="511.36" cy="298.37" r="1.45"/><circle cx="511.94" cy="267.03" r="1.45"/><circle cx="512.52" cy="282.08" r="1.45"/><circle cx="513.10" cy="272.03" r="1.45"/><circle cx="513.68" cy="280.38" r="1.45"/><circle cx="514.26" cy="338.18" r="1.45"/><circle cx="514.83" cy="283.66" r="1.45"/><circle cx="515.41" cy="288.30" r="1.45"/><circle cx="515.99" cy="287.57" r="1.45"/><circle cx="516.57" cy="283.08" r="1.45"/><circle cx="517.15" cy="304.22" r="1.45"/><circle cx="517.73" cy="325.47" r="1.45"/><circle cx="518.31" cy="293.37" r="1.45"/><circle cx="518.89" cy="297.06" r="1.45"/><circle cx="519.47" cy="279.50" r="1.45"/><circle cx="520.05" cy="306.55" r="1.45"/><circle cx="520.62" cy="294.86" r="1.45"/><circle cx="521.20" cy="301.68" r="1.45"/><circle cx="521.78" cy="300.91" r="1.45"/><circle cx="522.36" cy="281.50" r="1.45"/><circle cx="522.94" cy="285.94" r="1.45"/><circle cx="523.52" cy="307.02" r="1.45"/><circle cx="524.10" cy="292.11" r="1.45"/><circle cx="524.68" cy="337.06" r="1.45"/><circle cx="525.26" cy="292.20" r="1.45"/><circle cx="525.84" cy="285.39" r="1.45"/><circle cx="526.41" cy="367.20" r="1.45"/><circle cx="526.99" cy="327.19" r="1.45"/><circle cx="527.57" cy="316.68" r="1.45"/><circle cx="528.15" cy="291.89" r="1.45"/><circle cx="528.73" cy="290.37" r="1.45"/><circle cx="529.31" cy="332.21" r="1.45"/><circle cx="529.89" cy="282.54" r="1.45"/><circle cx="530.47" cy="364.54" r="1.45"/><circle cx="531.05" cy="313.31" r="1.45"/><circle cx="531.63" cy="325.12" r="1.45"/><circle cx="532.21" cy="341.98" r="1.45"/><circle cx="532.78" cy="285.54" r="1.45"/><circle cx="533.36" cy="278.93" r="1.45"/><circle cx="533.94" cy="291.57" r="1.45"/><circle cx="534.52" cy="353.02" r="1.45"/><circle cx="535.10" cy="282.77" r="1.45"/><circle cx="535.68" cy="270.90" r="1.45"/><circle cx="536.26" cy="316.39" r="1.45"/><circle cx="536.84" cy="300.25" r="1.45"/><circle cx="537.42" cy="325.31" r="1.45"/><circle cx="538.00" cy="322.13" r="1.45"/><circle cx="538.57" cy="295.93" r="1.45"/><circle cx="539.15" cy="298.88" r="1.45"/><circle cx="539.73" cy="269.52" r="1.45"/><circle cx="540.31" cy="289.87" r="1.45"/><circle cx="540.89" cy="276.92" r="1.45"/><circle cx="541.47" cy="271.84" r="1.45"/><circle cx="542.05" cy="289.49" r="1.45"/><circle cx="542.63" cy="283.73" r="1.45"/><circle cx="543.21" cy="287.49" r="1.45"/><circle cx="543.79" cy="332.25" r="1.45"/><circle cx="544.36" cy="282.02" r="1.45"/><circle cx="544.94" cy="273.24" r="1.45"/><circle cx="545.52" cy="327.21" r="1.45"/><circle cx="546.10" cy="322.79" r="1.45"/><circle cx="546.68" cy="295.81" r="1.45"/><circle cx="547.26" cy="283.49" r="1.45"/><circle cx="547.84" cy="320.94" r="1.45"/><circle cx="548.42" cy="280.96" r="1.45"/><circle cx="549.00" cy="325.24" r="1.45"/><circle cx="549.58" cy="331.08" r="1.45"/><circle cx="550.16" cy="361.74" r="1.45"/><circle cx="550.73" cy="347.83" r="1.45"/><circle cx="551.31" cy="281.01" r="1.45"/><circle cx="551.89" cy="289.89" r="1.45"/><circle cx="552.47" cy="278.95" r="1.45"/><circle cx="553.05" cy="289.20" r="1.45"/><circle cx="553.63" cy="305.94" r="1.45"/><circle cx="554.21" cy="281.41" r="1.45"/><circle cx="554.79" cy="357.86" r="1.45"/><circle cx="555.37" cy="295.95" r="1.45"/><circle cx="555.95" cy="315.17" r="1.45"/><circle cx="556.52" cy="322.53" r="1.45"/><circle cx="557.10" cy="297.30" r="1.45"/><circle cx="557.68" cy="295.58" r="1.45"/><circle cx="558.26" cy="293.23" r="1.45"/><circle cx="558.84" cy="289.01" r="1.45"/><circle cx="559.42" cy="312.72" r="1.45"/><circle cx="560.00" cy="334.48" r="1.45"/><circle cx="560.58" cy="275.15" r="1.45"/><circle cx="561.16" cy="306.08" r="1.45"/><circle cx="561.74" cy="307.73" r="1.45"/><circle cx="562.31" cy="360.80" r="1.45"/><circle cx="562.89" cy="324.16" r="1.45"/><circle cx="563.47" cy="286.23" r="1.45"/><circle cx="564.05" cy="305.25" r="1.45"/><circle cx="564.63" cy="290.84" r="1.45"/><circle cx="565.21" cy="299.08" r="1.45"/><circle cx="565.79" cy="318.17" r="1.45"/><circle cx="566.37" cy="343.77" r="1.45"/><circle cx="566.95" cy="338.69" r="1.45"/><circle cx="567.53" cy="297.37" r="1.45"/><circle cx="568.10" cy="301.56" r="1.45"/><circle cx="568.68" cy="298.75" r="1.45"/><circle cx="569.26" cy="296.54" r="1.45"/><circle cx="569.84" cy="293.14" r="1.45"/><circle cx="570.42" cy="302.93" r="1.45"/><circle cx="571.00" cy="289.53" r="1.45"/><circle cx="574.00" cy="276.38" r="1.45"/><circle cx="574.60" cy="288.60" r="1.45"/><circle cx="575.19" cy="281.99" r="1.45"/><circle cx="575.79" cy="276.43" r="1.45"/><circle cx="576.39" cy="286.60" r="1.45"/><circle cx="576.98" cy="297.64" r="1.45"/><circle cx="577.58" cy="311.29" r="1.45"/><circle cx="578.18" cy="271.40" r="1.45"/><circle cx="578.77" cy="297.82" r="1.45"/><circle cx="579.37" cy="298.33" r="1.45"/><circle cx="579.97" cy="294.11" r="1.45"/><circle cx="580.56" cy="281.56" r="1.45"/><circle cx="581.16" cy="281.17" r="1.45"/><circle cx="581.76" cy="310.10" r="1.45"/><circle cx="582.35" cy="299.22" r="1.45"/><circle cx="582.95" cy="277.30" r="1.45"/><circle cx="583.55" cy="309.85" r="1.45"/><circle cx="584.15" cy="298.75" r="1.45"/><circle cx="584.74" cy="315.17" r="1.45"/><circle cx="585.34" cy="326.75" r="1.45"/><circle cx="585.94" cy="324.33" r="1.45"/><circle cx="586.53" cy="298.50" r="1.45"/><circle cx="587.13" cy="296.29" r="1.45"/><circle cx="587.73" cy="349.37" r="1.45"/><circle cx="588.32" cy="307.65" r="1.45"/><circle cx="588.92" cy="307.55" r="1.45"/><circle cx="589.52" cy="332.00" r="1.45"/><circle cx="590.11" cy="305.80" r="1.45"/><circle cx="590.71" cy="319.28" r="1.45"/><circle cx="591.31" cy="281.08" r="1.45"/><circle cx="591.90" cy="323.96" r="1.45"/><circle cx="592.50" cy="287.82" r="1.45"/><circle cx="593.10" cy="328.53" r="1.45"/><circle cx="593.69" cy="326.36" r="1.45"/><circle cx="594.29" cy="282.29" r="1.45"/><circle cx="594.89" cy="322.32" r="1.45"/><circle cx="595.48" cy="316.95" r="1.45"/><circle cx="596.08" cy="338.38" r="1.45"/><circle cx="596.68" cy="307.45" r="1.45"/><circle cx="597.27" cy="285.44" r="1.45"/><circle cx="597.87" cy="316.46" r="1.45"/><circle cx="598.47" cy="316.71" r="1.45"/><circle cx="599.06" cy="312.30" r="1.45"/><circle cx="599.66" cy="326.61" r="1.45"/><circle cx="600.26" cy="336.50" r="1.45"/><circle cx="600.85" cy="313.08" r="1.45"/><circle cx="601.45" cy="320.27" r="1.45"/><circle cx="602.05" cy="346.67" r="1.45"/><circle cx="602.65" cy="359.28" r="1.45"/><circle cx="603.24" cy="307.45" r="1.45"/><circle cx="603.84" cy="339.49" r="1.45"/><circle cx="604.44" cy="308.81" r="1.45"/><circle cx="605.03" cy="301.27" r="1.45"/><circle cx="605.63" cy="319.22" r="1.45"/><circle cx="606.23" cy="329.37" r="1.45"/><circle cx="606.82" cy="365.09" r="1.45"/><circle cx="607.42" cy="291.87" r="1.45"/><circle cx="608.02" cy="303.97" r="1.45"/><circle cx="608.61" cy="334.43" r="1.45"/><circle cx="609.21" cy="340.49" r="1.45"/><circle cx="609.81" cy="312.81" r="1.45"/><circle cx="610.40" cy="358.50" r="1.45"/><circle cx="611.00" cy="309.90" r="1.45"/><circle cx="611.60" cy="306.27" r="1.45"/><circle cx="612.19" cy="345.75" r="1.45"/><circle cx="612.79" cy="343.80" r="1.45"/><circle cx="613.39" cy="292.42" r="1.45"/><circle cx="613.98" cy="334.29" r="1.45"/><circle cx="614.58" cy="322.85" r="1.45"/><circle cx="615.18" cy="332.64" r="1.45"/><circle cx="615.77" cy="364.22" r="1.45"/><circle cx="616.37" cy="309.12" r="1.45"/><circle cx="616.97" cy="298.46" r="1.45"/><circle cx="617.56" cy="339.13" r="1.45"/><circle cx="618.16" cy="345.30" r="1.45"/><circle cx="618.76" cy="301.91" r="1.45"/><circle cx="619.35" cy="357.48" r="1.45"/><circle cx="619.95" cy="336.24" r="1.45"/><circle cx="620.55" cy="355.63" r="1.45"/><circle cx="621.15" cy="360.30" r="1.45"/><circle cx="621.74" cy="343.38" r="1.45"/><circle cx="622.34" cy="364.48" r="1.45"/><circle cx="622.94" cy="360.73" r="1.45"/><circle cx="623.53" cy="332.72" r="1.45"/><circle cx="624.13" cy="339.86" r="1.45"/><circle cx="624.73" cy="337.12" r="1.45"/><circle cx="625.32" cy="319.50" r="1.45"/><circle cx="625.92" cy="340.06" r="1.45"/><circle cx="626.52" cy="341.93" r="1.45"/><circle cx="627.11" cy="336.92" r="1.45"/><circle cx="627.71" cy="321.68" r="1.45"/><circle cx="628.31" cy="297.88" r="1.45"/><circle cx="628.90" cy="341.18" r="1.45"/><circle cx="629.50" cy="323.45" r="1.45"/><circle cx="630.10" cy="334.23" r="1.45"/><circle cx="630.69" cy="352.92" r="1.45"/><circle cx="631.29" cy="352.59" r="1.45"/><circle cx="631.89" cy="362.17" r="1.45"/><circle cx="632.48" cy="324.61" r="1.45"/><circle cx="633.08" cy="355.02" r="1.45"/><circle cx="633.68" cy="349.50" r="1.45"/><circle cx="634.27" cy="330.35" r="1.45"/><circle cx="634.87" cy="343.84" r="1.45"/><circle cx="635.47" cy="343.95" r="1.45"/><circle cx="636.06" cy="336.90" r="1.45"/><circle cx="636.66" cy="337.94" r="1.45"/><circle cx="637.26" cy="358.37" r="1.45"/><circle cx="637.85" cy="316.77" r="1.45"/><circle cx="638.45" cy="330.37" r="1.45"/><circle cx="639.05" cy="353.52" r="1.45"/><circle cx="639.65" cy="347.76" r="1.45"/><circle cx="640.24" cy="332.68" r="1.45"/><circle cx="640.84" cy="363.56" r="1.45"/><circle cx="641.44" cy="364.83" r="1.45"/><circle cx="642.03" cy="332.96" r="1.45"/><circle cx="642.63" cy="335.00" r="1.45"/><circle cx="643.23" cy="352.12" r="1.45"/><circle cx="643.82" cy="341.01" r="1.45"/><circle cx="644.42" cy="349.97" r="1.45"/><circle cx="645.02" cy="361.05" r="1.45"/><circle cx="645.61" cy="363.71" r="1.45"/><circle cx="646.21" cy="341.57" r="1.45"/><circle cx="646.81" cy="342.50" r="1.45"/><circle cx="647.40" cy="366.17" r="1.45"/><circle cx="648.00" cy="349.73" r="1.45"/></g>
<line x1="379.00" y1="290.97" x2="572.00" y2="308.15" stroke="#843c0c" stroke-width="1.9" stroke-dasharray="1.9,1.5"/>
<line x1="573.00" y1="294.09" x2="649.00" y2="358.13" stroke="#843c0c" stroke-width="1.9" stroke-dasharray="1.9,1.5"/>
<rect x="378.5" y="222.5" width="271.1" height="155.8" fill="none" stroke="#5a5a5a" stroke-width="1.3"/>
<text x="475.60" y="376.60" font-size="11.5" text-anchor="middle" stroke="#843c0c" stroke-width="0.35" textLength="43.4" lengthAdjust="spacingAndGlyphs"><tspan font-weight="normal" font-style="normal" fill="#843c0c">r²</tspan><tspan font-weight="normal" font-style="normal" fill="#843c0c">=0.0182</tspan></text>
<text x="612.30" y="376.60" font-size="11.5" text-anchor="middle" stroke="#843c0c" stroke-width="0.35" textLength="43.7" lengthAdjust="spacingAndGlyphs"><tspan font-weight="normal" font-style="normal" fill="#843c0c">r²</tspan><tspan font-weight="normal" font-style="normal" fill="#843c0c">=0.3648</tspan></text>
<line x1="380.00" y1="383.20" x2="570.80" y2="383.20" stroke="#111" stroke-width="2"/>
<line x1="573.20" y1="383.20" x2="648.80" y2="383.20" stroke="#c8201e" stroke-width="2"/>
<text x="481.80" y="400.40" font-size="13.6" text-anchor="middle" textLength="54" lengthAdjust="spacingAndGlyphs"><tspan font-weight="bold" font-style="italic" fill="#111">NPM1</tspan><tspan font-weight="bold" font-style="italic" fill="#999999">wt</tspan></text>
<text x="613.20" y="400.40" font-size="13.6" text-anchor="middle" textLength="42" lengthAdjust="spacingAndGlyphs"><tspan font-weight="bold" font-style="italic" fill="#111">NPM1</tspan><tspan font-weight="bold" font-style="italic" fill="#c00000">c</tspan></text>
<line x1="572.50" y1="128.30" x2="572.50" y2="404.00" stroke="#222" stroke-width="1" stroke-dasharray="3,2"/>
<g fill="#5b9bd5"><circle cx="657.90" cy="226.50" r="3.1"/></g>
<text x="666.00" y="230.60" font-size="12.8" font-weight="bold" font-style="italic" fill="#1a1a1a" text-anchor="start" textLength="28.5" lengthAdjust="spacingAndGlyphs">AKT1</text>
<g fill="#70ad47"><circle cx="657.90" cy="247.60" r="3.1"/></g>
<text x="666.00" y="251.70" font-size="12.8" font-weight="bold" font-style="italic" fill="#1a1a1a" text-anchor="start" textLength="28.5" lengthAdjust="spacingAndGlyphs">AKT2</text>
<g fill="#ed7d31"><circle cx="657.90" cy="268.70" r="3.1"/></g>
<text x="666.00" y="272.80" font-size="12.8" font-weight="bold" font-style="italic" fill="#1a1a1a" text-anchor="start" textLength="28.5" lengthAdjust="spacingAndGlyphs">AKT3</text>
<text x="0.00" y="0.00" font-size="12.5" text-anchor="middle" textLength="100.6" lengthAdjust="spacingAndGlyphs" transform="translate(329.2,167) rotate(-90)"><tspan font-weight="bold" font-style="italic" fill="#7f7f7f">NPM1</tspan><tspan font-weight="bold" font-style="normal" fill="#7f7f7f"> Expression</tspan></text>
<text x="0.00" y="0.00" font-size="12" font-weight="normal" font-style="normal" fill="#a6a6a6" text-anchor="middle" textLength="70.5" lengthAdjust="spacingAndGlyphs" transform="translate(346.6,168.2) rotate(-90)">(log2 RPKM)</text>
<text x="0.00" y="0.00" font-size="12.5" font-weight="bold" font-style="normal" fill="#111" text-anchor="middle" textLength="61.7" lengthAdjust="spacingAndGlyphs" transform="translate(329.2,302.3) rotate(-90)">Expression</text>
<text x="0.00" y="0.00" font-size="12" font-weight="normal" font-style="normal" fill="#404040" text-anchor="middle" textLength="69.8" lengthAdjust="spacingAndGlyphs" transform="translate(345.7,301.8) rotate(-90)">(log2 RPKM)</text>
<text x="515.20" y="445.80" font-size="12.5" font-weight="bold" font-style="normal" fill="#000" text-anchor="middle" textLength="57.3" lengthAdjust="spacingAndGlyphs">Beat-AML</text>
<line x1="409.54" y1="455.90" x2="409.54" y2="544.60" stroke="#d9d9d9" stroke-width="1"/>
<line x1="439.59" y1="455.90" x2="439.59" y2="544.60" stroke="#d9d9d9" stroke-width="1"/>
<line x1="469.63" y1="455.90" x2="469.63" y2="544.60" stroke="#d9d9d9" stroke-width="1"/>
<line x1="499.68" y1="455.90" x2="499.68" y2="544.60" stroke="#d9d9d9" stroke-width="1"/>
<line x1="529.72" y1="455.90" x2="529.72" y2="544.60" stroke="#d9d9d9" stroke-width="1"/>
<line x1="559.77" y1="455.90" x2="559.77" y2="544.60" stroke="#d9d9d9" stroke-width="1"/>
<line x1="589.81" y1="455.90" x2="589.81" y2="544.60" stroke="#d9d9d9" stroke-width="1"/>
<line x1="619.86" y1="455.90" x2="619.86" y2="544.60" stroke="#d9d9d9" stroke-width="1"/>
<line x1="379.50" y1="486.50" x2="649.90" y2="486.50" stroke="#d9d9d9" stroke-width="1"/>
<line x1="379.50" y1="515.40" x2="649.90" y2="515.40" stroke="#d9d9d9" stroke-width="1"/>
<text x="373.60" y="460.50" font-size="13" font-weight="bold" font-style="normal" fill="#7f7f7f" text-anchor="end">2.0</text>
<text x="373.60" y="490.50" font-size="13" font-weight="bold" font-style="normal" fill="#7f7f7f" text-anchor="end">1.5</text>
<text x="373.60" y="519.90" font-size="13" font-weight="bold" font-style="normal" fill="#7f7f7f" text-anchor="end">1.0</text>
<text x="373.60" y="549.20" font-size="13" font-weight="bold" font-style="normal" fill="#7f7f7f" text-anchor="end">-0.5</text>
<polyline points="380.50,542.00 382.90,538.00 396.80,530.10 409.60,526.10 440.30,519.20 469.90,512.90 493.60,507.30 501.60,503.00 515.00,499.80 530.50,494.00 551.00,486.90 559.20,481.70 565.30,475.60 571.40,469.50" fill="none" stroke="#a5a5a5" stroke-width="3.2" stroke-linejoin="round" stroke-linecap="round"/>
<polyline points="572.80,536.00 577.60,533.00 591.90,526.80 604.20,520.70 612.40,515.50 616.50,509.40 619.60,502.20 624.70,494.00 632.90,486.90 637.00,478.70 641.10,470.50 646.80,462.30" fill="none" stroke="#a5a5a5" stroke-width="3.2" stroke-linejoin="round" stroke-linecap="round"/>
<g fill="#a5a5a5"><circle cx="570.80" cy="464.30" r="1.3"/></g>
<rect x="379.5" y="455.9" width="270.4" height="88.7" fill="none" stroke="#5a5a5a" stroke-width="1.3"/>
<text x="378.60" y="554.50" font-size="10.5" font-weight="bold" font-style="italic" fill="#262626" text-anchor="start" textLength="22.7" lengthAdjust="spacingAndGlyphs">PRIM</text>
<line x1="404.70" y1="551.80" x2="540.00" y2="551.80" stroke="#262626" stroke-width="1"/>
<path d="M537.2,547.2 L547,551.6 L537.2,556.1 Z" fill="#111"/>
<text x="548.90" y="554.50" font-size="10.5" font-weight="bold" font-style="italic" fill="#262626" text-anchor="start" textLength="21" lengthAdjust="spacingAndGlyphs">MAT</text>
<text x="574.10" y="554.50" font-size="10.5" font-weight="bold" font-style="italic" fill="#262626" text-anchor="start" textLength="22.9" lengthAdjust="spacingAndGlyphs">PRIM</text>
<line x1="598.50" y1="551.80" x2="620.00" y2="551.80" stroke="#262626" stroke-width="1"/>
<path d="M618.5,547.2 L628.4,551.6 L618.5,556.1 Z" fill="#111"/>
<text x="629.80" y="554.50" font-size="10.5" font-weight="bold" font-style="italic" fill="#262626" text-anchor="start" textLength="21.4" lengthAdjust="spacingAndGlyphs">MAT</text>
<g fill="#a5a5a5"><circle cx="657.50" cy="541.20" r="3.1"/></g>
<text x="665.50" y="545.60" font-size="13.2" font-weight="bold" font-style="normal" fill="#1a1a1a" text-anchor="start" textLength="40.4" lengthAdjust="spacingAndGlyphs">PC2-34</text>
<g fill="#ed7d31"><circle cx="657.50" cy="567.80" r="3.1"/></g>
<text x="665.50" y="572.20" font-size="12.8" font-weight="bold" font-style="italic" fill="#1a1a1a" text-anchor="start" textLength="28.5" lengthAdjust="spacingAndGlyphs">AKT3</text>
<text x="0.00" y="0.00" font-size="13" font-weight="bold" font-style="normal" fill="#7f7f7f" text-anchor="middle" textLength="40" lengthAdjust="spacingAndGlyphs" transform="translate(329.4,500.0) rotate(-90)">PC2-34</text>
<text x="0.00" y="0.00" font-size="12" font-weight="normal" font-style="normal" fill="#a6a6a6" text-anchor="middle" transform="translate(347.0,500.5) rotate(-90)">score</text>
<line x1="409.54" y1="565.30" x2="409.54" y2="715.40" stroke="#d9d9d9" stroke-width="1"/>
<line x1="439.59" y1="565.30" x2="439.59" y2="715.40" stroke="#d9d9d9" stroke-width="1"/>
<line x1="469.63" y1="565.30" x2="469.63" y2="715.40" stroke="#d9d9d9" stroke-width="1"/>
<line x1="499.68" y1="565.30" x2="499.68" y2="715.40" stroke="#d9d9d9" stroke-width="1"/>
<line x1="529.72" y1="565.30" x2="529.72" y2="715.40" stroke="#d9d9d9" stroke-width="1"/>
<line x1="559.77" y1="565.30" x2="559.77" y2="715.40" stroke="#d9d9d9" stroke-width="1"/>
<line x1="589.81" y1="565.30" x2="589.81" y2="715.40" stroke="#d9d9d9" stroke-width="1"/>
<line x1="619.86" y1="565.30" x2="619.86" y2="715.40" stroke="#d9d9d9" stroke-width="1"/>
<line x1="379.50" y1="700.63" x2="649.90" y2="700.63" stroke="#d9d9d9" stroke-width="1"/>
<line x1="379.50" y1="685.60" x2="649.90" y2="685.60" stroke="#d9d9d9" stroke-width="1"/>
<line x1="379.50" y1="670.57" x2="649.90" y2="670.57" stroke="#d9d9d9" stroke-width="1"/>
<line x1="379.50" y1="655.54" x2="649.90" y2="655.54" stroke="#d9d9d9" stroke-width="1"/>
<line x1="379.50" y1="640.51" x2="649.90" y2="640.51" stroke="#d9d9d9" stroke-width="1"/>
<line x1="379.50" y1="625.48" x2="649.90" y2="625.48" stroke="#d9d9d9" stroke-width="1"/>
<line x1="379.50" y1="610.45" x2="649.90" y2="610.45" stroke="#d9d9d9" stroke-width="1"/>
<line x1="379.50" y1="595.42" x2="649.90" y2="595.42" stroke="#d9d9d9" stroke-width="1"/>
<line x1="379.50" y1="580.39" x2="649.90" y2="580.39" stroke="#d9d9d9" stroke-width="1"/>
<text x="373.80" y="571.06" font-size="13.4" font-weight="bold" font-style="normal" fill="#111" text-anchor="end">8</text>
<text x="373.80" y="601.12" font-size="13.4" font-weight="bold" font-style="normal" fill="#111" text-anchor="end">6</text>
<text x="373.80" y="631.18" font-size="13.4" font-weight="bold" font-style="normal" fill="#111" text-anchor="end">4</text>
<text x="373.80" y="661.24" font-size="13.4" font-weight="bold" font-style="normal" fill="#111" text-anchor="end">2</text>
<text x="373.80" y="691.30" font-size="13.4" font-weight="bold" font-style="normal" fill="#111" text-anchor="end">0</text>
<text x="373.80" y="721.36" font-size="13.4" font-weight="bold" font-style="normal" fill="#111" text-anchor="end">-2</text>
<g fill="#ed7d31"><circle cx="380.50" cy="626.60" r="1.45"/><circle cx="381.24" cy="653.46" r="1.45"/><circle cx="381.97" cy="648.95" r="1.45"/><circle cx="382.71" cy="622.07" r="1.45"/><circle cx="383.45" cy="666.97" r="1.45"/><circle cx="384.19" cy="623.97" r="1.45"/><circle cx="384.92" cy="696.64" r="1.45"/><circle cx="385.66" cy="615.32" r="1.45"/><circle cx="386.40" cy="609.74" r="1.45"/><circle cx="387.14" cy="644.72" r="1.45"/><circle cx="387.87" cy="658.51" r="1.45"/><circle cx="388.61" cy="683.75" r="1.45"/><circle cx="389.35" cy="626.10" r="1.45"/><circle cx="390.09" cy="629.10" r="1.45"/><circle cx="390.82" cy="612.54" r="1.45"/><circle cx="391.56" cy="615.80" r="1.45"/><circle cx="392.30" cy="617.91" r="1.45"/><circle cx="393.04" cy="675.56" r="1.45"/><circle cx="393.77" cy="640.81" r="1.45"/><circle cx="394.51" cy="616.69" r="1.45"/><circle cx="395.25" cy="645.61" r="1.45"/><circle cx="395.99" cy="608.14" r="1.45"/><circle cx="396.72" cy="639.89" r="1.45"/><circle cx="397.46" cy="640.84" r="1.45"/><circle cx="398.20" cy="615.35" r="1.45"/><circle cx="398.94" cy="660.73" r="1.45"/><circle cx="399.67" cy="607.70" r="1.45"/><circle cx="400.41" cy="647.70" r="1.45"/><circle cx="401.15" cy="635.13" r="1.45"/><circle cx="401.89" cy="609.57" r="1.45"/><circle cx="402.62" cy="646.55" r="1.45"/><circle cx="403.36" cy="633.65" r="1.45"/><circle cx="404.10" cy="636.74" r="1.45"/><circle cx="404.84" cy="626.20" r="1.45"/><circle cx="405.57" cy="595.15" r="1.45"/><circle cx="406.31" cy="663.33" r="1.45"/><circle cx="407.05" cy="658.17" r="1.45"/><circle cx="407.79" cy="602.61" r="1.45"/><circle cx="408.52" cy="627.90" r="1.45"/><circle cx="409.26" cy="687.36" r="1.45"/><circle cx="410.00" cy="634.62" r="1.45"/><circle cx="410.74" cy="623.62" r="1.45"/><circle cx="411.47" cy="650.41" r="1.45"/><circle cx="412.21" cy="622.42" r="1.45"/><circle cx="412.95" cy="616.33" r="1.45"/><circle cx="413.69" cy="630.63" r="1.45"/><circle cx="414.42" cy="630.35" r="1.45"/><circle cx="415.16" cy="615.78" r="1.45"/><circle cx="415.90" cy="628.73" r="1.45"/><circle cx="416.64" cy="606.09" r="1.45"/><circle cx="417.37" cy="650.77" r="1.45"/><circle cx="418.11" cy="684.82" r="1.45"/><circle cx="418.85" cy="620.50" r="1.45"/><circle cx="419.58" cy="632.82" r="1.45"/><circle cx="420.32" cy="677.65" r="1.45"/><circle cx="421.06" cy="647.21" r="1.45"/><circle cx="421.80" cy="623.16" r="1.45"/><circle cx="422.53" cy="671.82" r="1.45"/><circle cx="423.27" cy="596.31" r="1.45"/><circle cx="424.01" cy="640.60" r="1.45"/><circle cx="424.75" cy="662.42" r="1.45"/><circle cx="425.48" cy="620.29" r="1.45"/><circle cx="426.22" cy="632.48" r="1.45"/><circle cx="426.96" cy="639.63" r="1.45"/><circle cx="427.70" cy="608.53" r="1.45"/><circle cx="428.43" cy="606.20" r="1.45"/><circle cx="429.17" cy="637.36" r="1.45"/><circle cx="429.91" cy="625.60" r="1.45"/><circle cx="430.65" cy="624.97" r="1.45"/><circle cx="431.38" cy="639.53" r="1.45"/><circle cx="432.12" cy="641.86" r="1.45"/><circle cx="432.86" cy="627.99" r="1.45"/><circle cx="433.60" cy="669.47" r="1.45"/><circle cx="434.33" cy="618.34" r="1.45"/><circle cx="435.07" cy="644.36" r="1.45"/><circle cx="435.81" cy="602.50" r="1.45"/><circle cx="436.55" cy="658.37" r="1.45"/><circle cx="437.28" cy="616.33" r="1.45"/><circle cx="438.02" cy="630.13" r="1.45"/><circle cx="438.76" cy="622.89" r="1.45"/><circle cx="439.50" cy="603.31" r="1.45"/><circle cx="440.23" cy="668.00" r="1.45"/><circle cx="440.97" cy="604.69" r="1.45"/><circle cx="441.71" cy="660.72" r="1.45"/><circle cx="442.45" cy="651.65" r="1.45"/><circle cx="443.18" cy="663.07" r="1.45"/><circle cx="443.92" cy="669.82" r="1.45"/><circle cx="444.66" cy="624.09" r="1.45"/><circle cx="445.40" cy="622.27" r="1.45"/><circle cx="446.13" cy="631.19" r="1.45"/><circle cx="446.87" cy="629.42" r="1.45"/><circle cx="447.61" cy="612.09" r="1.45"/><circle cx="448.35" cy="653.33" r="1.45"/><circle cx="449.08" cy="616.59" r="1.45"/><circle cx="449.82" cy="653.87" r="1.45"/><circle cx="450.56" cy="662.46" r="1.45"/><circle cx="451.30" cy="668.19" r="1.45"/><circle cx="452.03" cy="629.24" r="1.45"/><circle cx="452.77" cy="623.74" r="1.45"/><circle cx="453.51" cy="622.49" r="1.45"/><circle cx="454.25" cy="632.92" r="1.45"/><circle cx="454.98" cy="614.39" r="1.45"/><circle cx="455.72" cy="677.67" r="1.45"/><circle cx="456.46" cy="597.94" r="1.45"/><circle cx="457.19" cy="690.36" r="1.45"/><circle cx="457.93" cy="690.87" r="1.45"/><circle cx="458.67" cy="622.50" r="1.45"/><circle cx="459.41" cy="644.34" r="1.45"/><circle cx="460.14" cy="615.91" r="1.45"/><circle cx="460.88" cy="610.89" r="1.45"/><circle cx="461.62" cy="636.00" r="1.45"/><circle cx="462.36" cy="660.72" r="1.45"/><circle cx="463.09" cy="629.00" r="1.45"/><circle cx="463.83" cy="660.37" r="1.45"/><circle cx="464.57" cy="617.38" r="1.45"/><circle cx="465.31" cy="601.30" r="1.45"/><circle cx="466.04" cy="614.13" r="1.45"/><circle cx="466.78" cy="617.57" r="1.45"/><circle cx="467.52" cy="641.14" r="1.45"/><circle cx="468.26" cy="651.03" r="1.45"/><circle cx="468.99" cy="655.65" r="1.45"/><circle cx="469.73" cy="612.09" r="1.45"/><circle cx="470.47" cy="605.60" r="1.45"/><circle cx="471.21" cy="691.88" r="1.45"/><circle cx="471.94" cy="620.73" r="1.45"/><circle cx="472.68" cy="692.33" r="1.45"/><circle cx="473.42" cy="620.21" r="1.45"/><circle cx="474.16" cy="641.30" r="1.45"/><circle cx="474.89" cy="630.08" r="1.45"/><circle cx="475.63" cy="596.15" r="1.45"/><circle cx="476.37" cy="618.41" r="1.45"/><circle cx="477.11" cy="631.85" r="1.45"/><circle cx="477.84" cy="670.02" r="1.45"/><circle cx="478.58" cy="612.91" r="1.45"/><circle cx="479.32" cy="608.23" r="1.45"/><circle cx="480.06" cy="601.79" r="1.45"/><circle cx="480.79" cy="663.04" r="1.45"/><circle cx="481.53" cy="666.65" r="1.45"/><circle cx="482.27" cy="632.21" r="1.45"/><circle cx="483.01" cy="646.20" r="1.45"/><circle cx="483.74" cy="657.81" r="1.45"/><circle cx="484.48" cy="671.61" r="1.45"/><circle cx="485.22" cy="599.46" r="1.45"/><circle cx="485.96" cy="613.56" r="1.45"/><circle cx="486.69" cy="675.11" r="1.45"/><circle cx="487.43" cy="617.79" r="1.45"/><circle cx="488.17" cy="617.53" r="1.45"/><circle cx="488.91" cy="673.96" r="1.45"/><circle cx="489.64" cy="593.36" r="1.45"/><circle cx="490.38" cy="613.29" r="1.45"/><circle cx="491.12" cy="595.58" r="1.45"/><circle cx="491.86" cy="631.88" r="1.45"/><circle cx="492.59" cy="693.08" r="1.45"/><circle cx="493.33" cy="626.81" r="1.45"/><circle cx="494.07" cy="619.44" r="1.45"/><circle cx="494.81" cy="626.18" r="1.45"/><circle cx="495.54" cy="621.02" r="1.45"/><circle cx="496.28" cy="646.01" r="1.45"/><circle cx="497.02" cy="658.23" r="1.45"/><circle cx="497.75" cy="656.72" r="1.45"/><circle cx="498.49" cy="640.13" r="1.45"/><circle cx="499.23" cy="649.29" r="1.45"/><circle cx="499.97" cy="654.73" r="1.45"/><circle cx="500.70" cy="624.82" r="1.45"/><circle cx="501.44" cy="618.55" r="1.45"/><circle cx="502.18" cy="622.94" r="1.45"/><circle cx="502.92" cy="672.67" r="1.45"/><circle cx="503.65" cy="630.05" r="1.45"/><circle cx="504.39" cy="640.71" r="1.45"/><circle cx="505.13" cy="652.57" r="1.45"/><circle cx="505.87" cy="644.95" r="1.45"/><circle cx="506.60" cy="610.36" r="1.45"/><circle cx="507.34" cy="641.94" r="1.45"/><circle cx="508.08" cy="619.33" r="1.45"/><circle cx="508.82" cy="693.39" r="1.45"/><circle cx="509.55" cy="634.40" r="1.45"/><circle cx="510.29" cy="660.29" r="1.45"/><circle cx="511.03" cy="628.63" r="1.45"/><circle cx="511.77" cy="674.78" r="1.45"/><circle cx="512.50" cy="639.54" r="1.45"/><circle cx="513.24" cy="701.79" r="1.45"/><circle cx="513.98" cy="671.79" r="1.45"/><circle cx="514.72" cy="630.15" r="1.45"/><circle cx="515.45" cy="616.96" r="1.45"/><circle cx="516.19" cy="643.49" r="1.45"/><circle cx="516.93" cy="628.69" r="1.45"/><circle cx="517.67" cy="683.56" r="1.45"/><circle cx="518.40" cy="644.02" r="1.45"/><circle cx="519.14" cy="603.31" r="1.45"/><circle cx="519.88" cy="626.89" r="1.45"/><circle cx="520.62" cy="656.52" r="1.45"/><circle cx="521.35" cy="606.82" r="1.45"/><circle cx="522.09" cy="631.81" r="1.45"/><circle cx="522.83" cy="600.93" r="1.45"/><circle cx="523.57" cy="640.44" r="1.45"/><circle cx="524.30" cy="611.19" r="1.45"/><circle cx="525.04" cy="643.37" r="1.45"/><circle cx="525.78" cy="621.94" r="1.45"/><circle cx="526.52" cy="631.30" r="1.45"/><circle cx="527.25" cy="686.58" r="1.45"/><circle cx="527.99" cy="636.58" r="1.45"/><circle cx="528.73" cy="598.85" r="1.45"/><circle cx="529.47" cy="602.49" r="1.45"/><circle cx="530.20" cy="613.75" r="1.45"/><circle cx="530.94" cy="597.74" r="1.45"/><circle cx="531.68" cy="616.25" r="1.45"/><circle cx="532.42" cy="633.56" r="1.45"/><circle cx="533.15" cy="616.39" r="1.45"/><circle cx="533.89" cy="598.05" r="1.45"/><circle cx="534.63" cy="606.98" r="1.45"/><circle cx="535.36" cy="652.10" r="1.45"/><circle cx="536.10" cy="610.40" r="1.45"/><circle cx="536.84" cy="615.88" r="1.45"/><circle cx="537.58" cy="603.97" r="1.45"/><circle cx="538.31" cy="633.03" r="1.45"/><circle cx="539.05" cy="661.40" r="1.45"/><circle cx="539.79" cy="598.37" r="1.45"/><circle cx="540.53" cy="620.52" r="1.45"/><circle cx="541.26" cy="651.07" r="1.45"/><circle cx="542.00" cy="608.36" r="1.45"/><circle cx="542.74" cy="658.03" r="1.45"/><circle cx="543.48" cy="673.24" r="1.45"/><circle cx="544.21" cy="621.27" r="1.45"/><circle cx="544.95" cy="636.49" r="1.45"/><circle cx="545.69" cy="625.17" r="1.45"/><circle cx="546.43" cy="641.84" r="1.45"/><circle cx="547.16" cy="674.30" r="1.45"/><circle cx="547.90" cy="627.38" r="1.45"/><circle cx="548.64" cy="638.71" r="1.45"/><circle cx="549.38" cy="614.37" r="1.45"/><circle cx="550.11" cy="661.90" r="1.45"/><circle cx="550.85" cy="598.64" r="1.45"/><circle cx="551.59" cy="688.84" r="1.45"/><circle cx="552.33" cy="615.90" r="1.45"/><circle cx="553.06" cy="637.46" r="1.45"/><circle cx="553.80" cy="628.91" r="1.45"/><circle cx="554.54" cy="615.93" r="1.45"/><circle cx="555.28" cy="649.53" r="1.45"/><circle cx="556.01" cy="603.59" r="1.45"/><circle cx="556.75" cy="656.04" r="1.45"/><circle cx="557.49" cy="666.41" r="1.45"/><circle cx="558.23" cy="621.80" r="1.45"/><circle cx="558.96" cy="634.91" r="1.45"/><circle cx="559.70" cy="617.15" r="1.45"/><circle cx="560.44" cy="638.08" r="1.45"/><circle cx="561.18" cy="612.02" r="1.45"/><circle cx="561.91" cy="604.60" r="1.45"/><circle cx="562.65" cy="650.99" r="1.45"/><circle cx="563.39" cy="620.53" r="1.45"/><circle cx="564.13" cy="618.90" r="1.45"/><circle cx="564.86" cy="633.24" r="1.45"/><circle cx="565.60" cy="608.43" r="1.45"/><circle cx="566.34" cy="628.31" r="1.45"/><circle cx="567.08" cy="621.99" r="1.45"/><circle cx="567.81" cy="628.99" r="1.45"/><circle cx="568.55" cy="607.46" r="1.45"/><circle cx="569.29" cy="663.23" r="1.45"/><circle cx="570.03" cy="666.53" r="1.45"/><circle cx="570.76" cy="680.40" r="1.45"/><circle cx="571.50" cy="644.17" r="1.45"/><circle cx="573.50" cy="702.67" r="1.45"/><circle cx="574.26" cy="694.93" r="1.45"/><circle cx="575.02" cy="696.43" r="1.45"/><circle cx="575.77" cy="680.75" r="1.45"/><circle cx="576.53" cy="679.03" r="1.45"/><circle cx="577.29" cy="685.51" r="1.45"/><circle cx="578.05" cy="703.34" r="1.45"/><circle cx="578.80" cy="700.56" r="1.45"/><circle cx="579.56" cy="703.93" r="1.45"/><circle cx="580.32" cy="698.70" r="1.45"/><circle cx="581.08" cy="671.67" r="1.45"/><circle cx="581.83" cy="695.28" r="1.45"/><circle cx="582.59" cy="675.93" r="1.45"/><circle cx="583.35" cy="685.94" r="1.45"/><circle cx="584.11" cy="687.82" r="1.45"/><circle cx="584.86" cy="690.91" r="1.45"/><circle cx="585.62" cy="663.00" r="1.45"/><circle cx="586.38" cy="688.67" r="1.45"/><circle cx="587.14" cy="682.28" r="1.45"/><circle cx="587.89" cy="691.03" r="1.45"/><circle cx="588.65" cy="652.62" r="1.45"/><circle cx="589.41" cy="679.62" r="1.45"/><circle cx="590.17" cy="695.49" r="1.45"/><circle cx="590.92" cy="680.42" r="1.45"/><circle cx="591.68" cy="702.86" r="1.45"/><circle cx="592.44" cy="680.66" r="1.45"/><circle cx="593.20" cy="694.22" r="1.45"/><circle cx="593.95" cy="658.71" r="1.45"/><circle cx="594.71" cy="654.58" r="1.45"/><circle cx="595.47" cy="640.83" r="1.45"/><circle cx="596.23" cy="678.29" r="1.45"/><circle cx="596.98" cy="685.16" r="1.45"/><circle cx="597.74" cy="701.80" r="1.45"/><circle cx="598.50" cy="667.64" r="1.45"/><circle cx="599.26" cy="681.24" r="1.45"/><circle cx="600.02" cy="650.70" r="1.45"/><circle cx="600.77" cy="639.05" r="1.45"/><circle cx="601.53" cy="688.48" r="1.45"/><circle cx="602.29" cy="669.05" r="1.45"/><circle cx="603.05" cy="641.99" r="1.45"/><circle cx="603.80" cy="686.78" r="1.45"/><circle cx="604.56" cy="682.27" r="1.45"/><circle cx="605.32" cy="651.78" r="1.45"/><circle cx="606.08" cy="658.15" r="1.45"/><circle cx="606.83" cy="688.65" r="1.45"/><circle cx="607.59" cy="655.04" r="1.45"/><circle cx="608.35" cy="666.14" r="1.45"/><circle cx="609.11" cy="660.15" r="1.45"/><circle cx="609.86" cy="653.81" r="1.45"/><circle cx="610.62" cy="633.83" r="1.45"/><circle cx="611.38" cy="645.33" r="1.45"/><circle cx="612.14" cy="670.92" r="1.45"/><circle cx="612.89" cy="636.08" r="1.45"/><circle cx="613.65" cy="645.08" r="1.45"/><circle cx="614.41" cy="648.32" r="1.45"/><circle cx="615.17" cy="664.16" r="1.45"/><circle cx="615.92" cy="666.42" r="1.45"/><circle cx="616.68" cy="652.56" r="1.45"/><circle cx="617.44" cy="631.23" r="1.45"/><circle cx="618.20" cy="644.75" r="1.45"/><circle cx="618.95" cy="648.37" r="1.45"/><circle cx="619.71" cy="645.79" r="1.45"/><circle cx="620.47" cy="644.75" r="1.45"/><circle cx="621.23" cy="652.88" r="1.45"/><circle cx="621.98" cy="647.07" r="1.45"/><circle cx="622.74" cy="674.11" r="1.45"/><circle cx="623.50" cy="647.24" r="1.45"/><circle cx="624.26" cy="632.65" r="1.45"/><circle cx="625.02" cy="641.89" r="1.45"/><circle cx="625.77" cy="622.84" r="1.45"/><circle cx="626.53" cy="620.93" r="1.45"/><circle cx="627.29" cy="647.32" r="1.45"/><circle cx="628.05" cy="660.39" r="1.45"/><circle cx="628.80" cy="641.16" r="1.45"/><circle cx="629.56" cy="660.12" r="1.45"/><circle cx="630.32" cy="628.09" r="1.45"/><circle cx="631.08" cy="640.99" r="1.45"/><circle cx="631.83" cy="628.30" r="1.45"/><circle cx="632.59" cy="641.82" r="1.45"/><circle cx="633.35" cy="647.78" r="1.45"/><circle cx="634.11" cy="613.74" r="1.45"/><circle cx="634.86" cy="637.63" r="1.45"/><circle cx="635.62" cy="634.00" r="1.45"/><circle cx="636.38" cy="631.74" r="1.45"/><circle cx="637.14" cy="639.95" r="1.45"/><circle cx="637.89" cy="637.38" r="1.45"/><circle cx="638.65" cy="651.54" r="1.45"/><circle cx="639.41" cy="631.45" r="1.45"/><circle cx="640.17" cy="625.62" r="1.45"/><circle cx="640.92" cy="643.17" r="1.45"/><circle cx="641.68" cy="654.33" r="1.45"/><circle cx="642.44" cy="635.94" r="1.45"/><circle cx="643.20" cy="619.15" r="1.45"/><circle cx="643.95" cy="617.29" r="1.45"/><circle cx="644.71" cy="621.37" r="1.45"/><circle cx="645.47" cy="638.01" r="1.45"/><circle cx="646.23" cy="619.30" r="1.45"/><circle cx="646.98" cy="626.51" r="1.45"/><circle cx="647.74" cy="611.54" r="1.45"/><circle cx="648.50" cy="615.57" r="1.45"/><circle cx="564.60" cy="577.38" r="1.45"/><circle cx="640.00" cy="595.42" r="1.45"/></g>
<line x1="379.50" y1="644.27" x2="572.00" y2="633.00" stroke="#843c0c" stroke-width="1.9" stroke-dasharray="1.9,1.5"/>
<line x1="573.00" y1="696.57" x2="649.50" y2="622.47" stroke="#843c0c" stroke-width="1.9" stroke-dasharray="1.9,1.5"/>
<rect x="379.5" y="565.3" width="270.4" height="150.1" fill="none" stroke="#5a5a5a" stroke-width="1.3"/>
<text x="475.60" y="714.00" font-size="11.5" text-anchor="middle" stroke="#843c0c" stroke-width="0.35" textLength="43.4" lengthAdjust="spacingAndGlyphs"><tspan font-weight="normal" font-style="normal" fill="#843c0c">r²</tspan><tspan font-weight="normal" font-style="normal" fill="#843c0c">=0.0225</tspan></text>
<text x="612.30" y="714.00" font-size="11.5" text-anchor="middle" stroke="#843c0c" stroke-width="0.35" textLength="43.7" lengthAdjust="spacingAndGlyphs"><tspan font-weight="normal" font-style="normal" fill="#843c0c">r²</tspan><tspan font-weight="normal" font-style="normal" fill="#843c0c">=0.5573</tspan></text>
<line x1="380.00" y1="720.50" x2="570.80" y2="720.50" stroke="#111" stroke-width="2"/>
<line x1="573.20" y1="720.50" x2="648.80" y2="720.50" stroke="#c8201e" stroke-width="2"/>
<text x="481.80" y="737.80" font-size="13.6" text-anchor="middle" textLength="54" lengthAdjust="spacingAndGlyphs"><tspan font-weight="bold" font-style="italic" fill="#111">NPM1</tspan><tspan font-weight="bold" font-style="italic" fill="#999999">wt</tspan></text>
<text x="613.20" y="737.80" font-size="13.6" text-anchor="middle" textLength="42" lengthAdjust="spacingAndGlyphs"><tspan font-weight="bold" font-style="italic" fill="#111">NPM1</tspan><tspan font-weight="bold" font-style="italic" fill="#c00000">c</tspan></text>
<line x1="572.50" y1="455.90" x2="572.50" y2="744.00" stroke="#222" stroke-width="1" stroke-dasharray="3,2"/>
<text x="0.00" y="0.00" font-size="13" text-anchor="middle" textLength="98" lengthAdjust="spacingAndGlyphs" transform="translate(329.2,642.2) rotate(-90)"><tspan font-weight="bold" font-style="italic" fill="#d26619">AKT3</tspan><tspan font-weight="bold" font-style="normal" fill="#111"> expression</tspan></text>
<text x="0.00" y="0.00" font-size="12" font-weight="normal" font-style="normal" fill="#404040" text-anchor="middle" textLength="68.8" lengthAdjust="spacingAndGlyphs" transform="translate(346.6,642.8) rotate(-90)">(log2 RPKM)</text>
</svg></body></html>
